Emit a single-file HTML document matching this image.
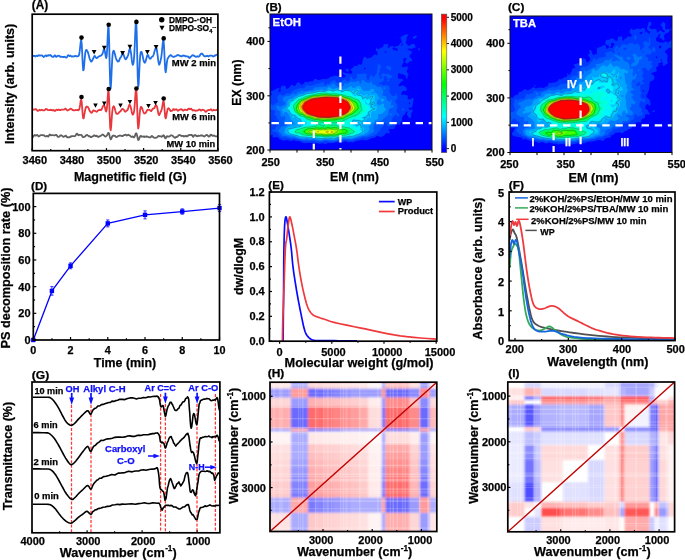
<!DOCTYPE html>
<html><head><meta charset="utf-8"><style>
html,body{margin:0;padding:0;background:#fff;width:685px;height:560px;overflow:hidden}
svg{display:block;will-change:transform;font-family:"Liberation Sans",sans-serif;font-weight:bold}
text{stroke:#000;stroke-width:.25px}text[fill="#fff"]{stroke:#fff}text[fill="#0f0fff"]{stroke:#0f0fff}
</style></head><body>
<svg width="685" height="560" viewBox="0 0 685 560">
<defs><filter id="blur1" x="-5%" y="-5%" width="110%" height="110%"><feGaussianBlur stdDeviation="0.7"/></filter><filter id="blur2" x="-5%" y="-5%" width="110%" height="110%"><feGaussianBlur stdDeviation="1.3"/></filter></defs>
<rect width="685" height="560" fill="#fff"/>
<path d="M32.7,56.11 33.2,56.02 33.7,55.65 34.2,55.95 34.7,55.9 35.2,56.55 35.7,56.22 36.2,55.91 36.7,55.68 37.2,55.95 37.7,56.13 38.2,55.48 38.7,55.17 39.2,55.37 39.7,55.7 40.2,55.71 40.7,55.48 41.2,55.37 41.7,55.44 42.2,55.41 42.7,56.22 43.2,56.5 43.7,57.04 44.2,56.43 44.7,56.41 45.2,55.57 45.7,55.67 46.2,55.39 46.7,56.19 47.2,55.75 47.7,55.68 48.2,55.18 48.7,55.55 49.2,55.42 49.7,55.45 50.2,54.98 50.7,55.25 51.2,55.73 51.7,56.64 52.2,56.69 52.7,56.74 53.2,56.68 53.7,56.77 54.2,56.03 54.7,55.46 55.2,55.44 55.7,56.35 56.2,56.93 56.7,56.64 57.2,56.11 57.7,55.98 58.2,55.96 58.7,55.68 59.2,55.86 59.7,56.28 60.2,56.73 60.7,56.68 61.2,56.78 61.7,56.73 62.2,56.78 62.7,56.93 63.2,57.15 63.7,56.86 64.2,56.84 64.7,56.75 65.2,57.11 65.7,57.35 66.2,57.53 66.7,57.39 67.2,56.64 67.7,55.71 68.2,55.1 68.7,55.48 69.2,55.84 69.7,56.04 70.2,55.5 70.7,55.88 71.2,56.01 71.7,56.69 72.2,56.42 72.7,56.64 73.2,56.42 73.7,56.39 74.2,56.4 74.7,56.04 75.2,55.96 75.7,55.91 76.2,56.15 76.7,56.45 77.2,56.41 77.7,56.25 78.2,56.18 78.7,55.59 79.2,54.3 79.7,51.19 80.2,46.54 80.7,41.84 81.2,39.83 81.7,43.57 82.2,53.21 82.7,63.98 83.2,70.34 83.7,69.97 84.2,64.71 84.7,58.68 85.2,53.54 85.7,50.88 86.2,49.96 86.7,50 87.2,50.87 87.7,51.64 88.2,53.17 88.7,54.91 89.2,57.05 89.7,58.74 90.2,60 90.7,60.95 91.2,61.64 91.7,61.35 92.2,60.54 92.7,59.52 93.2,58.46 93.7,57.48 94.2,56.26 94.7,55.98 95.2,56.48 95.7,57.2 96.2,57.86 96.7,58.04 97.2,57.94 97.7,57.6 98.2,56.73 98.7,56.49 99.2,56.15 99.7,56.18 100.2,55.94 100.7,55.76 101.2,55.27 101.7,54.96 102.2,54.33 102.7,53.1 103.2,51.44 103.7,49.57 104.2,49.33 104.7,50.31 105.2,53.06 105.7,56.25 106.2,58.14 106.7,56.17 107.2,48.32 107.7,36.2 108.2,26.51 108.7,27.95 109.2,43.73 109.7,66.73 110.2,84.41 110.7,88.52 111.2,81.08 111.7,69.23 112.2,59.75 112.7,53.71 113.2,51.11 113.7,50.69 114.2,51.75 114.7,53.31 115.2,55.32 115.7,57.34 116.2,58.83 116.7,60.04 117.2,60.83 117.7,61.58 118.2,61.45 118.7,61.47 119.2,60.35 119.7,59.2 120.2,57.8 120.7,57.34 121.2,56.68 121.7,55.19 122.2,53.84 122.7,52.89 123.2,53.86 123.7,54.87 124.2,56.65 124.7,57.91 125.2,58.89 125.7,59.38 126.2,58.64 126.7,58.06 127.2,57.05 127.7,56.11 128.2,54.81 128.7,52.72 129.2,50.09 129.7,48.83 130.2,48.77 130.7,51.39 131.2,54.52 131.7,59.15 132.2,62.76 132.7,64.84 133.2,64.24 133.7,61.71 134.2,55.88 134.7,46.74 135.2,34.38 135.7,23.38 136.2,20.73 136.7,32.29 137.2,54.88 137.7,76.79 138.2,86.9 138.7,83.52 139.2,73 139.7,62.32 140.2,55.67 140.7,52.24 141.2,51.85 141.7,52.05 142.2,53.95 142.7,56.04 143.2,58.75 143.7,60.89 144.2,62.07 144.7,62.7 145.2,62.15 145.7,61.16 146.2,58.97 146.7,57.21 147.2,55.37 147.7,55.05 148.2,55.15 148.7,56.59 149.2,57.63 149.7,58.57 150.2,58.81 150.7,58.55 151.2,57.6 151.7,57.08 152.2,56.56 152.7,56.47 153.2,55.64 153.7,54.49 154.2,52.64 154.7,50.73 155.2,49.39 155.7,48.11 156.2,48.02 156.7,48.92 157.2,52.28 157.7,55.96 158.2,60.43 158.7,63.19 159.2,64.72 159.7,63.8 160.2,62.24 160.7,59.93 161.2,57.58 161.7,53.81 162.2,48.96 162.7,43.54 163.2,40.14 163.7,41.75 164.2,49.46 164.7,60.83 165.2,69.61 165.7,72.34 166.2,69.11 166.7,64.18 167.2,60.29 167.7,58.57 168.2,57.56 168.7,57.05 169.2,56.1 169.7,55.94 170.2,55.1 170.7,55.16 171.2,55.21 171.7,55.81 172.2,56.35 172.7,56.54 173.2,56.85 173.7,56.9 174.2,56.78 174.7,56.42 175.2,56.29 175.7,56.17 176.2,56.01 176.7,55.42 177.2,55.4 177.7,54.96 178.2,55.21 178.7,55.04 179.2,55.71 179.7,55.73 180.2,55.98 180.7,56.25 181.2,56.24 181.7,56.44 182.2,55.8 182.7,55.83 183.2,55.5 183.7,55.8 184.2,55.66 184.7,55.94 185.2,56.09 185.7,56.34 186.2,56.26 186.7,56.31 187.2,56.56 187.7,56.57 188.2,56.49 188.7,57.14 189.2,57.94 189.7,57.99 190.2,57.39 190.7,56.66 191.2,56.51 191.7,55.98 192.2,55.42 192.7,55.21 193.2,55.2 193.7,55.6 194.2,55.82 194.7,56.13 195.2,56.48 195.7,56.89 196.2,56.77 196.7,56.58 197.2,56.23 197.7,56.65 198.2,56.54 198.7,56.77 199.2,56.21 199.7,55.86 200.2,54.67 200.7,54.29 201.2,53.69 201.7,53.64 202.2,53.75 202.7,54.11 203.2,55.05 203.7,55.54 204.2,56.13 204.7,56.4 205.2,56.25 205.7,56.32 206.2,56.09 206.7,56.17 207.2,55.74 207.7,56.06 208.2,56.1 208.7,56.44 209.2,55.78 209.7,55.7 210.2,55.57 210.7,55.75 211.2,55.6 211.7,55.72 212.2,55.87 212.7,56.06 213.2,56.53 213.7,56.27 214.2,56.18 214.7,55.45 215.2,55.64 215.7,55.42 216.2,54.97 216.7,54.73 217.2,55.07" fill="none" stroke="#1f6fe8" stroke-width="1.8" stroke-linejoin="round"/>
<path d="M32.7,109.65 33.2,109.72 33.7,109.49 34.2,109.64 34.7,109.44 35.2,109.39 35.7,109.09 36.2,109.16 36.7,109.87 37.2,110.55 37.7,110.88 38.2,110.77 38.7,110.52 39.2,110.02 39.7,109.78 40.2,110.07 40.7,110.34 41.2,110.04 41.7,109.7 42.2,109.95 42.7,110.25 43.2,110.31 43.7,110.37 44.2,110.44 44.7,110.27 45.2,109.63 45.7,109.17 46.2,108.93 46.7,109.28 47.2,109.41 47.7,110.07 48.2,110.06 48.7,110.19 49.2,110.17 49.7,109.96 50.2,110.02 50.7,109.65 51.2,110.05 51.7,110.01 52.2,110.41 52.7,110.16 53.2,110.42 53.7,110.17 54.2,110.74 54.7,110.72 55.2,110.87 55.7,110.29 56.2,109.9 56.7,109.65 57.2,110 57.7,110.04 58.2,109.76 58.7,109.49 59.2,109.96 59.7,110.21 60.2,110.21 60.7,109.95 61.2,109.81 61.7,109.65 62.2,109.62 62.7,109.66 63.2,109.68 63.7,109.63 64.2,109.5 64.7,109.16 65.2,108.72 65.7,108.6 66.2,109.41 66.7,109.92 67.2,110.5 67.7,110.36 68.2,110.14 68.7,110.03 69.2,109.62 69.7,109.24 70.2,108.9 70.7,108.66 71.2,108.95 71.7,109.07 72.2,109.83 72.7,110.06 73.2,110.33 73.7,110.23 74.2,110.42 74.7,110.34 75.2,110.05 75.7,109.96 76.2,110.07 76.7,110.06 77.2,110.09 77.7,109.87 78.2,110.27 78.7,109.76 79.2,109.45 79.7,107.24 80.2,104.44 80.7,100.69 81.2,99.5 81.7,102.15 82.2,108.1 82.7,114.69 83.2,118.35 83.7,118.28 84.2,115.46 84.7,112.55 85.2,109.93 85.7,107.93 86.2,106.73 86.7,106.42 87.2,106.84 87.7,106.82 88.2,107.37 88.7,108.53 89.2,109.7 89.7,111.03 90.2,111.48 90.7,112.4 91.2,112.5 91.7,112.89 92.2,112.1 92.7,111.41 93.2,110.29 93.7,110.42 94.2,110.53 94.7,110.96 95.2,111.03 95.7,111.35 96.2,111.51 96.7,111.8 97.2,111.54 97.7,110.78 98.2,110.36 98.7,110.15 99.2,110.18 99.7,109.9 100.2,109.63 100.7,110.17 101.2,109.94 101.7,109.25 102.2,107.96 102.7,106.57 103.2,105.94 103.7,105.2 104.2,105.38 104.7,106.55 105.2,108.51 105.7,110.78 106.2,111.62 106.7,109.83 107.2,105 107.7,97.38 108.2,91.29 108.7,91.71 109.2,101.63 109.7,116.14 110.2,127.94 110.7,130.37 111.2,126.21 111.7,118.34 112.2,112.4 112.7,108.29 113.2,106.64 113.7,106.27 114.2,106.91 114.7,108.23 115.2,110.31 115.7,111.99 116.2,113.52 116.7,113.85 117.2,113.82 117.7,113.79 118.2,113.24 118.7,112.98 119.2,112.11 119.7,111.89 120.2,111.39 120.7,111.1 121.2,110.34 121.7,109.51 122.2,108.92 122.7,108.88 123.2,109.23 123.7,109.65 124.2,110.3 124.7,111.51 125.2,111.76 125.7,111.52 126.2,111 126.7,110.49 127.2,110.42 127.7,109.59 128.2,108.43 128.7,106.58 129.2,104.95 129.7,104.81 130.2,105.52 130.7,107.08 131.2,108.99 131.7,111.5 132.2,113.69 132.7,114.67 133.2,114.51 133.7,113.06 134.2,110.39 134.7,105.13 135.2,97.86 135.7,90.79 136.2,88.55 136.7,95.21 137.2,108.64 137.7,122.17 138.2,128.56 138.7,126.44 139.2,120.32 139.7,113.5 140.2,109.44 140.7,107.19 141.2,106.86 141.7,107.37 142.2,108.37 142.7,110.03 143.2,111.47 143.7,112.71 144.2,113.38 144.7,113.49 145.2,113.26 145.7,112.73 146.2,112.04 146.7,110.92 147.2,110.25 147.7,109.78 148.2,109.94 148.7,109.76 149.2,109.97 149.7,109.95 150.2,110.49 150.7,110.87 151.2,111.14 151.7,110.54 152.2,109.48 152.7,108.77 153.2,108.42 153.7,108.53 154.2,108.27 154.7,107.42 155.2,106.18 155.7,105.2 156.2,105.08 156.7,105.95 157.2,107.46 157.7,110.01 158.2,112.76 158.7,114.7 159.2,115.15 159.7,114.11 160.2,112.99 160.7,111.92 161.2,111.05 161.7,109.56 162.2,107.06 162.7,103.81 163.2,101.32 163.7,101.1 164.2,105.12 164.7,111.44 165.2,117.06 165.7,118.43 166.2,116.9 166.7,113.54 167.2,111.13 167.7,108.82 168.2,108.34 168.7,108.25 169.2,108.79 169.7,109.46 170.2,110.51 170.7,111 171.2,110.93 171.7,110.74 172.2,110.68 172.7,110.29 173.2,109.22 173.7,109.06 174.2,109.26 174.7,109.99 175.2,109.69 175.7,109.51 176.2,109.14 176.7,109.53 177.2,110.19 177.7,110.73 178.2,110.69 178.7,110.28 179.2,109.76 179.7,109.77 180.2,109.56 180.7,109.31 181.2,109.14 181.7,109.37 182.2,110.01 182.7,110.45 183.2,110.63 183.7,110.33 184.2,109.85 184.7,109.73 185.2,109.73 185.7,109.86 186.2,109.93 186.7,110.07 187.2,110.18 187.7,109.61 188.2,108.87 188.7,108.64 189.2,108.64 189.7,109.24 190.2,108.97 190.7,109.13 191.2,108.67 191.7,109.48 192.2,109.8 192.7,110.53 193.2,110.24 193.7,110.21 194.2,110.24 194.7,110.41 195.2,110.66 195.7,110.86 196.2,110.54 196.7,110.67 197.2,110.63 197.7,110.45 198.2,110.14 198.7,109.58 199.2,109.58 199.7,109.51 200.2,109.95 200.7,110.54 201.2,110.6 201.7,110.21 202.2,109.85 202.7,109.76 203.2,109.96 203.7,109.84 204.2,110.23 204.7,110.55 205.2,111.58 205.7,111.78 206.2,111.66 206.7,110.97 207.2,110.62 207.7,110.39 208.2,110.06 208.7,109.99 209.2,110.03 209.7,110.12 210.2,109.68 210.7,109.31 211.2,109.39 211.7,109.97 212.2,110.59 212.7,110.55 213.2,110.31 213.7,109.73 214.2,109.94 214.7,110.07 215.2,110.29 215.7,110.23 216.2,110.16 216.7,109.91 217.2,109.67" fill="none" stroke="#e8383d" stroke-width="1.8" stroke-linejoin="round"/>
<path d="M32.7,136.87 33.2,136.88 33.7,135.85 34.2,135.52 34.7,134.97 35.2,135.36 35.7,135.59 36.2,135.48 36.7,135.18 37.2,134.85 37.7,135.47 38.2,135.87 38.7,136.49 39.2,136.2 39.7,135.95 40.2,135.3 40.7,135.21 41.2,135.12 41.7,135.06 42.2,135.04 42.7,135.31 43.2,135.2 43.7,135.34 44.2,135.37 44.7,135.94 45.2,136.32 45.7,136.45 46.2,136.31 46.7,135.85 47.2,135.99 47.7,136.33 48.2,136.64 48.7,135.92 49.2,135.13 49.7,134.5 50.2,134.87 50.7,135.11 51.2,135.31 51.7,135.19 52.2,135.19 52.7,135.08 53.2,135.22 53.7,135.29 54.2,135.38 54.7,135.37 55.2,135.09 55.7,135.05 56.2,134.8 56.7,135.16 57.2,135.9 57.7,136.69 58.2,136.91 58.7,136.91 59.2,136.69 59.7,136.34 60.2,135.6 60.7,135.29 61.2,135.47 61.7,135.46 62.2,135.85 62.7,136.39 63.2,136.79 63.7,136.79 64.2,136.44 64.7,136.42 65.2,135.84 65.7,135.66 66.2,135.94 66.7,136.75 67.2,137.38 67.7,137.19 68.2,137.41 68.7,137.35 69.2,137.31 69.7,137.1 70.2,136.71 70.7,136.77 71.2,136.24 71.7,136.29 72.2,136.12 72.7,136.07 73.2,136.08 73.7,136.16 74.2,136.23 74.7,136.33 75.2,136.01 75.7,135.45 76.2,134.4 76.7,133.73 77.2,133.72 77.7,134.5 78.2,134.97 78.7,135.35 79.2,134.89 79.7,134.87 80.2,134.86 80.7,134.89 81.2,134.88 81.7,135.24 82.2,136.03 82.7,136.98 83.2,137.22 83.7,137.11 84.2,136.94 84.7,136.7 85.2,136.37 85.7,135.79 86.2,135.2 86.7,135.09 87.2,134.99 87.7,135.47 88.2,135.7 88.7,136.25 89.2,136.32 89.7,136.19 90.2,136.53 90.7,137.03 91.2,137.1 91.7,136.81 92.2,136.58 92.7,136.31 93.2,136.19 93.7,135.48 94.2,135.36 94.7,135.45 95.2,135.88 95.7,136.16 96.2,136.1 96.7,135.67 97.2,136.35 97.7,136.35 98.2,137.07 98.7,136.6 99.2,136.57 99.7,136.37 100.2,136.05 100.7,135.94 101.2,135.46 101.7,135.14 102.2,134.66 102.7,134.5 103.2,134.71 103.7,135.23 104.2,135.62 104.7,136.22 105.2,136.43 105.7,136.6 106.2,136.17 106.7,135.67 107.2,135.01 107.7,134.02 108.2,132.85 108.7,132.99 109.2,134.15 109.7,136.39 110.2,138.03 110.7,139.3 111.2,138.97 111.7,137.65 112.2,136.36 112.7,135.76 113.2,135.84 113.7,135.68 114.2,135.67 114.7,135.81 115.2,136.1 115.7,136.61 116.2,137.09 116.7,137.02 117.2,136.72 117.7,136.25 118.2,136.11 118.7,135.98 119.2,135.73 119.7,135.52 120.2,135.55 120.7,135.6 121.2,135.85 121.7,135.86 122.2,136.07 122.7,136.06 123.2,135.61 123.7,135.35 124.2,135.03 124.7,135.02 125.2,134.77 125.7,134.75 126.2,134.98 126.7,135.59 127.2,135.22 127.7,135.09 128.2,134.69 128.7,135.2 129.2,135.3 129.7,135.58 130.2,135.72 130.7,136.34 131.2,136.79 131.7,136.92 132.2,136.65 132.7,136.43 133.2,136.91 133.7,137.37 134.2,137.31 134.7,136.44 135.2,134.92 135.7,133.59 136.2,133.19 136.7,133.97 137.2,136.03 137.7,138.36 138.2,140.12 138.7,139.79 139.2,138.77 139.7,137.14 140.2,136.43 140.7,135.86 141.2,136.15 141.7,136.73 142.2,136.71 142.7,136.59 143.2,136.43 143.7,136.55 144.2,136.95 144.7,136.53 145.2,136.81 145.7,136.56 146.2,136.74 146.7,136.35 147.2,136.58 147.7,136.71 148.2,137.1 148.7,137.19 149.2,137.19 149.7,137.46 150.2,137.36 150.7,137.26 151.2,136.66 151.7,135.96 152.2,136.12 152.7,136.6 153.2,137.34 153.7,137.43 154.2,137.62 154.7,137.79 155.2,137.86 155.7,137.71 156.2,137.54 156.7,137.57 157.2,137.2 157.7,136.65 158.2,136.07 158.7,135.97 159.2,136.13 159.7,136.37 160.2,136.27 160.7,136.34 161.2,136.26 161.7,136.78 162.2,136.44 162.7,136.14 163.2,135.25 163.7,135.32 164.2,135.85 164.7,137.36 165.2,138.17 165.7,138.27 166.2,137.23 166.7,136.43 167.2,136.19 167.7,136.66 168.2,136.69 168.7,136.62 169.2,136.35 169.7,136.37 170.2,135.89 170.7,135.5 171.2,135.44 171.7,135.35 172.2,135.52 172.7,135.81 173.2,136.59 173.7,136.78 174.2,137.45 174.7,137.72 175.2,137.73 175.7,137.28 176.2,136.76 176.7,137.08 177.2,136.58 177.7,136.62 178.2,135.67 178.7,135.46 179.2,134.99 179.7,135.07 180.2,135.06 180.7,135.59 181.2,135.65 181.7,136.03 182.2,135.84 182.7,136.02 183.2,135.89 183.7,136.54 184.2,136.46 184.7,136.38 185.2,135.63 185.7,136.09 186.2,135.87 186.7,136.54 187.2,136.3 187.7,136.2 188.2,135.35 188.7,135.06 189.2,135.15 189.7,135.01 190.2,134.97 190.7,134.86 191.2,135.02 191.7,134.82 192.2,135.51 192.7,136.29 193.2,136.91 193.7,136.26 194.2,135.22 194.7,135.03 195.2,135.05 195.7,135.48 196.2,135.52 196.7,136.19 197.2,136.33 197.7,136.23 198.2,135.69 198.7,135.72 199.2,135.92 199.7,135.8 200.2,135.63 200.7,135.37 201.2,135.54 201.7,135.48 202.2,135.44 202.7,135.65 203.2,136 203.7,136.37 204.2,136.5 204.7,136.19 205.2,135.82 205.7,135.24 206.2,135.08 206.7,134.8 207.2,135.15 207.7,135.68 208.2,136.04 208.7,136.55 209.2,136.37 209.7,136.31 210.2,135.12 210.7,134.86 211.2,134.65 211.7,135.24 212.2,135.61 212.7,135.95 213.2,135.93 213.7,135.48 214.2,135.55 214.7,135.85 215.2,136.25 215.7,136.47 216.2,136.39 216.7,136.37 217.2,136.21" fill="none" stroke="#606060" stroke-width="1.8" stroke-linejoin="round"/>
<circle cx="81.5" cy="37.6" r="2.3"/>
<circle cx="108.7" cy="24.8" r="2.3"/>
<circle cx="136.4" cy="21.9" r="2.3"/>
<circle cx="163.7" cy="38.4" r="2.3"/>
<path d="M91.7,50.04L96.5,50.04L94.1,54.6Z"/>
<path d="M101.9,45.64L106.7,45.64L104.3,50.2Z"/>
<path d="M120.2,51.04L125,51.04L122.6,55.6Z"/>
<path d="M127.5,44.64L132.3,44.64L129.9,49.2Z"/>
<path d="M145,50.04L149.8,50.04L147.4,54.6Z"/>
<path d="M153.7,44.94L158.5,44.94L156.1,49.5Z"/>
<circle cx="81.5" cy="97" r="2.3"/>
<circle cx="108.7" cy="89" r="2.3"/>
<circle cx="136.4" cy="88.5" r="2.3"/>
<circle cx="163.7" cy="98.5" r="2.3"/>
<path d="M93.2,103.43L97.8,103.43L95.5,107.8Z"/>
<path d="M102,101.43L106.6,101.43L104.3,105.8Z"/>
<path d="M118.2,103.43L122.8,103.43L120.5,107.8Z"/>
<path d="M127.6,99.93L132.2,99.93L129.9,104.3Z"/>
<path d="M146.2,103.93L150.8,103.93L148.5,108.3Z"/>
<path d="M153.2,100.93L157.8,100.93L155.5,105.3Z"/>
<rect x="32.2" y="14.2" width="185.7" height="136.5" fill="none" stroke="#000" stroke-width="1.7"/>
<line x1="32.2" y1="150.7" x2="32.2" y2="148.1" stroke="#000" stroke-width="1.2"/>
<text x="34.8" y="164" font-size="11" text-anchor="middle">3460</text>
<line x1="50.77" y1="150.7" x2="50.77" y2="149.1" stroke="#000" stroke-width="1.2"/>
<line x1="69.34" y1="150.7" x2="69.34" y2="148.1" stroke="#000" stroke-width="1.2"/>
<text x="71.94" y="164" font-size="11" text-anchor="middle">3480</text>
<line x1="87.91" y1="150.7" x2="87.91" y2="149.1" stroke="#000" stroke-width="1.2"/>
<line x1="106.48" y1="150.7" x2="106.48" y2="148.1" stroke="#000" stroke-width="1.2"/>
<text x="109.08" y="164" font-size="11" text-anchor="middle">3500</text>
<line x1="125.05" y1="150.7" x2="125.05" y2="149.1" stroke="#000" stroke-width="1.2"/>
<line x1="143.62" y1="150.7" x2="143.62" y2="148.1" stroke="#000" stroke-width="1.2"/>
<text x="146.22" y="164" font-size="11" text-anchor="middle">3520</text>
<line x1="162.19" y1="150.7" x2="162.19" y2="149.1" stroke="#000" stroke-width="1.2"/>
<line x1="180.76" y1="150.7" x2="180.76" y2="148.1" stroke="#000" stroke-width="1.2"/>
<text x="183.36" y="164" font-size="11" text-anchor="middle">3540</text>
<line x1="199.33" y1="150.7" x2="199.33" y2="149.1" stroke="#000" stroke-width="1.2"/>
<line x1="217.9" y1="150.7" x2="217.9" y2="148.1" stroke="#000" stroke-width="1.2"/>
<text x="220.5" y="164" font-size="11" text-anchor="middle">3560</text>
<text x="73.9" y="181.2" font-size="13" textLength="112.8" lengthAdjust="spacingAndGlyphs">Magnetific field (G)</text>
<text x="14.5" y="83.8" font-size="12.6" text-anchor="middle" textLength="120.2" lengthAdjust="spacingAndGlyphs" transform="rotate(-90 14.5 83.8)">Intensity (arb. units)</text>
<text x="31.8" y="9.1" font-size="12" textLength="16.4" lengthAdjust="spacingAndGlyphs">(A)</text>
<circle cx="161.7" cy="19.8" r="2.7"/>
<path d="M159.4,25.66L164.6,25.66L162,30.6Z"/>
<text x="168.9" y="22.5" font-size="8.3" textLength="43.2" lengthAdjust="spacingAndGlyphs">DMPO-·OH</text>
<text x="168.9" y="30.7" font-size="8.3" textLength="40.2" lengthAdjust="spacingAndGlyphs">DMPO-SO</text>
<text x="209.3" y="33" font-size="5.5">4</text>
<text x="212.2" y="28.5" font-size="6">·-</text>
<text x="171.8" y="65.7" font-size="9" textLength="44.2" lengthAdjust="spacingAndGlyphs">MW 2 min</text>
<text x="172.2" y="120.3" font-size="9" textLength="43.6" lengthAdjust="spacingAndGlyphs">MW 6 min</text>
<text x="166.6" y="146.7" font-size="9" textLength="48.7" lengthAdjust="spacingAndGlyphs">MW 10 min</text>
<clipPath id="clipB"><rect x="270" y="14" width="162" height="136"/></clipPath>
<rect x="270" y="14" width="162" height="136" fill="#0000ff"/>
<g clip-path="url(#clipB)">
<path d="M325.0,144.4L323.0,143.3L322.0,143.2L320.0,143.9L317.0,142.9L314.0,143.5L311.0,142.8L305.0,143.3L302.0,142.7L301.4,142.0L299.0,141.0L296.0,141.0L294.0,140.3L291.0,141.0L287.0,140.1L284.0,140.8L280.0,139.4L278.0,137.4L277.0,136.9L274.0,137.4L272.4,137.0L273.0,134.9L272.0,134.8L270.0,135.8L270.0,122.3L270.4,122.0L270.0,121.4L270.0,95.0L271.0,95.3L271.9,95.0L271.9,94.0L270.4,92.0L278.0,88.1L279.0,88.0L279.6,89.0L278.1,91.0L279.0,91.9L281.0,91.0L280.4,89.0L280.7,88.0L281.7,86.0L283.0,85.4L285.5,86.0L286.0,88.1L287.0,89.2L289.8,87.0L291.0,84.9L292.0,84.8L294.0,86.1L295.0,85.9L297.0,83.1L298.0,82.3L299.0,82.3L301.0,84.7L302.0,84.7L303.0,84.2L305.0,81.8L307.0,81.7L309.0,82.3L310.0,81.1L312.0,81.6L313.0,81.1L314.0,79.4L315.0,79.0L316.1,79.0L318.0,80.0L319.0,80.0L323.0,78.9L326.0,79.2L329.5,78.0L330.0,76.7L333.0,76.4L334.0,75.5L336.0,75.9L338.0,75.4L341.0,76.9L344.0,77.8L345.4,77.0L345.4,76.0L345.0,75.1L343.0,74.0L342.5,73.0L343.0,72.2L346.0,73.2L348.0,73.2L350.0,74.0L351.0,73.8L352.0,73.0L352.4,72.0L351.9,71.0L350.3,70.0L351.0,69.0L352.9,68.0L354.0,66.1L357.0,66.0L358.0,64.7L359.0,64.2L361.0,64.8L362.0,64.0L362.5,61.0L363.4,58.0L364.0,57.3L365.0,56.8L366.0,57.3L367.0,58.4L371.0,57.6L372.0,57.1L373.5,55.0L375.0,54.4L376.6,55.0L377.0,56.1L377.7,53.0L376.0,50.3L376.0,47.5L377.4,49.0L379.0,49.3L380.5,48.0L383.0,47.0L383.5,46.0L383.4,45.0L384.0,43.9L386.0,44.2L388.0,43.9L388.4,45.0L387.4,47.0L388.0,47.8L389.0,47.7L390.0,46.7L392.0,45.9L393.0,46.1L394.0,47.0L398.0,46.0L399.0,45.3L400.0,43.5L402.0,42.2L400.7,38.0L400.9,37.0L405.0,34.5L407.0,34.3L408.0,34.7L408.0,35.4L406.4,38.0L406.5,40.0L405.8,42.0L406.0,43.0L408.0,45.4L409.0,45.9L412.0,44.1L414.4,44.0L415.1,46.0L416.0,47.0L415.0,47.8L414.0,47.5L412.0,48.7L409.0,48.5L407.4,49.0L407.8,50.0L411.0,50.7L411.9,52.0L411.9,53.0L409.1,56.0L411.8,59.0L412.2,61.0L410.0,61.2L407.0,63.7L404.9,62.0L406.8,58.0L405.0,58.0L403.3,59.0L403.2,60.0L403.7,62.0L401.5,66.0L402.0,67.0L404.0,67.3L407.0,66.3L407.9,67.0L407.7,69.0L406.5,71.0L407.0,72.6L408.5,74.0L408.5,75.0L407.5,76.0L407.6,78.0L407.2,79.0L406.1,78.0L405.6,76.0L403.0,74.3L401.0,74.1L399.0,73.0L398.0,74.3L397.8,76.0L398.2,78.0L399.0,78.7L400.0,79.2L402.0,78.6L403.2,80.0L402.0,81.5L401.0,81.7L400.0,83.4L398.9,84.0L398.6,85.0L399.0,86.4L401.0,86.1L403.0,85.3L406.0,87.3L406.8,89.0L406.8,90.0L406.0,90.9L402.5,91.0L400.9,95.0L404.0,94.5L407.0,95.3L408.0,96.0L407.5,98.0L407.9,99.0L409.0,99.5L410.0,99.5L412.0,98.0L413.0,98.3L413.5,99.0L413.6,100.0L413.0,101.2L413.0,103.0L412.4,105.0L412.3,107.0L412.0,107.5L409.0,107.6L408.6,108.0L409.0,109.5L410.0,109.9L412.0,109.4L412.8,110.0L412.7,111.0L411.3,113.0L411.3,116.0L410.6,118.0L410.0,118.5L409.0,117.9L406.7,114.0L408.0,111.8L407.0,111.5L406.0,111.7L405.2,114.0L403.0,115.9L402.3,117.0L402.1,119.0L402.5,121.0L401.0,121.9L400.0,124.6L399.0,124.8L397.0,124.0L396.0,124.7L394.0,129.0L389.0,129.0L388.6,130.0L389.3,131.0L389.8,133.0L389.0,133.5L387.0,132.7L385.2,134.0L384.0,135.7L381.0,136.9L380.0,136.9L378.0,135.8L377.0,135.8L375.0,137.6L374.0,138.0L372.0,138.1L369.0,139.6L366.0,140.4L363.0,140.1L356.0,141.0L353.0,142.6L351.0,142.1L349.0,142.4L345.0,141.2L341.0,142.7L337.0,142.1L333.0,143.1L328.5,143.0L327.0,143.2L325.0,144.4ZM414.0,39.0L413.0,38.5L413.0,37.1L416.0,35.5L416.8,36.0L416.7,37.0L414.0,39.0ZM397.0,37.6L396.2,37.0L397.0,36.8L397.0,37.6ZM396.0,38.1L396.0,37.4L396.5,38.0L396.0,38.1ZM401.4,46.0L402.9,45.0L403.0,43.8L402.0,43.3L400.9,46.0L401.4,46.0ZM398.0,50.0L397.8,49.0L397.0,48.3L395.0,48.2L394.0,47.0L393.0,47.5L392.2,49.0L396.0,50.7L397.0,50.8L398.0,50.0ZM419.0,50.2L417.8,49.0L418.0,48.6L419.0,48.2L420.1,49.0L419.9,50.0L419.0,50.2ZM386.7,52.0L386.0,51.2L383.8,52.0L386.0,52.7L386.7,52.0ZM365.4,69.0L365.6,68.0L365.0,67.5L364.0,67.9L364.0,69.5L365.4,69.0ZM348.0,71.6L347.0,71.8L346.0,70.3L345.6,69.0L346.0,68.6L349.2,70.0L348.0,71.6ZM400.1,69.0L400.1,69.0ZM393.6,84.0L392.6,84.0L393.0,84.5L393.6,84.0ZM410.1,104.0L410.0,101.8L409.0,102.7L408.8,104.0L409.0,104.5L410.1,104.0ZM417.0,108.3L416.6,108.0L417.0,107.8L417.0,108.3ZM408.0,120.6L407.7,120.0L408.0,119.6L408.6,120.0L408.0,120.6Z" fill="#0038ff"/>
<path d="M401.0,54.0L401.0,54.0ZM337.0,141.0L333.0,141.7L329.0,141.5L325.0,140.7L323.0,141.6L321.0,141.9L316.0,141.4L313.0,140.8L310.0,141.3L307.0,140.9L305.0,141.4L294.0,138.5L292.0,139.2L287.0,138.1L285.0,137.2L283.0,138.1L282.0,137.8L280.0,136.5L277.0,132.5L274.0,131.4L273.0,131.6L272.3,131.0L272.1,130.0L273.0,129.5L274.0,130.0L275.0,129.6L276.0,126.1L278.0,125.7L278.5,125.0L278.9,121.0L278.3,120.0L276.9,119.0L276.7,117.0L274.3,114.0L275.2,112.0L275.1,111.0L274.0,110.3L271.0,109.9L270.3,109.0L270.5,107.0L270.0,106.3L270.0,104.2L271.0,104.2L273.0,105.2L275.0,103.4L277.0,103.0L278.0,102.0L278.0,100.0L277.2,98.0L277.4,97.0L279.0,94.9L280.0,94.6L282.0,95.4L283.0,95.4L284.6,95.0L286.0,93.5L287.0,93.2L290.0,93.5L290.8,93.0L292.0,91.3L297.0,88.7L298.0,88.8L301.0,87.9L304.0,88.4L304.8,88.0L306.0,85.6L307.0,85.1L311.0,85.9L317.0,83.7L320.0,83.4L321.0,82.4L323.0,82.1L324.0,82.5L324.6,85.0L325.0,85.2L325.8,85.0L327.0,83.4L329.0,83.7L331.6,81.0L335.0,79.9L336.0,82.0L338.0,83.0L340.0,81.9L342.0,81.8L343.5,80.0L345.0,79.4L346.0,79.7L347.0,80.9L348.0,81.2L349.6,80.0L350.1,79.0L350.1,77.0L351.0,76.4L352.0,76.5L352.2,78.0L353.0,79.3L354.0,79.6L356.0,78.8L357.0,78.0L356.9,75.0L357.4,74.0L358.0,73.7L361.0,74.1L364.0,73.3L366.3,74.0L367.4,75.0L366.3,76.0L366.4,77.0L367.5,80.0L368.0,80.3L369.2,79.0L370.0,75.5L371.0,75.2L372.0,75.7L373.0,76.9L374.0,76.7L376.8,73.0L376.9,71.0L377.6,69.0L377.4,68.0L378.0,64.5L379.0,63.9L380.3,65.0L380.8,67.0L379.7,70.0L379.3,73.0L378.4,74.0L379.0,74.4L379.7,76.0L379.5,78.0L381.0,78.7L381.9,78.0L382.0,77.0L380.9,75.0L381.6,74.0L384.0,72.9L386.0,74.3L388.0,74.1L391.0,75.2L392.2,76.0L392.4,77.0L389.0,78.9L388.0,79.0L386.0,76.2L385.0,75.7L383.6,77.0L384.0,80.2L381.0,82.4L379.1,83.0L378.5,84.0L380.0,84.5L381.0,84.3L383.0,85.4L386.0,85.1L389.0,85.8L390.0,90.0L389.2,91.0L389.4,92.0L392.0,95.7L394.0,96.1L395.0,95.7L395.7,95.0L395.5,94.0L396.0,93.0L397.6,97.0L397.1,99.0L396.0,99.5L395.3,101.0L395.4,102.0L397.1,104.0L397.4,107.0L396.2,112.0L398.0,113.0L399.7,116.0L398.0,116.3L397.1,116.0L396.0,114.5L395.0,114.8L394.4,116.0L392.3,118.0L392.1,120.0L391.1,122.0L391.1,123.0L392.4,125.0L388.0,126.4L387.0,125.4L386.0,122.9L385.0,122.6L383.9,124.0L383.6,126.0L383.0,127.0L380.9,128.0L380.0,130.7L378.1,132.0L377.0,133.8L374.0,135.6L371.0,136.2L366.0,137.9L364.0,137.4L362.0,137.6L359.0,138.9L356.0,139.3L352.0,140.7L344.0,139.9L342.0,140.6L337.0,141.0ZM390.0,70.4L386.4,68.0L386.0,66.8L387.0,66.0L388.0,66.0L390.8,67.0L391.2,68.0L391.1,69.0L390.7,70.0L390.0,70.4ZM389.0,81.3L388.0,81.7L387.0,81.0L388.0,79.1L389.0,79.4L389.4,80.0L389.4,81.0L389.0,81.3ZM395.0,88.0L395.0,88.0ZM388.1,91.0L387.0,90.3L386.9,91.0L388.1,91.0ZM395.0,93.3L395.0,92.8L396.0,93.0L395.0,93.3ZM402.0,100.8L401.3,100.0L402.0,98.9L402.4,100.0L402.0,100.8ZM404.0,110.1L403.0,110.7L402.0,110.3L401.8,109.0L403.0,108.3L404.0,108.7L404.3,109.0L404.0,110.1ZM391.1,111.0L392.0,110.0L391.0,109.7L390.6,110.0L391.1,111.0ZM270.0,114.2L270.0,112.0L271.1,113.0L270.7,114.0L270.0,114.2ZM379.6,125.0L379.8,124.0L377.8,124.0L378.0,125.1L379.0,125.6L379.6,125.0Z" fill="#0057ff"/>
<path d="M321.0,141.1L316.0,140.2L314.0,139.4L312.0,139.5L310.0,140.2L307.0,139.5L304.0,140.1L297.0,138.5L294.0,137.3L292.0,137.7L285.0,135.7L283.0,135.9L281.8,135.0L280.5,133.0L278.2,131.0L278.5,130.0L279.7,129.0L281.0,127.1L283.0,126.1L286.0,126.0L288.0,124.1L289.2,124.0L290.0,123.0L289.0,122.5L287.0,122.8L284.8,122.0L284.0,121.0L285.6,119.0L285.2,118.0L285.2,116.0L284.3,116.0L283.0,116.7L281.0,116.5L280.4,115.0L280.6,112.0L280.0,111.0L278.0,110.2L277.0,109.3L276.4,108.0L276.3,106.0L277.0,105.5L278.0,105.4L280.0,106.5L282.0,106.0L285.4,104.0L285.0,102.3L282.9,101.0L282.7,99.0L283.0,97.8L286.0,96.0L287.0,95.8L288.0,96.3L289.0,96.0L293.0,93.6L294.0,93.6L295.0,94.4L296.0,94.4L297.0,92.9L298.0,92.1L300.0,91.7L302.0,90.1L302.9,91.0L304.0,91.3L313.0,89.4L314.0,87.7L315.0,87.3L317.0,87.6L319.0,86.9L321.0,87.1L323.0,86.5L326.0,86.9L328.0,85.5L330.8,85.0L332.0,83.7L333.0,83.2L334.0,83.6L336.3,86.0L338.0,86.7L341.0,86.0L343.0,86.3L344.1,85.0L344.0,83.8L345.0,83.3L346.0,83.9L348.0,83.6L351.0,81.6L353.0,82.3L356.0,81.7L357.4,81.0L358.7,81.0L359.5,82.0L359.4,83.0L360.0,83.5L361.0,83.4L361.5,83.0L361.4,81.0L363.0,79.8L364.0,80.2L365.0,81.9L368.0,83.1L369.0,83.2L371.0,81.6L372.0,81.7L372.0,83.6L371.6,84.0L374.0,84.6L378.0,87.3L380.0,86.6L381.0,87.0L383.3,91.0L382.7,95.0L383.0,95.6L384.0,96.1L386.0,96.2L387.0,99.7L388.0,101.1L391.0,102.0L391.2,103.0L390.7,105.0L391.0,105.4L392.0,105.8L393.0,104.8L394.0,106.0L393.8,107.0L392.0,107.4L389.0,108.8L388.5,112.0L388.6,114.0L386.0,116.8L383.1,119.0L382.0,120.6L376.0,122.6L374.4,125.0L373.4,128.0L374.1,131.0L373.7,132.0L368.0,135.3L367.0,135.8L362.0,136.3L359.0,137.6L356.0,138.0L352.0,139.6L344.0,139.1L341.0,139.8L338.0,139.4L336.0,140.3L334.0,140.7L325.0,139.8L321.0,141.1ZM384.0,89.3L383.5,89.0L383.2,88.0L384.0,87.3L385.0,87.2L385.6,88.0L385.0,89.0L384.0,89.3ZM378.0,91.0L378.0,91.0ZM391.0,102.0L390.4,101.0L390.8,100.0L391.8,100.0L391.9,101.0L391.0,102.0ZM391.0,115.8L390.1,115.0L389.9,114.0L391.0,113.5L391.6,114.0L391.6,115.0L391.0,115.8ZM282.0,122.0L282.0,122.0Z" fill="#007aff"/>
<path d="M321.0,140.1L315.0,138.7L309.0,138.8L306.0,138.1L303.0,138.7L299.0,137.9L294.0,136.1L288.0,135.1L285.0,134.0L284.1,133.0L284.5,130.0L285.5,128.0L286.6,127.0L288.0,126.0L290.0,125.4L292.0,124.2L294.0,124.8L294.4,124.0L292.6,121.0L291.0,119.9L290.5,118.0L289.2,116.0L289.0,114.9L287.0,112.6L286.0,112.0L284.4,112.0L283.3,114.0L282.4,114.0L282.9,112.0L281.8,110.0L282.0,109.1L284.0,108.3L287.1,105.0L287.1,102.0L289.0,99.1L290.0,98.7L292.0,98.8L293.0,98.4L294.0,96.9L297.0,95.7L299.0,94.3L304.0,93.4L306.0,92.4L309.0,91.5L313.0,91.5L316.0,90.2L319.0,90.0L321.0,89.5L324.0,90.3L326.0,90.1L329.0,87.1L333.0,89.2L336.0,88.1L340.0,88.3L342.0,89.3L347.0,88.5L348.0,87.5L351.0,86.0L353.0,88.0L355.0,87.7L357.0,86.3L359.0,86.1L360.8,87.0L362.0,89.6L364.0,91.0L366.0,90.8L369.0,91.1L371.3,89.0L373.7,89.0L374.4,92.0L377.3,94.0L379.0,97.4L380.8,98.0L380.0,98.8L379.0,98.7L378.0,99.8L377.0,102.0L377.0,104.0L379.0,105.3L380.0,105.4L382.0,103.5L384.0,103.9L384.0,107.0L386.1,109.0L385.9,110.0L382.0,113.7L381.0,114.0L378.6,114.0L378.0,115.0L378.3,118.0L378.0,119.0L375.1,120.0L373.4,123.0L371.0,124.4L368.7,127.0L369.6,129.0L368.2,132.0L364.0,134.7L362.0,135.0L351.0,138.4L349.0,138.0L347.0,138.3L344.0,138.1L341.0,138.7L338.0,138.2L334.0,139.7L326.0,138.9L321.0,140.1ZM374.0,93.0L373.5,92.0L373.0,91.8L372.0,92.2L371.7,93.0L373.0,93.6L374.0,93.0ZM384.0,101.0L382.0,101.9L381.0,101.0L380.4,99.0L381.0,98.4L383.8,99.0L384.3,100.0L384.0,101.0ZM368.7,123.0L368.0,121.0L367.0,121.5L366.7,122.0L367.0,123.3L368.0,123.9L368.7,123.0Z" fill="#00a3ff"/>
<path d="M336.0,138.1L334.0,138.8L331.0,138.2L324.0,138.5L321.0,139.0L315.0,137.9L309.0,137.9L306.0,137.3L303.0,137.6L299.0,137.1L296.0,135.7L289.0,134.1L288.0,133.4L286.6,132.0L286.3,131.0L287.0,128.6L288.0,127.4L289.0,127.0L291.0,127.8L297.0,126.1L300.0,126.0L300.9,125.0L301.0,124.0L300.0,121.1L299.0,120.0L297.0,119.3L296.0,117.0L295.0,116.4L294.3,117.0L294.0,118.2L293.0,117.9L292.3,116.0L288.2,111.0L286.4,110.0L286.0,109.0L286.0,108.0L288.5,105.0L288.1,103.0L288.5,102.0L290.0,100.4L293.0,99.8L296.0,97.2L299.0,95.8L303.0,94.8L306.0,93.4L310.0,92.6L313.0,92.6L318.0,91.2L321.0,90.7L324.0,91.3L326.0,90.9L329.0,89.2L330.0,89.2L333.0,90.6L334.0,90.6L336.0,89.2L340.0,89.7L342.0,90.8L345.0,89.9L349.0,90.0L353.0,90.7L356.0,89.9L358.0,88.6L359.0,89.1L359.5,90.0L359.6,91.0L358.2,94.0L359.0,94.3L361.0,94.1L364.0,95.7L366.0,94.8L367.0,93.9L367.6,95.0L366.6,96.0L367.0,97.1L368.0,97.3L370.0,95.3L374.0,95.3L374.6,96.0L374.7,98.0L374.2,100.0L375.4,102.0L375.5,103.0L375.0,104.6L373.1,106.0L374.0,106.9L376.0,106.1L376.8,107.0L376.7,109.0L376.2,110.0L375.0,110.9L372.8,111.0L371.0,113.1L370.5,114.0L371.3,116.0L371.0,117.2L370.0,117.7L368.0,117.5L365.0,121.1L364.0,121.8L362.7,122.0L361.6,123.0L361.5,125.0L362.0,127.0L364.0,128.1L364.4,129.0L363.9,132.0L363.4,133.0L359.0,134.9L352.0,136.9L349.0,136.7L347.0,137.4L344.0,137.3L341.0,137.8L338.0,137.6L336.0,138.1ZM354.3,121.0L353.9,121.0L354.3,121.0ZM359.1,123.0L359.5,122.0L359.0,121.7L357.6,122.0L357.1,123.0L358.0,123.7L359.1,123.0ZM297.0,124.6L296.7,124.0L297.0,123.0L297.7,124.0L297.0,124.6Z" fill="#00ccff"/>
<path d="M321.0,138.0L300.0,136.4L297.0,135.0L294.0,134.7L290.0,133.2L289.0,132.0L288.7,131.0L289.0,130.3L292.0,128.9L299.8,127.0L302.4,126.0L304.0,124.9L306.0,124.3L306.7,123.0L306.6,122.0L305.0,121.1L304.0,121.5L303.0,122.6L301.0,118.9L300.0,118.1L298.0,117.8L296.0,115.3L295.0,114.6L293.0,114.5L292.3,114.0L290.5,112.0L289.6,110.0L287.5,109.0L287.3,108.0L289.0,106.9L291.1,103.0L292.0,102.0L293.0,101.6L295.2,99.0L298.0,97.3L303.0,95.7L307.0,93.9L313.0,93.3L319.0,91.8L324.0,92.0L329.0,90.7L334.0,91.4L336.0,90.6L340.0,91.0L342.0,92.3L343.0,92.2L344.7,91.0L346.0,90.8L350.0,91.5L354.0,96.0L355.0,96.3L357.0,95.4L361.0,96.6L361.5,97.0L362.0,99.2L363.0,100.1L364.0,99.7L365.0,98.3L366.0,99.0L365.9,100.0L364.7,101.0L365.5,104.0L366.0,104.6L368.0,104.4L369.4,106.0L370.0,107.7L371.4,109.0L370.7,110.0L368.0,111.4L367.1,114.0L365.2,116.0L362.0,117.0L361.8,118.0L363.1,119.0L363.2,120.0L362.0,120.5L360.0,119.7L353.0,119.6L352.2,120.0L352.0,121.0L353.0,125.6L355.0,126.1L357.0,127.8L359.0,125.6L360.0,126.2L360.5,128.0L360.0,130.0L361.9,131.0L361.4,132.0L359.0,133.6L357.0,134.0L355.0,135.3L352.0,136.0L349.0,135.8L347.0,136.6L337.0,137.1L334.0,138.0L331.0,137.5L321.0,138.0ZM357.0,92.0L356.0,92.5L355.8,92.0L356.0,91.7L357.0,92.0ZM369.0,103.5L368.0,103.9L366.7,103.0L366.1,102.0L366.1,100.0L369.0,99.2L369.8,100.0L369.9,102.0L369.0,103.5ZM310.3,124.0L309.0,124.0L310.0,124.3L310.3,124.0Z" fill="#00f5ff"/>
<path d="M335.0,137.3L331.0,136.9L325.0,137.6L303.0,136.0L301.0,135.7L297.0,134.2L294.0,134.1L292.6,133.0L292.2,132.0L292.9,130.0L296.0,128.6L301.9,127.0L305.0,125.7L308.0,125.3L310.0,125.7L313.7,124.0L313.1,123.0L308.0,121.4L301.0,117.3L298.0,116.7L296.0,113.8L294.0,113.2L291.9,111.0L291.6,109.0L290.5,107.0L290.8,106.0L294.3,102.0L295.3,100.0L298.0,98.2L301.0,97.6L307.0,94.6L311.0,94.2L319.0,92.4L323.0,92.6L327.0,91.9L330.0,92.3L336.0,91.9L339.0,93.0L343.0,93.4L345.0,92.1L346.0,91.9L348.0,93.2L349.1,93.0L354.0,97.1L355.0,97.4L357.0,96.8L360.2,98.0L363.0,103.4L365.0,105.3L367.2,106.0L368.1,107.0L368.1,108.0L367.0,109.1L366.0,112.2L364.0,113.3L362.0,115.4L360.0,116.0L358.7,118.0L355.0,118.7L353.0,118.5L351.7,119.0L350.7,120.0L350.4,121.0L351.0,121.5L351.5,123.0L351.0,124.6L349.0,124.2L348.0,124.3L347.0,125.0L347.7,126.0L351.0,126.5L353.0,127.9L355.0,128.2L357.8,131.0L358.0,132.3L355.0,134.3L352.0,135.2L349.0,135.2L346.0,136.1L342.0,136.5L337.0,136.7L335.0,137.3Z" fill="#00ffdb"/>
<path d="M326.0,137.0L314.0,136.4L305.0,135.5L301.8,135.0L299.0,133.6L294.3,133.0L294.2,132.0L294.7,131.0L295.4,130.0L297.0,129.0L299.0,128.8L305.0,126.7L310.0,126.6L313.0,125.7L315.0,125.7L316.0,125.0L316.5,123.0L315.8,122.0L307.0,119.7L303.6,117.0L299.0,115.9L296.2,113.0L294.7,112.0L293.5,110.0L293.4,109.0L291.9,107.0L293.7,104.0L295.7,102.0L296.1,101.0L298.5,99.0L301.0,98.6L307.0,95.6L318.0,93.3L323.0,93.1L326.0,92.7L330.0,93.5L336.0,93.1L339.0,94.1L345.0,94.4L346.0,94.7L347.6,96.0L351.0,96.2L354.0,98.0L357.0,98.5L359.0,99.3L361.6,104.0L361.6,106.0L362.8,109.0L364.6,111.0L364.0,111.7L361.5,112.0L360.8,114.0L359.0,114.7L355.9,117.0L352.0,117.4L348.3,119.0L347.0,120.3L343.0,121.3L340.0,123.7L339.0,123.6L338.0,123.0L337.0,123.2L336.1,124.0L338.3,126.0L339.0,126.2L342.0,126.0L345.5,127.0L351.0,127.9L355.3,131.0L355.5,132.0L354.7,133.0L352.0,134.1L348.0,134.7L346.0,135.4L337.0,136.2L335.0,136.8L331.0,136.4L326.0,137.0ZM323.6,124.0L323.0,123.1L322.0,123.1L321.0,123.3L320.8,124.0L323.0,124.9L323.6,124.0ZM333.1,124.0L332.0,123.4L330.5,124.0L332.0,124.5L333.1,124.0Z" fill="#00ffa8"/>
<path d="M340.0,122.1L338.0,121.3L335.0,122.3L330.0,121.9L327.0,122.2L326.0,122.7L324.7,122.0L322.0,122.0L315.0,120.9L307.0,118.9L303.0,116.0L299.0,114.9L294.9,111.0L294.4,107.0L295.0,104.0L297.0,102.5L299.0,100.0L307.0,96.5L318.0,93.9L325.0,93.3L327.0,93.3L330.0,94.2L336.0,94.1L339.0,94.7L342.0,94.8L345.0,96.2L351.0,97.3L358.6,101.0L360.4,104.0L360.4,107.0L361.1,109.0L358.3,113.0L357.0,114.2L354.0,114.9L351.0,116.6L349.0,117.1L347.0,118.5L341.3,121.0L340.0,122.1ZM335.0,136.3L330.5,136.0L325.0,136.7L322.0,136.0L314.0,135.9L306.0,135.0L302.0,134.0L300.0,132.2L298.0,132.5L296.0,132.2L295.8,131.0L297.0,129.8L298.9,130.0L300.0,130.7L301.0,129.0L306.0,127.4L315.0,126.7L316.7,126.0L318.0,124.9L324.1,127.0L324.8,126.0L325.0,124.2L326.0,123.3L329.0,125.3L332.0,125.7L335.0,125.4L339.0,127.1L342.0,127.1L350.0,128.7L351.7,131.0L350.5,133.0L346.0,134.8L344.0,134.8L335.0,136.3Z" fill="#00ff75"/>
<path d="M335.0,121.2L330.0,120.9L327.0,121.4L322.0,121.3L317.0,120.3L315.0,120.3L307.0,118.2L303.0,115.5L299.0,114.3L295.7,111.0L295.3,110.0L295.3,108.0L296.1,105.0L300.0,100.3L307.0,97.2L313.0,95.3L325.0,93.9L330.0,94.6L332.0,94.4L342.0,95.3L345.0,96.8L351.0,98.3L354.0,100.1L356.8,101.0L357.8,102.0L359.3,105.0L359.6,109.0L357.0,112.4L354.0,113.6L351.0,115.6L349.0,116.1L343.0,119.5L338.0,120.0L335.0,121.2ZM326.0,136.2L324.0,136.2L321.0,135.5L318.0,135.8L314.0,135.5L306.0,134.3L302.8,133.0L302.1,132.0L303.0,130.0L306.0,128.2L315.0,127.4L318.0,126.6L320.0,127.3L322.0,127.0L325.0,127.6L325.8,127.0L326.1,126.0L327.0,125.8L331.0,126.9L335.0,126.6L341.0,128.4L346.0,128.6L349.0,129.9L349.4,131.0L348.5,133.0L346.0,134.3L344.0,134.3L335.0,135.8L330.0,135.7L326.0,136.2Z" fill="#00ff42"/>
<path d="M335.0,120.2L323.0,120.7L317.0,119.7L315.0,119.8L309.0,117.8L307.0,117.6L303.0,114.9L299.0,113.7L296.0,110.0L296.0,107.8L297.5,104.0L301.0,100.3L307.0,97.7L312.0,95.9L319.0,94.8L327.0,94.4L329.7,95.0L342.0,95.7L345.0,97.2L348.6,98.0L353.9,101.0L356.4,102.0L358.3,106.0L358.7,108.0L358.0,109.6L356.5,111.0L352.0,114.4L349.0,115.5L343.0,118.8L339.0,119.1L335.0,120.2ZM336.0,135.1L329.0,135.3L325.0,135.9L321.0,135.1L318.0,135.4L314.0,135.0L306.0,133.7L303.5,132.0L303.6,131.0L306.0,129.3L308.0,128.6L314.0,128.2L317.0,127.5L320.0,128.1L322.0,127.6L325.0,128.3L327.0,127.3L328.0,127.2L331.0,127.8L334.0,127.2L337.0,127.6L341.0,129.3L345.0,129.0L347.0,130.0L347.7,131.0L347.7,132.0L347.1,133.0L346.0,133.6L344.0,133.5L336.0,135.1Z" fill="#00ff0f"/>
<path d="M327.0,120.1L323.0,120.1L317.0,119.3L315.0,119.3L310.0,117.5L307.0,117.1L303.0,114.4L299.0,113.2L296.8,110.0L296.6,109.0L298.2,104.0L301.0,100.8L312.0,96.3L320.0,95.2L327.0,94.8L342.0,96.1L345.0,97.5L349.0,98.6L356.0,103.0L357.8,107.0L357.6,108.0L355.0,111.0L351.0,114.4L348.8,115.0L342.0,118.5L337.0,119.0L335.0,119.6L327.0,120.1ZM331.0,135.0L329.0,134.9L325.0,135.5L321.0,134.7L318.0,135.1L309.0,133.9L306.0,133.0L304.7,132.0L304.9,131.0L308.0,129.3L317.0,128.1L320.0,128.7L323.0,128.2L325.0,128.7L328.0,128.0L331.0,128.4L334.0,127.9L337.0,128.0L341.0,130.0L343.0,130.0L346.0,131.0L346.0,132.5L344.0,131.8L342.8,133.0L342.0,133.3L340.0,133.4L335.0,134.8L331.0,135.0Z" fill="#24ff00"/>
<path d="M335.0,119.1L323.0,119.6L315.0,118.9L310.5,117.0L307.0,116.6L302.0,113.3L300.0,113.1L299.0,112.4L297.4,109.0L298.2,105.0L301.0,101.3L309.0,97.7L313.0,96.4L325.0,95.2L342.0,96.4L345.0,97.9L348.0,98.5L354.8,103.0L356.7,107.0L354.9,110.0L352.0,113.1L343.0,117.7L335.0,119.1ZM325.0,135.1L322.0,134.4L318.0,134.6L316.0,134.1L310.0,133.5L307.8,133.0L306.1,132.0L306.8,131.0L308.6,130.0L316.0,128.7L320.0,129.2L323.0,128.7L325.0,129.2L328.0,128.4L331.0,128.9L337.0,128.5L338.3,129.0L340.0,130.5L342.0,131.0L342.0,132.2L339.0,132.8L336.5,134.0L325.0,135.1Z" fill="#57ff00"/>
<path d="M328.0,119.1L323.0,119.1L315.0,118.5L311.0,116.8L306.0,115.8L302.0,112.7L299.8,112.0L298.2,108.0L298.7,105.0L301.0,101.8L309.0,98.0L313.0,96.8L327.0,95.5L342.0,96.8L345.0,98.2L348.2,99.0L351.2,101.0L354.1,104.0L354.7,106.0L355.5,107.0L355.3,108.0L354.0,110.3L351.0,113.2L342.0,117.5L335.0,118.7L332.0,118.6L328.0,119.1ZM333.0,134.1L331.0,134.4L329.0,134.1L325.0,134.6L321.0,134.0L318.0,134.2L315.0,133.2L309.8,133.0L307.8,132.0L308.4,131.0L309.0,130.8L316.0,129.2L321.0,129.7L323.0,129.1L325.0,129.7L328.0,128.9L331.0,129.3L337.0,128.9L338.2,130.0L338.3,131.0L337.0,132.7L333.0,134.1Z" fill="#8aff00"/>
<path d="M337.0,118.1L328.0,118.8L319.0,118.5L315.0,118.0L311.0,116.4L307.0,115.8L305.4,115.0L300.6,111.0L298.8,108.0L299.2,105.0L301.4,102.0L306.0,100.0L308.0,98.7L312.0,97.3L316.0,97.1L320.0,96.3L327.0,95.8L337.0,96.4L342.0,97.1L348.0,99.3L351.5,102.0L354.2,107.0L354.5,108.0L354.0,109.3L351.0,112.5L346.0,115.2L343.0,116.8L337.0,118.1ZM332.0,134.0L329.0,133.5L327.0,134.0L321.0,133.5L318.0,133.7L314.2,132.0L313.4,131.0L316.0,129.7L321.0,130.3L323.0,129.7L325.0,130.3L328.0,129.4L333.7,130.0L334.5,131.0L334.7,132.0L334.3,133.0L332.0,134.0ZM313.0,132.0L312.0,132.3L310.0,132.0L312.0,131.4L313.3,132.0L313.0,132.0Z" fill="#bdff00"/>
<path d="M335.0,118.1L332.0,117.9L327.0,118.6L319.0,118.3L315.0,117.6L311.0,116.0L307.0,115.4L305.9,115.0L301.5,111.0L299.5,108.0L299.4,106.0L301.0,103.0L302.0,102.0L306.0,100.3L308.0,99.0L312.0,97.6L324.0,96.2L327.0,96.0L337.0,96.6L342.0,97.5L348.0,99.7L350.9,102.0L353.7,108.0L353.4,109.0L352.0,110.8L349.2,113.0L343.0,116.3L335.0,118.1ZM333.0,133.2L331.0,133.4L329.0,132.7L327.0,133.5L324.0,133.1L318.0,133.1L315.9,132.0L315.3,131.0L317.0,130.4L321.0,131.0L323.0,130.5L325.0,131.0L327.0,129.9L329.0,129.9L333.0,130.5L333.9,132.0L333.0,133.2Z" fill="#f0ff00"/>
<path d="M329.0,118.1L318.0,117.9L311.0,115.8L306.9,115.0L306.0,114.5L302.0,110.7L300.0,107.6L300.0,105.9L301.0,103.9L303.0,102.0L309.0,98.9L313.0,97.8L324.0,96.5L327.0,96.3L337.0,96.8L341.0,97.7L347.9,100.0L350.1,102.0L352.8,108.0L351.9,110.0L349.8,112.0L345.0,115.0L339.0,117.2L335.0,117.9L332.0,117.7L329.0,118.1ZM328.0,132.1L327.0,132.8L325.8,132.0L327.0,130.8L328.0,130.8L328.6,131.0L328.0,132.1ZM332.0,133.1L330.7,132.0L331.0,131.4L332.0,131.0L333.2,132.0L332.0,133.1ZM318.0,132.1L317.6,132.0L318.0,131.2L318.6,132.0L318.0,132.1Z" fill="#ffdb00"/>
<path d="M328.0,118.0L318.0,117.7L307.0,114.6L306.0,114.0L302.1,110.0L300.5,107.0L300.6,106.0L303.7,102.0L309.0,99.2L312.0,98.2L324.0,96.7L331.0,96.7L338.0,97.3L347.0,100.0L349.3,102.0L351.8,108.0L351.1,110.0L347.9,113.0L344.0,115.2L338.7,117.0L328.0,118.0Z" fill="#ffa800"/>
<path d="M337.0,117.0L328.0,117.9L319.0,117.5L307.0,114.2L302.7,110.0L301.2,107.0L301.4,106.0L304.4,102.0L309.0,99.6L312.0,98.5L321.0,97.2L327.0,96.7L337.0,97.3L341.0,98.3L347.9,101.0L349.2,103.0L351.0,107.0L350.9,109.0L350.2,110.0L348.6,112.0L345.0,114.4L337.0,117.0Z" fill="#ff7500"/>
<path d="M335.0,117.1L332.0,117.0L328.0,117.7L319.0,117.3L310.0,114.8L307.0,113.8L303.3,110.0L302.3,108.0L302.3,106.0L304.1,103.0L305.0,102.1L309.0,99.9L312.0,98.8L321.0,97.4L327.0,97.0L337.0,97.5L341.0,98.6L347.0,101.0L348.1,102.0L350.6,107.0L350.5,108.0L349.6,110.0L348.1,112.0L345.0,114.1L338.0,116.6L335.0,117.1Z" fill="#ff4200"/>
<path d="M330.0,117.2L327.0,117.5L318.0,117.0L307.0,113.4L303.2,109.0L302.7,107.0L303.1,106.0L305.0,102.6L310.0,99.8L313.0,98.8L324.0,97.3L327.0,97.2L338.0,97.9L343.8,100.0L347.0,101.7L348.0,102.7L350.2,107.0L349.7,109.0L347.0,112.5L344.0,114.3L338.0,116.3L330.0,117.2Z" fill="#ff1400"/>
<path d="M329.0,117.2L318.0,116.8L309.1,114.0L306.9,113.0L304.3,110.0L303.2,108.0L303.4,106.0L305.0,103.0L311.0,99.6L318.0,98.2L326.0,97.3L338.0,98.1L343.3,100.0L347.0,102.3L348.0,103.4L349.5,106.0L349.7,108.0L348.0,111.0L346.0,113.0L344.0,114.0L338.0,116.1L329.0,117.2Z" fill="#ff0000"/>
<path d="M335.0,138.2L331.0,137.8L321.0,138.5L315.0,137.7L309.0,137.5L306.9,137.0L300.0,136.8L297.0,135.5L290.0,133.8L288.8,133.0L287.5,131.0L288.0,128.6L289.0,128.1L290.0,128.7L291.0,128.6L296.0,127.2L299.0,126.8L301.3,126.0L302.4,125.0L302.3,124.0L300.0,119.0L298.0,118.6L295.0,115.4L293.0,115.3L292.0,114.7L289.7,112.0L289.0,110.6L286.7,109.0L287.0,107.3L288.9,106.0L289.3,105.0L288.8,103.0L289.3,102.0L291.0,100.8L293.0,100.6L296.0,97.8L299.0,96.4L303.0,95.3L307.0,93.5L313.0,93.0L319.0,91.4L321.0,91.3L324.0,91.7L329.0,89.9L333.0,91.1L334.1,91.0L336.0,89.9L339.0,90.2L342.0,91.6L343.0,91.5L345.0,90.4L348.0,90.5L351.0,91.1L353.0,93.1L354.0,93.3L355.2,91.0L358.0,90.2L358.4,91.0L358.1,92.0L356.7,94.0L357.9,95.0L362.0,95.9L363.0,98.7L365.0,96.7L367.0,98.3L368.0,98.4L371.0,96.2L372.0,96.2L373.0,96.6L373.0,97.3L371.0,98.8L370.8,102.0L369.8,104.0L371.7,105.0L371.0,107.0L375.1,109.0L373.0,109.5L368.8,112.0L368.6,113.0L369.0,115.0L367.0,115.8L366.0,117.8L364.0,117.3L363.6,118.0L365.1,119.0L364.0,120.7L361.0,121.4L359.0,120.6L357.0,120.7L354.0,120.0L353.0,120.3L352.6,121.0L353.0,122.5L354.0,123.6L355.3,123.0L356.0,125.0L357.0,125.8L359.0,124.3L360.0,124.0L361.5,128.0L363.0,129.3L363.1,131.0L362.7,132.0L359.7,134.0L352.0,136.4L349.0,136.2L347.0,137.0L344.0,136.9L341.0,137.5L338.0,137.3L335.0,138.2ZM374.0,104.0L372.0,104.6L371.7,104.0L371.9,103.0L373.0,101.8L374.2,102.0L374.6,103.0L374.0,104.0ZM370.0,116.1L369.1,116.0L370.0,116.1ZM305.1,123.0L305.1,123.0Z" fill="none" stroke="#333" stroke-width="0.45" stroke-opacity="0.75"/>
<path d="M336.0,136.2L334.0,136.5L331.0,136.2L325.0,136.9L322.0,136.3L314.0,136.1L305.0,135.1L302.0,134.4L300.0,133.1L296.0,132.8L295.1,132.0L295.4,131.0L297.0,129.5L299.0,129.5L302.0,128.2L306.0,127.1L310.0,127.0L313.0,126.3L315.0,126.4L316.1,126.0L318.0,123.8L324.0,126.4L324.9,123.0L324.0,122.4L318.0,121.9L307.0,119.2L304.0,116.8L299.0,115.3L294.5,111.0L294.0,107.8L293.4,107.0L294.4,104.0L296.8,102.0L298.2,100.0L301.1,99.0L306.0,96.5L318.0,93.6L326.0,93.0L330.0,94.0L332.0,93.7L336.0,93.8L339.0,94.5L342.0,94.6L345.0,95.9L349.0,96.8L351.0,96.8L354.0,98.6L357.0,99.4L359.0,100.6L360.9,104.0L360.8,107.0L361.8,109.0L361.6,110.0L360.0,111.6L359.2,113.0L357.0,114.9L349.0,117.7L346.0,119.6L342.1,121.0L340.0,122.7L338.0,121.9L335.0,122.8L330.0,122.5L326.8,123.0L328.0,124.3L329.7,125.0L332.0,125.3L335.0,124.8L339.0,126.8L342.0,126.6L350.0,128.1L352.0,130.0L353.8,131.0L354.0,131.5L354.1,132.0L353.0,132.8L346.0,135.1L336.0,136.2Z" fill="none" stroke="#333" stroke-width="0.4" stroke-opacity="0.75"/>
<path d="M330.0,120.0L323.0,120.5L317.0,119.5L315.0,119.6L309.0,117.6L307.0,117.4L303.0,114.7L300.0,114.0L298.5,113.0L296.3,110.0L296.1,109.0L297.3,105.0L297.8,104.0L301.0,100.5L308.0,97.5L313.0,95.8L324.0,94.6L327.0,94.6L329.0,95.0L342.0,95.9L345.0,97.4L349.0,98.4L353.0,100.9L356.0,102.1L358.0,106.2L358.3,108.0L357.9,109.0L352.0,114.1L349.0,115.2L343.0,118.6L338.5,119.0L335.0,119.9L330.0,120.0ZM335.0,135.1L329.0,135.2L325.0,135.8L321.0,134.9L318.0,135.3L314.0,134.8L306.0,133.4L304.0,132.0L304.1,131.0L307.0,129.2L309.0,128.7L314.0,128.4L317.0,127.8L320.0,128.4L322.0,127.8L325.0,128.4L328.0,127.5L331.0,128.1L334.0,127.5L337.9,128.0L341.0,129.6L345.0,129.5L346.4,130.0L347.0,131.0L347.2,132.0L346.0,133.3L344.0,133.1L335.0,135.1Z" fill="none" stroke="#333" stroke-width="0.4" stroke-opacity="0.75"/>
<path d="M327.0,119.0L315.0,118.4L311.0,116.7L306.0,115.7L302.0,112.6L300.0,112.0L298.3,108.0L298.8,105.0L301.0,101.9L309.0,98.1L313.0,96.9L315.0,96.9L320.0,96.1L327.0,95.5L342.0,96.9L345.0,98.2L348.1,99.0L351.1,101.0L353.8,104.0L354.3,106.0L355.2,107.0L355.1,108.0L354.1,110.0L351.0,113.1L342.0,117.4L335.0,118.7L332.0,118.5L327.0,119.0ZM333.0,134.0L331.0,134.3L329.0,134.0L325.0,134.4L321.0,133.9L318.0,134.1L315.0,133.1L310.0,132.9L308.2,132.0L309.0,130.9L316.0,129.3L321.0,129.8L323.0,129.3L325.0,129.8L328.0,129.0L335.0,129.6L337.0,129.1L338.0,130.0L337.0,132.2L333.0,134.0Z" fill="none" stroke="#333" stroke-width="0.4" stroke-opacity="0.75"/>
<path d="M329.0,118.1L318.0,117.9L311.0,115.8L306.9,115.0L306.0,114.5L302.0,110.7L300.0,107.6L300.0,105.9L301.0,103.9L303.0,102.0L309.0,98.9L313.0,97.8L324.0,96.5L327.0,96.3L337.0,96.8L341.0,97.7L347.9,100.0L350.1,102.0L352.8,108.0L351.9,110.0L349.8,112.0L345.0,115.0L339.0,117.2L335.0,117.9L332.0,117.7L329.0,118.1ZM328.0,132.1L327.0,132.8L325.8,132.0L327.0,130.8L328.0,130.8L328.6,131.0L328.0,132.1ZM332.0,133.1L330.7,132.0L331.0,131.4L332.0,131.0L333.2,132.0L332.0,133.1ZM318.0,132.1L317.6,132.0L318.0,131.2L318.6,132.0L318.0,132.1Z" fill="none" stroke="#333" stroke-width="0.4" stroke-opacity="0.75"/>
<path d="M335.0,117.1L332.0,117.1L328.0,117.7L319.0,117.4L310.0,114.9L306.0,113.2L303.1,110.0L301.9,107.0L302.2,106.0L304.0,103.0L305.0,102.0L309.0,99.8L312.0,98.7L321.0,97.4L327.0,96.9L337.0,97.5L341.0,98.5L347.2,101.0L348.2,102.0L350.7,107.0L350.3,109.0L349.7,110.0L348.2,112.0L345.0,114.2L338.0,116.7L335.0,117.1Z" fill="none" stroke="#333" stroke-width="0.4" stroke-opacity="0.75"/>
<path d="M329.0,117.2L318.0,116.8L309.1,114.0L306.9,113.0L304.3,110.0L303.2,108.0L303.4,106.0L305.0,103.0L311.0,99.6L318.0,98.2L326.0,97.3L338.0,98.1L343.3,100.0L347.0,102.3L348.0,103.4L349.5,106.0L349.7,108.0L348.0,111.0L346.0,113.0L344.0,114.0L338.0,116.1L329.0,117.2Z" fill="none" stroke="#333" stroke-width="0.45" stroke-opacity="0.75"/>
</g>
<line x1="271.5" y1="123.06" x2="432" y2="123.06" stroke="#fff" stroke-width="2.2" stroke-dasharray="7.4,5.7"/>
<line x1="340.4" y1="56.4" x2="340.4" y2="150" stroke="#fff" stroke-width="2.2" stroke-dasharray="7.4,5.7"/>
<line x1="313.8" y1="130.56" x2="313.8" y2="150" stroke="#fff" stroke-width="2.2" stroke-dasharray="7.4,5.7"/>
<rect x="270" y="14" width="162" height="136" fill="none" stroke="#111" stroke-width="1"/>
<line x1="270" y1="150" x2="270" y2="152.6" stroke="#000" stroke-width="1"/>
<line x1="297" y1="150" x2="297" y2="152.6" stroke="#000" stroke-width="1"/>
<line x1="324" y1="150" x2="324" y2="152.6" stroke="#000" stroke-width="1"/>
<line x1="351" y1="150" x2="351" y2="152.6" stroke="#000" stroke-width="1"/>
<line x1="378" y1="150" x2="378" y2="152.6" stroke="#000" stroke-width="1"/>
<line x1="405" y1="150" x2="405" y2="152.6" stroke="#000" stroke-width="1"/>
<line x1="432" y1="150" x2="432" y2="152.6" stroke="#000" stroke-width="1"/>
<text x="270.6" y="165.5" font-size="11" text-anchor="middle">250</text>
<text x="325.3" y="165.5" font-size="11" text-anchor="middle">350</text>
<text x="380" y="165.5" font-size="11" text-anchor="middle">450</text>
<text x="434.7" y="165.5" font-size="11" text-anchor="middle">550</text>
<line x1="270" y1="150" x2="267.4" y2="150" stroke="#000" stroke-width="1"/>
<text x="264.5" y="153.9" font-size="11" text-anchor="end">200</text>
<line x1="270" y1="95.8" x2="267.4" y2="95.8" stroke="#000" stroke-width="1"/>
<text x="264.5" y="99.7" font-size="11" text-anchor="end">300</text>
<line x1="270" y1="41.4" x2="267.4" y2="41.4" stroke="#000" stroke-width="1"/>
<text x="264.5" y="45.3" font-size="11" text-anchor="end">400</text>
<line x1="270" y1="122.9" x2="268.4" y2="122.9" stroke="#000" stroke-width="1"/>
<line x1="270" y1="68.6" x2="268.4" y2="68.6" stroke="#000" stroke-width="1"/>
<line x1="270" y1="27.8" x2="268.4" y2="27.8" stroke="#000" stroke-width="1"/>
<text x="241.2" y="82.55" font-size="12.6" text-anchor="middle" textLength="46.3" lengthAdjust="spacingAndGlyphs" transform="rotate(-90 241.2 82.55)">EX (nm)</text>
<text x="330" y="181.1" font-size="12.4" textLength="49" lengthAdjust="spacingAndGlyphs">EM (nm)</text>
<text x="265.6" y="10.8" font-size="11.5" textLength="16.1" lengthAdjust="spacingAndGlyphs">(B)</text>
<text x="272.6" y="26.1" font-size="10" fill="#fff" textLength="28.5" lengthAdjust="spacingAndGlyphs">EtOH</text>
<linearGradient id="cbg" x1="0" y1="1" x2="0" y2="0"><stop offset="0" stop-color="#0000ff"/><stop offset="0.0232" stop-color="#0000ff"/><stop offset="0.2594" stop-color="#00ffff"/><stop offset="0.4956" stop-color="#00ff00"/><stop offset="0.7318" stop-color="#ffff00"/><stop offset="0.968" stop-color="#ff0000"/><stop offset="1" stop-color="#ff0000"/></linearGradient>
<rect x="441.3" y="14.1" width="5.5" height="138.5" fill="url(#cbg)" stroke="#555" stroke-width="0.6"/>
<line x1="446.8" y1="148.6" x2="449" y2="148.6" stroke="#000" stroke-width="0.9"/>
<text x="450.7" y="152.2" font-size="10">0</text>
<line x1="446.8" y1="122.34" x2="449" y2="122.34" stroke="#000" stroke-width="0.9"/>
<text x="450.7" y="125.94" font-size="10">1000</text>
<line x1="446.8" y1="96.08" x2="449" y2="96.08" stroke="#000" stroke-width="0.9"/>
<text x="450.7" y="99.68" font-size="10">2000</text>
<line x1="446.8" y1="69.82" x2="449" y2="69.82" stroke="#000" stroke-width="0.9"/>
<text x="450.7" y="73.42" font-size="10">3000</text>
<line x1="446.8" y1="43.56" x2="449" y2="43.56" stroke="#000" stroke-width="0.9"/>
<text x="450.7" y="47.16" font-size="10">4000</text>
<line x1="446.8" y1="17.3" x2="449" y2="17.3" stroke="#000" stroke-width="0.9"/>
<text x="450.7" y="20.9" font-size="10">5000</text>
<clipPath id="clipC"><rect x="510" y="16" width="162" height="136.5"/></clipPath>
<rect x="510" y="16" width="162" height="136.5" fill="#0000ff"/>
<g clip-path="url(#clipC)">
<path d="M574.0,144.0L572.0,144.5L570.0,143.8L568.0,144.4L566.0,143.7L564.0,144.3L561.0,144.0L558.0,144.6L556.0,143.8L554.0,143.7L550.0,142.7L549.0,142.6L546.0,143.6L542.0,142.0L539.0,143.1L535.0,141.5L531.0,141.2L529.0,140.6L525.0,138.8L523.0,140.0L522.4,138.0L521.0,137.4L515.0,136.6L512.2,135.0L511.8,134.0L512.0,133.2L513.2,132.0L515.0,128.0L514.0,127.7L511.0,128.6L510.0,127.2L510.0,96.5L511.9,98.0L513.0,97.8L515.0,95.3L518.0,94.4L518.9,92.0L522.0,91.4L524.0,89.3L525.0,89.1L526.0,89.4L527.0,90.6L530.0,89.5L533.0,87.3L534.0,87.1L534.7,88.0L536.0,88.6L540.0,87.5L544.0,87.9L545.1,87.0L547.0,86.5L547.6,86.0L549.0,82.5L551.0,83.3L553.0,82.4L555.0,82.5L557.8,81.0L559.0,78.9L561.0,79.5L565.0,77.0L567.0,76.7L567.6,75.0L566.8,74.0L567.0,73.6L568.0,73.6L568.7,75.0L570.0,74.5L570.5,73.0L571.8,71.0L572.2,70.0L572.0,69.0L573.0,68.3L574.0,68.4L574.9,68.0L575.3,67.0L573.9,65.0L574.4,64.0L578.0,63.5L580.0,62.5L581.6,61.0L583.0,58.5L584.0,58.2L586.2,60.0L586.3,62.0L587.0,62.6L588.0,62.1L590.1,60.0L590.3,59.0L590.0,58.1L587.9,55.0L590.2,53.0L589.9,52.0L589.0,51.0L589.6,50.0L590.5,50.0L592.1,52.0L592.4,54.0L593.0,54.9L596.8,54.0L597.1,53.0L596.8,52.0L597.0,49.0L597.4,48.0L601.0,46.7L603.0,45.2L605.0,45.3L605.9,46.0L606.2,48.0L607.0,48.9L609.9,47.0L608.0,45.2L606.0,44.7L605.2,42.0L605.6,41.0L607.0,39.8L610.0,39.6L611.0,38.5L612.0,38.4L614.0,39.0L615.0,40.4L617.0,40.9L618.0,40.0L617.7,38.0L618.2,37.0L621.0,36.3L622.2,37.0L622.5,40.0L623.0,40.9L624.7,39.0L626.6,38.0L627.0,37.0L628.0,36.3L630.0,36.7L631.0,36.6L631.6,36.0L631.7,35.0L629.4,32.0L631.0,28.2L633.0,30.1L638.0,28.5L640.0,29.3L641.0,29.1L643.0,27.8L644.0,28.3L645.4,30.0L645.4,31.0L644.7,32.0L644.9,33.0L645.3,32.0L647.0,31.0L647.6,33.0L649.0,33.7L649.9,33.0L650.3,32.0L649.3,31.0L648.0,30.7L647.0,29.0L646.9,28.0L647.5,27.0L648.4,23.0L649.0,22.0L650.0,21.8L651.0,22.0L651.6,24.0L651.4,25.0L649.7,26.0L649.0,27.0L650.0,28.5L652.0,29.2L654.0,28.7L656.0,29.3L656.7,30.0L657.0,32.4L658.0,32.3L660.0,30.5L661.0,30.4L663.0,32.3L664.0,32.6L664.7,32.0L664.8,31.0L663.0,29.5L662.3,28.0L662.0,26.1L661.0,26.1L660.7,25.0L662.6,22.0L664.0,22.2L665.6,24.0L664.9,26.0L665.3,29.0L666.0,29.8L668.0,29.0L669.0,29.2L670.0,30.0L668.0,32.8L666.0,33.3L664.2,35.0L664.0,36.8L664.5,39.0L664.5,40.0L664.0,40.6L663.0,40.4L662.0,38.8L659.9,38.0L659.3,37.0L660.5,35.0L660.0,34.2L659.0,34.0L658.4,35.0L658.4,36.0L656.1,38.0L656.1,40.0L656.5,41.0L660.0,42.5L663.0,42.8L664.0,42.5L665.0,41.4L667.5,42.0L667.6,44.0L668.0,44.5L668.3,44.0L668.3,42.0L670.0,41.4L672.0,39.7L672.0,48.7L670.0,47.4L669.0,47.7L665.0,51.1L665.0,52.6L667.0,54.3L667.7,56.0L666.9,61.0L667.8,62.0L667.9,63.0L665.0,65.3L664.0,65.8L663.0,65.8L662.5,65.0L663.0,63.0L662.0,62.0L660.0,63.1L659.0,62.8L658.3,64.0L658.5,66.0L656.5,67.0L656.2,68.0L656.9,71.0L655.0,72.1L651.4,73.0L651.6,74.0L654.4,76.0L654.3,79.0L653.0,80.5L650.9,81.0L649.4,83.0L649.6,85.0L648.9,90.0L647.4,94.0L646.0,96.0L646.5,97.0L649.7,100.0L650.2,101.0L650.6,105.0L650.0,105.8L649.0,105.6L648.0,104.3L647.0,104.3L646.1,105.0L645.2,108.0L645.6,109.0L647.0,109.4L647.5,110.0L649.7,114.0L649.0,114.8L646.0,114.1L645.2,115.0L645.0,117.0L644.5,118.0L642.1,119.0L641.2,120.0L641.4,122.0L641.0,122.3L637.0,122.0L636.0,122.8L635.0,124.7L632.7,125.0L631.7,128.0L630.0,128.9L628.0,128.9L628.0,130.1L625.0,131.2L622.0,133.4L620.0,132.3L615.0,133.1L613.0,135.0L611.0,135.2L610.7,137.0L610.0,137.8L606.0,138.1L603.0,140.9L600.0,140.0L598.0,139.9L594.0,141.2L587.0,142.0L585.0,143.2L578.0,143.3L574.0,144.0ZM659.0,28.3L658.0,28.4L657.5,28.0L659.5,28.0L659.0,28.3ZM672.0,30.4L670.4,30.0L670.7,29.0L672.0,27.7L672.0,30.4ZM618.0,31.3L617.3,31.0L618.0,29.7L618.5,30.0L618.0,31.3ZM641.3,34.0L643.0,32.0L642.0,31.5L639.2,33.0L640.0,34.0L641.0,34.5L641.3,34.0ZM612.2,48.0L613.1,46.0L614.4,45.0L614.5,44.0L613.0,42.8L611.2,43.0L610.9,44.0L611.4,46.0L610.2,47.0L610.8,48.0L612.2,48.0ZM661.0,48.0L661.7,46.0L660.0,45.6L659.3,46.0L658.8,47.0L659.1,48.0L660.0,48.8L661.0,48.0ZM657.5,58.0L657.0,56.4L656.0,56.2L655.7,57.0L656.0,57.8L657.0,58.4L657.5,58.0ZM662.1,61.0L662.0,59.5L661.0,59.6L660.7,60.0L661.0,60.9L662.0,61.8L662.1,61.0ZM536.0,86.1L534.0,86.5L534.0,86.0L535.0,84.8L536.0,86.1ZM644.4,91.0L644.0,90.2L642.9,90.0L642.7,91.0L643.0,91.4L644.0,91.4L644.4,91.0ZM643.9,96.0L643.0,95.6L642.5,96.0L643.0,96.6L643.9,96.0ZM654.0,112.1L652.8,112.0L652.7,111.0L654.0,109.7L655.0,111.0L654.0,112.1ZM642.0,128.1L641.0,128.4L640.8,128.0L640.5,127.0L641.0,126.2L642.3,127.0L642.0,128.1ZM510.0,131.2L510.0,129.2L511.0,129.4L511.0,130.5L510.0,131.2Z" fill="#0038ff"/>
<path d="M636.0,39.3L635.0,39.5L634.2,39.0L634.5,36.0L635.0,35.3L636.4,36.0L636.6,38.0L636.0,39.3ZM576.0,142.0L568.0,142.4L565.0,142.0L563.0,142.4L559.0,142.4L549.0,141.0L547.0,141.6L545.0,141.6L543.0,140.7L540.0,140.7L531.0,139.4L525.0,136.5L522.1,136.0L521.1,135.0L521.0,134.0L520.0,134.5L519.0,134.3L518.0,132.5L516.3,131.0L516.2,130.0L517.7,128.0L517.0,126.0L520.4,124.0L519.3,122.0L517.0,121.0L515.0,118.3L514.0,118.2L512.1,120.0L511.3,122.0L510.0,122.6L510.0,119.9L511.0,119.0L511.3,118.0L511.2,117.0L510.0,116.2L510.0,111.6L511.0,112.1L513.0,112.0L515.4,110.0L514.4,108.0L513.6,105.0L513.5,104.0L514.3,102.0L514.3,100.0L515.0,99.2L516.0,98.9L518.0,100.3L520.0,98.5L522.1,99.0L524.0,98.8L524.9,98.0L526.0,94.4L527.0,94.1L528.0,94.4L531.0,93.5L533.0,93.5L533.5,92.0L533.4,91.0L534.0,90.5L539.0,91.5L546.0,89.7L549.0,87.8L551.0,87.8L553.0,86.8L555.0,87.4L558.0,86.6L560.0,84.5L561.0,84.0L567.0,83.6L568.0,83.2L569.1,82.0L569.2,80.0L570.0,78.0L573.0,75.6L577.0,75.8L577.5,75.0L577.2,73.0L577.5,72.0L579.4,71.0L580.0,69.0L583.0,66.6L586.0,66.7L589.0,65.0L590.0,64.0L590.8,62.0L592.6,61.0L593.0,59.6L594.0,58.4L595.0,58.2L595.6,59.0L596.0,61.1L597.5,59.0L598.8,58.0L601.0,57.4L603.0,57.5L606.0,56.3L606.0,55.0L605.0,53.0L611.0,51.3L613.0,53.1L614.3,53.0L614.9,52.0L614.0,50.0L614.3,49.0L616.0,46.2L617.0,45.5L619.0,47.9L620.0,47.8L622.0,44.6L625.0,44.3L626.7,45.0L627.0,45.5L629.0,43.3L633.0,42.9L634.0,44.7L637.0,43.4L638.3,44.0L639.7,46.0L640.1,47.0L640.0,49.0L640.6,50.0L641.0,50.3L641.7,50.0L642.7,48.0L644.5,47.0L644.5,46.0L642.7,43.0L646.0,41.1L647.5,42.0L648.0,43.0L649.3,41.0L648.8,39.0L649.0,37.1L650.0,37.8L650.4,43.0L649.5,46.0L648.3,47.0L648.5,48.0L650.0,48.9L651.0,50.3L652.0,50.8L652.4,48.0L653.0,47.1L654.0,47.1L655.5,49.0L655.5,51.0L655.0,51.7L654.0,51.9L652.0,51.2L650.9,54.0L650.0,54.6L647.0,54.3L646.0,54.8L645.6,56.0L646.0,56.6L648.4,58.0L648.1,60.0L648.5,61.0L649.0,61.4L651.0,60.8L652.5,62.0L652.0,63.3L649.6,64.0L651.0,64.8L652.0,64.6L652.5,67.0L650.1,69.0L649.0,70.7L648.0,71.1L645.0,67.3L644.1,68.0L642.0,68.4L641.8,69.0L642.8,71.0L643.5,74.0L642.5,75.0L642.0,76.2L642.2,77.0L643.6,78.0L644.0,79.0L642.0,81.0L641.7,82.0L644.0,82.6L644.3,83.0L643.4,84.0L641.0,84.7L640.1,84.0L640.8,83.0L639.4,82.0L638.5,82.0L637.7,83.0L636.0,84.0L635.9,85.0L637.0,86.4L638.0,86.3L639.8,85.0L640.0,84.3L640.4,85.0L640.1,86.0L640.6,88.0L640.2,91.0L641.6,93.0L640.4,95.0L640.4,97.0L642.0,99.1L645.0,99.2L645.4,100.0L644.9,102.0L644.1,103.0L642.0,100.8L641.0,100.9L640.0,102.2L639.4,104.0L639.5,106.0L639.2,107.0L640.0,107.7L641.0,107.9L641.7,109.0L641.8,110.0L641.0,112.0L642.0,112.3L642.5,113.0L642.7,114.0L642.3,115.0L641.0,115.4L640.0,115.2L638.0,116.7L637.1,116.0L636.2,114.0L635.0,114.3L634.1,116.0L634.4,118.0L634.2,119.0L633.0,119.4L630.6,121.0L629.0,122.7L625.0,122.8L624.0,123.3L620.1,126.0L619.7,127.0L620.0,128.1L619.0,128.5L618.0,128.1L617.0,128.4L616.0,129.0L614.0,128.5L613.2,129.0L612.7,131.0L612.0,131.6L610.0,131.9L609.0,132.8L608.0,135.3L605.0,135.4L602.0,137.6L598.0,137.4L594.0,139.4L591.0,139.5L588.0,140.4L584.0,140.9L582.0,140.6L580.0,141.6L578.0,141.0L576.0,142.0ZM625.2,50.0L626.0,49.5L626.7,48.0L626.0,47.5L624.1,48.0L623.0,49.0L625.2,50.0ZM618.1,50.0L618.0,48.5L617.0,48.8L617.0,50.2L618.1,50.0ZM644.1,52.0L643.0,50.8L642.1,51.0L643.0,53.0L644.0,52.7L644.1,52.0ZM632.4,52.0L632.0,51.1L631.4,52.0L632.0,52.5L632.4,52.0ZM620.2,54.0L620.0,52.8L619.0,52.6L618.1,53.0L618.3,54.0L619.0,54.5L620.2,54.0ZM635.6,82.0L635.0,81.3L634.0,81.4L633.8,82.0L635.0,82.5L635.6,82.0ZM510.0,110.6L510.0,107.8L510.8,108.0L511.3,109.0L510.0,110.6ZM640.0,113.0L641.0,112.0L639.7,112.0L640.0,113.0ZM514.3,117.0L513.9,117.0L514.0,117.4L514.3,117.0Z" fill="#0057ff"/>
<path d="M633.0,66.4L632.0,66.7L631.3,66.0L631.1,65.0L631.4,64.0L632.5,63.0L634.5,62.0L635.2,61.0L633.6,59.0L633.9,57.0L632.8,56.0L632.7,55.0L633.4,54.0L635.0,53.5L638.0,56.9L639.0,56.9L641.0,56.2L642.0,56.5L641.9,59.0L639.2,60.0L639.0,62.2L637.0,65.0L636.0,65.8L633.0,66.4ZM569.0,141.1L563.0,141.0L560.0,141.3L549.0,140.0L546.0,140.5L543.0,139.5L541.0,139.8L531.0,137.9L527.0,136.6L524.5,135.0L523.2,133.0L522.9,131.0L523.3,130.0L525.0,128.1L528.0,128.0L529.1,127.0L528.8,126.0L527.7,125.0L528.3,122.0L528.0,121.1L527.0,120.6L526.0,121.5L525.0,121.7L523.8,121.0L524.3,118.0L524.0,116.9L520.0,116.8L516.4,114.0L516.0,113.0L517.6,111.0L518.4,109.0L520.3,108.0L520.7,107.0L520.6,106.0L520.0,105.0L518.9,105.0L518.1,104.0L518.6,103.0L520.0,102.3L521.0,102.3L522.9,101.0L527.0,99.3L528.0,99.5L530.0,98.6L532.0,99.4L534.0,97.9L536.0,97.0L537.0,96.0L536.9,95.0L536.0,94.0L536.4,93.0L537.0,92.8L537.9,94.0L537.2,95.0L538.2,96.0L540.0,96.0L541.1,95.0L541.4,93.0L542.0,92.4L547.0,91.0L549.0,89.7L553.0,90.8L558.0,89.5L561.0,89.8L562.8,89.0L563.0,88.2L565.0,89.1L568.0,88.6L570.4,85.0L574.0,82.6L575.6,80.0L576.0,78.0L579.0,77.6L583.2,74.0L583.8,73.0L583.6,71.0L584.0,70.2L585.0,70.3L586.0,71.6L587.0,71.3L588.5,70.0L591.0,69.0L593.7,67.0L596.0,67.8L596.4,67.0L595.7,66.0L595.6,65.0L596.0,63.7L598.0,63.9L602.0,63.0L603.6,62.0L605.0,60.0L606.0,59.7L608.0,60.3L609.0,60.0L610.8,59.0L612.0,57.4L612.7,58.0L611.7,60.0L612.0,61.8L617.0,60.1L619.0,61.3L619.7,60.0L619.0,58.9L617.0,57.7L616.0,56.5L613.8,56.0L615.0,54.8L616.0,54.6L618.0,56.0L620.0,56.7L622.0,56.4L622.6,57.0L623.4,60.0L624.0,60.7L628.0,62.5L629.9,66.0L629.7,69.0L630.0,69.3L632.0,68.5L633.0,69.4L633.2,71.0L632.4,74.0L633.0,76.2L634.5,76.0L635.0,74.1L636.0,73.6L636.6,75.0L636.5,76.0L635.7,77.0L635.4,79.0L633.0,79.4L632.1,80.0L631.8,82.0L630.9,84.0L632.2,85.0L631.5,87.0L631.7,88.0L634.3,89.0L634.1,90.0L632.0,90.2L631.0,90.9L630.4,92.0L631.1,93.0L633.9,95.0L631.5,97.0L631.5,98.0L633.0,98.9L634.0,101.0L635.8,102.0L635.7,103.0L634.0,104.2L633.0,104.4L632.0,103.6L631.0,103.9L631.8,106.0L629.8,108.0L630.0,110.1L632.0,111.1L632.6,112.0L633.0,113.0L632.8,114.0L632.0,115.1L631.0,115.5L628.0,114.7L626.3,115.0L626.0,116.0L629.2,118.0L629.3,119.0L628.0,120.3L627.0,120.9L623.0,120.9L622.0,122.8L621.0,123.4L618.0,122.4L617.0,122.7L616.8,124.0L615.0,126.0L612.0,127.0L611.0,128.5L610.0,129.2L608.0,128.9L604.7,131.0L605.5,133.0L602.0,136.0L598.0,136.5L593.0,138.5L590.0,138.7L588.0,139.2L582.0,139.4L580.0,140.0L577.2,140.0L575.0,140.9L569.0,141.1ZM629.0,60.0L627.1,59.0L626.8,58.0L628.0,56.8L629.0,57.0L630.4,58.0L630.2,59.0L629.0,60.0ZM639.0,70.5L638.0,70.7L637.9,70.0L639.0,69.0L639.9,70.0L639.0,70.5ZM638.0,101.1L638.0,99.9L638.0,101.1ZM603.6,131.0L603.0,130.4L602.0,130.8L602.0,132.0L603.6,131.0Z" fill="#007aff"/>
<path d="M569.0,140.0L562.0,140.0L560.0,140.3L546.0,139.3L543.0,138.5L541.0,138.7L535.0,137.0L529.0,136.1L526.6,135.0L525.8,134.0L525.3,132.0L525.3,131.0L525.9,130.0L532.0,129.0L534.0,129.1L534.9,128.0L534.5,126.0L534.4,122.0L534.0,121.4L533.0,120.9L531.8,119.0L529.0,117.2L528.0,117.0L527.5,116.0L529.2,115.0L530.7,112.0L530.0,111.8L529.0,112.8L528.0,113.1L526.0,112.8L524.0,113.8L523.0,113.6L522.6,113.0L523.0,112.0L524.0,111.1L525.0,111.0L525.2,110.0L524.2,109.0L524.4,108.0L527.0,106.3L529.7,106.0L531.5,105.0L532.3,104.0L533.2,101.0L534.0,99.9L537.0,98.9L539.0,97.7L542.9,97.0L546.0,93.7L551.0,93.5L553.0,94.1L554.0,93.9L557.0,91.9L558.0,91.8L559.3,92.0L561.0,93.4L562.0,93.3L567.0,91.1L569.0,91.4L571.0,91.0L572.6,89.0L575.0,87.9L578.1,85.0L579.0,83.1L580.0,82.3L582.0,82.4L584.7,80.0L585.1,78.0L586.5,77.0L587.8,75.0L589.0,74.8L591.3,73.0L591.8,70.0L593.0,69.3L594.0,69.3L596.0,71.0L597.0,70.7L601.0,66.5L604.0,65.1L606.0,66.5L607.0,66.4L608.0,66.0L609.0,65.0L610.0,63.0L612.3,65.0L613.0,67.0L617.0,65.8L618.0,66.8L620.0,67.8L621.0,69.4L623.0,68.8L624.0,68.9L627.7,71.0L628.1,72.0L627.8,73.0L627.0,73.4L625.0,72.5L624.3,73.0L625.6,83.0L626.0,83.9L627.3,85.0L626.6,88.0L628.1,90.0L625.3,96.0L625.4,99.0L626.5,101.0L625.8,103.0L626.3,107.0L628.2,112.0L627.7,113.0L625.7,113.0L625.4,111.0L624.0,110.5L623.0,111.2L621.9,113.0L621.6,114.0L622.0,116.1L621.0,116.3L620.1,115.0L618.0,113.9L617.0,115.0L617.0,116.0L618.7,118.0L618.5,119.0L617.1,120.0L614.0,121.2L612.0,120.2L610.0,120.8L607.1,124.0L606.0,126.3L605.0,126.8L604.0,126.1L602.0,125.7L599.0,123.8L597.0,124.2L596.3,125.0L597.0,126.9L599.7,128.0L600.2,129.0L599.6,134.0L598.9,135.0L595.0,135.5L592.7,137.0L588.0,138.0L583.0,138.2L577.6,139.0L575.0,139.8L569.0,140.0ZM621.3,79.0L621.7,78.0L621.5,77.0L621.0,76.6L620.3,77.0L620.0,78.0L621.0,79.4L621.3,79.0ZM630.0,78.7L630.0,77.4L630.0,78.7ZM623.5,96.0L623.0,95.3L622.0,94.9L621.0,96.0L622.0,96.8L623.0,96.7L623.5,96.0Z" fill="#00a3ff"/>
<path d="M575.0,139.0L560.0,139.5L555.0,138.9L551.0,139.1L541.0,137.6L532.0,135.0L529.7,133.0L529.1,132.0L530.0,131.5L535.0,130.6L537.0,128.4L541.0,127.7L543.0,125.7L546.0,126.5L548.0,126.3L549.3,125.0L549.4,124.0L549.0,123.4L548.0,123.1L545.5,123.0L544.0,120.3L543.0,119.8L542.0,120.2L540.0,122.0L538.0,121.5L537.5,121.0L537.1,119.0L535.0,115.6L532.9,115.0L531.9,114.0L533.2,110.0L532.4,107.0L538.6,103.0L539.4,102.0L539.3,100.0L539.8,99.0L543.8,99.0L546.0,97.6L548.2,97.0L550.0,95.1L554.0,94.9L557.0,93.5L558.0,93.6L561.0,95.0L565.0,93.1L570.1,93.0L574.0,90.9L579.0,91.1L579.6,90.0L579.0,88.6L578.2,88.0L579.0,87.6L584.0,87.7L586.0,86.2L587.1,84.0L589.0,81.9L591.4,83.0L593.0,80.3L593.8,80.0L593.0,79.6L591.9,77.0L592.0,76.6L593.0,76.4L594.0,77.4L595.0,77.6L598.0,77.0L599.0,76.5L599.4,74.0L600.0,73.3L603.0,72.2L607.0,72.6L610.0,73.7L611.0,73.0L612.4,71.0L615.0,68.9L615.4,70.0L615.2,72.0L614.2,74.0L612.3,76.0L612.5,77.0L613.0,77.3L614.0,77.0L615.6,75.0L617.7,74.0L619.0,71.9L619.1,74.0L618.5,75.0L618.0,78.5L617.0,78.2L616.0,78.5L615.5,79.0L615.5,80.0L616.8,82.0L619.4,84.0L620.4,86.0L622.3,88.0L622.9,90.0L622.0,90.9L621.0,91.1L620.0,90.7L619.0,89.7L618.0,89.6L617.5,90.0L617.7,91.0L619.0,91.4L619.7,92.0L619.9,93.0L619.6,94.0L618.6,95.0L618.5,96.0L619.2,97.0L620.9,98.0L621.5,99.0L621.3,100.0L619.7,102.0L620.2,105.0L620.0,106.0L619.5,107.0L617.9,108.0L617.3,109.0L617.7,111.0L617.4,112.0L616.0,113.5L614.0,114.9L613.1,117.0L612.0,118.2L608.0,119.0L606.7,118.0L605.6,118.0L604.4,119.0L604.6,120.0L603.9,121.0L602.0,123.0L600.0,122.3L597.0,122.9L595.0,122.7L593.0,123.9L592.0,122.4L591.0,122.2L590.5,123.0L591.7,125.0L590.5,126.0L590.2,127.0L591.0,127.7L592.0,127.5L593.0,125.1L594.0,125.6L595.0,128.6L596.0,129.2L597.0,129.2L598.0,130.2L598.0,132.0L597.0,133.0L594.0,133.5L590.6,136.0L588.0,137.0L580.0,137.8L575.0,139.0ZM601.4,78.0L600.6,78.0L601.0,78.6L601.4,78.0ZM597.0,79.0L596.3,79.0L597.0,79.0ZM606.4,80.0L606.0,79.3L605.8,80.0L606.4,80.0ZM623.0,83.0L622.0,83.3L621.4,83.0L622.0,82.6L623.0,83.0ZM608.4,91.0L608.0,90.6L607.8,91.0L608.4,91.0ZM529.0,109.3L528.5,109.0L529.0,108.9L529.0,109.3ZM620.0,112.2L620.0,111.7L620.0,112.2ZM607.0,121.3L605.7,121.0L607.0,120.0L607.3,121.0L607.0,121.3Z" fill="#00ccff"/>
<path d="M606.0,77.0L604.0,76.7L601.4,75.0L602.0,74.0L604.0,73.5L605.9,74.0L606.6,75.0L606.6,76.0L606.0,77.0ZM576.0,138.2L565.0,138.9L562.0,138.7L559.0,138.9L555.0,138.3L551.0,138.5L542.0,137.0L540.0,136.1L535.0,135.0L533.3,134.0L533.6,133.0L536.0,132.0L537.2,130.0L538.0,129.4L541.0,128.9L543.0,127.5L547.0,127.5L549.0,127.1L551.2,126.0L552.3,124.0L551.9,123.0L550.1,122.0L549.0,121.7L547.0,122.0L546.0,121.4L544.0,119.0L543.0,118.5L540.0,118.5L537.5,117.0L537.4,115.0L534.6,112.0L534.7,111.0L536.1,109.0L536.5,106.0L537.2,105.0L540.0,103.6L542.0,101.3L551.0,96.1L557.0,95.0L559.0,95.2L561.0,95.9L562.0,95.7L565.0,94.1L567.0,94.4L573.0,94.0L575.0,92.4L576.0,92.5L578.0,93.4L579.0,93.3L581.5,92.0L582.0,91.4L585.0,91.4L585.4,91.0L586.0,88.8L588.0,87.7L589.0,86.0L590.0,85.2L593.0,84.7L595.0,82.0L596.0,81.4L598.0,80.7L598.9,81.0L599.0,82.0L600.0,82.5L603.0,82.8L605.0,82.4L606.0,83.1L607.0,83.0L608.1,82.0L609.0,78.7L610.0,78.5L610.6,79.0L611.5,82.0L611.5,83.0L610.8,85.0L611.6,86.0L613.7,87.0L613.1,90.0L612.0,91.7L611.0,91.3L610.1,90.0L608.0,88.3L607.0,88.3L605.5,90.0L605.6,91.0L608.0,94.2L611.0,93.1L612.0,93.2L613.9,95.0L616.4,96.0L616.5,97.0L616.1,98.0L617.4,100.0L615.5,102.0L614.8,104.0L614.0,104.8L611.0,104.3L610.6,105.0L611.0,106.5L612.0,107.4L613.0,107.7L614.0,107.5L615.0,106.1L616.0,105.7L616.5,106.0L616.0,107.5L615.0,108.8L614.0,108.7L613.0,109.5L612.0,111.0L611.4,113.0L610.5,114.0L610.0,116.2L609.0,116.6L606.0,115.0L605.0,115.0L603.6,117.0L601.9,118.0L600.0,120.4L597.0,121.4L593.0,120.6L591.0,121.1L589.4,122.0L588.7,124.0L585.2,125.0L586.1,128.0L587.0,128.9L590.0,129.7L591.0,130.8L592.2,131.0L593.0,131.9L592.0,133.1L591.0,133.3L589.0,135.5L587.0,136.4L580.0,137.2L576.0,138.2ZM600.7,89.0L602.0,88.0L604.0,87.7L605.0,87.0L604.0,85.8L603.0,85.8L598.0,86.7L597.1,88.0L597.2,89.0L598.0,89.7L600.7,89.0ZM616.0,88.1L615.7,88.0L615.5,87.0L616.0,86.6L617.0,86.8L616.0,88.1ZM592.0,92.0L591.0,91.7L589.8,92.0L591.0,92.6L592.0,92.0ZM612.3,101.0L612.3,100.0L611.0,99.9L611.0,101.9L612.0,101.6L612.3,101.0ZM607.1,111.0L606.6,111.0L607.1,111.0Z" fill="#00f5ff"/>
<path d="M591.0,90.3L589.7,90.0L589.4,89.0L590.0,88.0L591.0,87.3L592.0,87.2L593.0,87.8L595.2,87.0L595.4,88.0L595.0,88.4L593.0,88.1L592.5,89.0L591.0,90.3ZM574.0,138.0L571.0,137.8L565.0,138.5L562.0,138.2L559.0,138.5L555.0,137.8L550.0,138.0L542.0,136.4L540.0,135.3L535.7,134.0L538.0,130.7L539.0,130.1L542.0,129.5L544.0,128.4L548.0,128.3L554.0,126.5L557.0,126.2L559.0,126.9L560.6,126.0L561.2,125.0L560.0,124.4L558.0,124.3L557.0,123.8L555.0,123.8L552.0,121.6L549.0,120.5L547.0,120.4L544.0,117.9L541.0,116.4L540.0,116.7L539.0,116.4L538.8,116.0L539.5,114.0L539.0,113.2L537.0,112.9L536.5,112.0L537.7,106.0L540.9,104.0L542.0,102.6L544.0,101.7L546.0,99.5L552.0,97.0L559.0,96.1L562.0,96.4L565.0,95.1L574.0,95.2L576.0,94.6L578.0,95.1L583.0,93.2L589.0,95.0L591.0,94.4L593.0,92.6L594.0,92.2L596.0,93.0L598.0,91.5L602.0,90.6L602.4,92.0L603.0,92.8L605.0,92.5L605.8,93.0L606.4,96.0L606.2,97.0L604.0,97.8L602.1,97.0L601.0,96.0L600.6,95.0L599.2,95.0L599.2,96.0L600.8,97.0L602.0,99.0L604.0,99.6L606.0,101.0L607.0,101.3L607.9,99.0L607.6,97.0L609.1,97.0L608.4,99.0L609.0,99.2L609.1,100.0L608.5,103.0L608.0,104.0L606.5,105.0L605.8,106.0L605.8,107.0L604.0,110.5L603.6,113.0L602.3,116.0L600.2,117.0L599.8,118.0L599.0,118.4L598.4,117.0L598.0,116.9L595.0,118.2L593.0,118.5L591.1,120.0L589.0,120.9L587.0,122.8L583.0,122.8L582.0,123.3L580.0,125.4L579.8,127.0L581.0,127.6L582.0,127.0L583.6,127.0L585.3,129.0L589.0,130.6L589.6,132.0L588.6,134.0L588.0,135.0L587.0,135.4L574.0,138.0ZM610.0,109.2L609.0,109.7L608.0,109.3L606.7,108.0L607.0,107.0L609.0,106.3L610.3,108.0L610.0,109.2ZM564.8,127.0L564.8,126.0L564.0,124.7L562.5,126.0L563.0,127.1L564.0,127.3L564.8,127.0Z" fill="#00ffdb"/>
<path d="M594.0,94.5L594.0,93.9L594.0,94.5ZM577.0,123.0L573.0,123.8L570.0,123.0L567.0,123.9L564.0,122.8L562.0,123.7L558.0,122.9L556.0,122.0L555.0,122.1L550.0,119.7L547.0,119.0L543.1,116.0L542.0,113.3L539.7,111.0L540.4,106.0L542.9,103.0L545.0,102.2L546.0,100.6L547.0,99.9L556.0,97.6L559.0,97.0L562.0,97.0L566.0,95.9L580.0,96.2L584.0,97.1L588.0,96.3L590.0,96.4L592.0,97.4L593.7,100.0L595.0,101.0L598.0,101.8L599.0,101.4L601.0,102.1L601.4,103.0L599.7,104.0L599.1,105.0L600.0,106.2L602.0,107.0L602.3,108.0L602.0,109.1L600.0,111.0L598.8,114.0L598.0,114.9L591.1,118.0L586.0,122.0L583.0,121.9L580.0,122.8L577.0,123.0ZM599.0,100.3L598.4,99.0L599.0,98.5L599.4,99.0L599.0,100.3ZM576.0,137.1L571.0,137.1L565.0,137.9L550.0,137.4L542.0,135.6L539.1,134.0L538.3,133.0L539.8,131.0L543.0,130.1L545.0,129.0L548.0,129.3L552.0,128.1L557.0,127.3L560.0,128.7L562.0,128.1L564.0,128.4L566.1,128.0L568.0,126.6L571.0,127.3L574.0,127.0L575.4,128.0L579.0,128.2L582.2,130.0L586.2,131.0L587.9,132.0L586.3,134.0L584.9,135.0L576.0,137.1Z" fill="#00ffa8"/>
<path d="M576.0,122.1L572.0,122.4L570.0,122.0L567.0,122.9L564.0,122.2L561.0,122.6L554.0,120.6L547.4,118.0L544.6,116.0L543.0,113.0L541.4,111.0L541.3,107.0L542.9,104.0L545.2,103.0L547.0,100.8L555.0,99.0L559.0,97.6L562.0,97.4L566.0,96.4L569.0,96.8L572.0,96.5L577.0,97.4L580.0,97.3L584.0,98.1L589.0,97.5L589.9,98.0L591.6,100.0L594.0,101.8L596.7,103.0L597.8,104.0L598.1,106.0L599.3,108.0L599.1,110.0L596.8,113.0L594.0,115.7L590.9,117.0L586.0,121.0L579.0,121.5L576.0,122.1ZM568.0,137.2L559.0,137.5L553.0,136.7L549.0,136.7L542.3,135.0L540.2,133.0L540.5,132.0L541.0,131.7L543.0,131.1L545.0,129.8L548.0,130.2L553.0,128.7L557.0,128.2L560.0,129.9L561.0,129.9L562.0,129.2L567.0,128.7L569.0,128.0L573.0,128.1L577.0,129.7L579.0,129.8L580.2,131.0L583.1,132.0L583.6,133.0L583.5,134.0L580.0,135.1L578.0,136.3L575.0,136.6L571.0,136.5L568.0,137.2Z" fill="#00ff75"/>
<path d="M568.0,122.1L562.0,121.9L558.0,121.2L549.4,118.0L545.0,115.2L542.1,110.0L542.1,108.0L543.1,107.0L544.0,104.5L546.0,103.4L547.0,101.8L548.0,101.1L554.0,99.8L559.0,98.1L566.0,97.0L568.0,97.3L572.0,97.1L577.0,98.2L580.0,98.1L586.0,98.9L588.0,100.0L592.0,101.2L596.2,104.0L597.0,106.7L598.0,108.0L598.2,109.0L597.7,110.0L596.0,111.2L594.7,114.0L593.8,115.0L591.0,116.2L585.0,120.2L579.0,120.7L575.0,121.6L570.0,121.5L568.0,122.1ZM560.0,137.1L553.0,136.0L549.0,136.2L545.0,134.8L543.0,134.5L542.0,134.0L541.5,133.0L545.0,130.7L547.0,131.1L551.0,130.8L553.0,129.3L558.0,129.4L560.0,130.5L561.0,130.6L563.0,129.7L573.0,129.0L575.4,130.0L578.0,132.4L579.3,133.0L579.5,134.0L578.9,135.0L577.0,135.9L572.0,135.8L568.0,136.6L560.0,137.1Z" fill="#00ff42"/>
<path d="M575.0,121.1L570.0,120.9L567.0,121.7L562.0,121.4L558.0,120.7L554.0,119.3L550.0,117.6L548.0,115.8L545.9,115.0L543.3,111.0L542.9,109.0L544.0,108.0L545.0,105.0L546.4,104.0L548.0,101.8L551.0,100.8L555.0,100.0L559.0,98.4L565.0,97.4L572.0,97.6L577.0,98.6L580.0,98.6L585.0,99.4L592.0,102.0L594.9,104.0L595.5,105.0L596.0,108.0L593.9,114.0L586.0,118.7L583.0,119.6L575.0,121.1ZM568.0,136.0L564.0,136.1L560.0,136.6L555.0,136.1L553.0,135.1L549.0,135.6L547.2,135.0L544.7,133.0L546.0,132.0L549.0,131.7L551.0,132.1L553.0,130.0L554.0,129.9L556.0,130.2L558.0,130.1L561.0,131.2L564.0,130.1L571.0,130.4L573.0,129.8L575.0,130.6L577.8,134.0L577.5,135.0L577.0,135.2L572.0,135.2L568.0,136.0Z" fill="#00ff0f"/>
<path d="M568.0,121.0L563.0,121.1L558.0,120.2L551.0,117.5L548.0,115.2L546.0,114.3L544.5,112.0L543.8,110.0L545.1,108.0L545.4,106.0L548.0,102.6L551.0,101.2L555.0,100.4L560.0,98.5L565.0,97.8L568.0,98.1L571.0,97.9L585.0,100.1L592.0,102.7L593.9,104.0L594.5,105.0L594.8,109.0L593.0,114.0L589.0,116.4L583.0,118.8L576.0,120.6L570.0,120.6L568.0,121.0ZM562.0,136.0L559.0,136.1L555.0,135.5L553.6,134.0L553.5,131.0L558.0,130.6L561.0,131.6L564.0,130.6L566.0,130.5L569.0,131.2L573.0,130.7L575.0,131.5L576.1,133.0L576.3,134.0L575.0,134.5L572.0,134.5L569.0,135.1L565.0,135.0L562.0,136.0ZM549.0,134.3L547.8,134.0L549.0,133.0L549.7,134.0L549.0,134.3Z" fill="#24ff00"/>
<path d="M577.0,120.0L574.0,120.5L570.0,120.3L564.0,120.8L558.0,119.8L553.0,118.0L550.0,116.4L548.0,114.7L546.0,113.6L544.6,111.0L544.6,110.0L545.7,108.0L546.1,106.0L549.0,102.6L559.0,99.0L564.0,98.3L571.0,98.2L577.0,99.3L580.0,99.4L588.0,101.6L593.0,104.0L593.6,105.0L594.2,109.0L592.7,113.0L589.0,115.9L586.0,117.3L577.0,120.0ZM563.0,135.0L560.0,135.6L555.7,135.0L555.1,134.0L555.0,132.0L558.0,131.1L561.0,132.2L563.0,131.3L565.0,131.0L568.0,132.0L574.0,131.9L575.1,133.0L574.0,133.6L572.0,133.5L570.0,134.2L569.0,133.8L568.0,132.8L567.0,132.7L563.0,135.0Z" fill="#57ff00"/>
<path d="M575.0,120.0L564.0,120.6L558.0,119.5L554.0,118.2L550.0,115.9L546.0,112.9L545.2,111.0L546.3,107.0L549.0,103.2L551.3,102.0L556.0,100.7L559.0,99.3L564.0,98.6L571.0,98.5L580.0,99.7L588.0,102.0L592.0,104.3L592.6,105.0L593.6,109.0L591.6,113.0L589.5,115.0L585.0,117.3L578.0,119.5L575.0,120.0ZM562.0,134.2L560.0,135.0L556.6,134.0L556.4,133.0L558.0,131.7L561.0,132.9L562.0,132.7L563.0,132.0L564.7,132.0L562.0,134.2Z" fill="#8aff00"/>
<path d="M568.0,120.0L564.0,120.3L559.0,119.4L554.0,117.8L550.0,115.5L545.9,112.0L545.7,111.0L547.0,106.6L549.0,104.0L552.2,102.0L556.0,101.0L560.0,99.3L564.0,98.9L571.0,98.9L581.0,100.2L588.0,102.4L591.4,105.0L593.0,109.0L591.4,111.0L590.8,113.0L588.0,115.5L585.0,117.0L577.0,119.5L568.0,120.0ZM559.0,133.0L559.0,133.0Z" fill="#bdff00"/>
<path d="M565.0,120.0L559.0,119.0L554.0,117.5L547.0,112.7L546.2,111.0L547.3,107.0L549.7,104.0L553.0,102.0L556.0,101.3L560.0,99.5L570.0,99.1L581.0,100.4L584.9,102.0L588.0,102.8L590.5,105.0L591.6,108.0L590.6,112.0L588.0,115.0L586.4,116.0L577.0,119.2L565.0,120.0Z" fill="#f0ff00"/>
<path d="M576.0,119.1L564.0,119.8L554.0,117.2L547.0,112.0L546.8,111.0L547.7,107.0L550.0,104.3L551.9,103.0L560.0,99.8L570.0,99.3L574.0,99.6L581.0,100.7L583.8,102.0L588.0,103.3L589.8,105.0L590.7,107.0L590.7,109.0L590.0,112.2L587.5,115.0L585.0,116.4L579.0,118.5L576.0,119.1Z" fill="#ffdb00"/>
<path d="M574.0,119.1L564.0,119.6L554.3,117.0L550.0,114.0L547.9,112.0L547.4,111.0L548.0,107.3L550.0,104.9L552.5,103.0L557.0,101.5L560.0,100.0L569.0,99.5L574.0,99.8L581.0,100.9L583.0,102.0L587.0,103.2L588.2,104.0L589.7,106.0L590.2,108.0L589.6,112.0L587.9,114.0L585.0,116.1L578.0,118.5L574.0,119.1Z" fill="#ffa800"/>
<path d="M571.0,119.0L564.0,119.4L556.0,117.3L554.0,116.5L550.5,114.0L548.5,112.0L548.0,111.0L547.9,109.0L548.6,107.0L551.0,104.4L553.1,103.0L561.0,100.1L570.0,99.8L580.0,100.9L587.0,103.6L588.5,105.0L589.7,108.0L589.5,111.0L589.1,112.0L586.4,115.0L584.6,116.0L578.0,118.3L571.0,119.0Z" fill="#ff7500"/>
<path d="M567.0,119.0L563.0,118.9L556.0,117.1L554.0,116.2L551.0,114.0L548.5,111.0L548.2,109.0L549.0,107.0L551.0,104.8L553.7,103.0L561.0,100.3L570.0,100.0L580.0,101.1L587.0,104.1L588.0,105.0L589.2,108.0L589.1,111.0L587.0,114.0L585.8,115.0L584.0,116.0L577.0,118.3L567.0,119.0Z" fill="#ff4200"/>
<path d="M577.0,118.1L573.0,118.6L564.0,118.9L556.0,116.8L554.0,115.8L550.3,113.0L548.6,110.0L548.8,108.0L550.2,106.0L552.0,104.4L554.0,103.2L561.0,100.5L564.0,100.6L569.0,100.1L574.0,100.4L580.0,101.3L587.0,104.5L588.2,106.0L588.8,108.0L588.9,110.0L588.2,112.0L585.0,115.2L577.0,118.1Z" fill="#ff1400"/>
<path d="M576.0,118.1L564.0,118.8L556.0,116.6L554.0,115.5L550.6,113.0L548.9,110.0L549.1,108.0L550.5,106.0L552.0,104.6L554.0,103.5L561.0,100.7L564.0,100.8L569.0,100.3L574.0,100.5L580.0,101.5L587.0,104.8L588.2,107.0L588.6,110.0L588.4,111.0L587.0,113.1L584.0,115.5L579.0,117.4L576.0,118.1Z" fill="#ff0000"/>
<path d="M568.0,139.0L559.0,139.2L555.0,138.6L550.0,138.7L542.0,137.4L533.4,135.0L532.2,134.0L531.6,133.0L532.0,132.3L535.0,131.7L536.0,131.0L537.0,129.3L541.0,128.3L543.0,126.7L546.0,127.1L548.0,126.9L549.9,126.0L550.7,125.0L550.3,123.0L549.0,122.4L546.0,122.4L544.0,119.6L543.0,119.1L540.0,119.6L539.0,119.2L536.6,117.0L536.2,115.0L535.0,114.1L533.0,113.4L533.1,112.0L535.2,108.0L535.8,106.0L537.0,104.6L539.8,103.0L541.0,101.0L542.0,100.1L543.0,100.0L546.0,98.3L548.0,97.6L551.0,95.5L554.0,95.3L557.0,94.3L561.0,95.4L562.0,95.3L565.0,93.6L567.0,93.9L572.0,93.1L574.0,91.7L575.0,91.6L579.0,92.3L580.0,91.9L581.0,89.4L581.6,89.0L583.0,89.1L584.0,90.2L584.4,90.0L585.4,88.0L587.2,87.0L588.1,84.0L589.0,83.4L591.0,84.3L592.0,84.3L592.7,84.0L593.3,82.0L599.0,79.3L602.0,81.5L603.0,81.5L604.0,80.6L607.0,81.9L607.8,80.0L607.5,78.0L607.0,77.7L604.0,77.8L600.5,76.0L600.1,75.0L600.5,74.0L603.0,72.8L605.0,72.9L607.0,73.8L608.0,77.0L610.0,76.8L612.8,79.0L612.7,81.0L613.6,83.0L612.7,84.0L612.4,85.0L613.0,85.3L614.0,85.2L614.6,84.0L617.0,83.3L618.2,84.0L619.5,87.0L619.5,88.0L618.0,88.3L615.9,90.0L616.2,92.0L615.0,94.0L617.0,95.3L618.0,97.7L620.0,98.4L620.4,99.0L619.6,100.0L616.6,102.0L616.3,103.0L617.0,103.8L618.0,103.7L618.7,105.0L618.6,106.0L616.7,108.0L616.4,109.0L616.4,111.0L616.0,111.6L614.0,111.2L613.3,112.0L611.7,115.0L611.7,117.0L611.0,117.4L609.0,117.7L606.0,116.6L602.0,119.0L601.7,121.0L601.0,121.3L597.0,122.3L592.0,121.5L590.2,122.0L589.7,123.0L589.7,125.0L586.7,126.0L587.0,128.0L593.0,129.3L594.4,132.0L593.0,133.4L589.4,136.0L587.0,136.8L580.0,137.5L575.0,138.7L568.0,139.0ZM612.0,74.9L611.5,74.0L612.0,73.6L612.8,74.0L612.0,74.9ZM616.0,77.1L615.9,76.0L617.0,76.0L616.5,77.0L616.0,77.1ZM600.3,88.0L600.0,87.6L599.0,87.5L598.0,88.0L599.0,88.7L600.3,88.0ZM610.0,92.0L609.1,90.0L608.0,89.3L607.0,89.5L606.6,90.0L606.6,91.0L608.0,92.6L609.0,92.7L610.0,92.0ZM619.0,93.2L618.0,93.8L617.4,93.0L618.0,92.4L619.0,93.2Z" fill="none" stroke="#333" stroke-width="0.45" stroke-opacity="0.75"/>
<path d="M568.0,123.1L567.0,123.3L564.0,122.5L562.0,123.0L559.0,122.6L546.4,118.0L544.0,115.9L542.6,113.0L540.9,111.0L540.8,107.0L542.5,104.0L545.0,102.8L546.3,101.0L548.0,100.1L554.1,99.0L559.0,97.3L562.0,97.2L566.0,96.2L569.0,96.5L572.0,96.3L577.0,97.1L579.0,96.8L584.0,97.7L589.0,96.9L591.2,98.0L592.4,100.0L594.0,101.3L598.0,103.1L598.6,106.0L599.9,108.0L599.8,109.0L599.6,110.0L597.2,114.0L593.0,116.6L591.0,117.3L586.0,121.4L579.0,121.9L572.0,122.8L570.0,122.4L568.0,123.1ZM569.0,137.2L559.0,137.7L554.0,137.0L550.0,137.1L542.0,135.2L539.4,133.0L540.0,131.8L541.0,131.2L543.0,130.7L545.0,129.5L548.0,129.9L552.0,128.6L557.0,127.8L560.0,129.5L562.0,128.8L566.0,128.5L568.0,127.6L569.0,127.5L571.0,127.9L573.0,127.7L576.0,128.9L579.0,129.0L581.0,130.6L585.2,132.0L585.6,133.0L584.0,134.5L580.0,135.5L578.0,136.5L575.0,136.9L571.0,136.7L569.0,137.2Z" fill="none" stroke="#333" stroke-width="0.4" stroke-opacity="0.75"/>
<path d="M573.0,121.0L570.0,120.8L567.0,121.5L563.0,121.3L558.0,120.5L554.0,119.1L550.0,117.4L548.0,115.6L546.0,114.8L543.6,111.0L543.2,110.0L543.4,109.0L544.5,108.0L545.6,105.0L548.2,102.0L551.0,101.0L555.0,100.2L559.0,98.5L565.0,97.6L568.0,97.9L571.0,97.6L577.0,98.8L580.0,98.8L585.0,99.7L592.0,102.3L594.5,104.0L595.0,105.0L595.5,108.0L594.1,113.0L593.0,114.5L585.0,118.6L577.0,120.6L573.0,121.0ZM563.0,136.1L560.0,136.5L555.0,135.9L553.0,134.6L552.0,134.5L549.0,135.3L547.9,135.0L546.4,134.0L545.8,133.0L549.0,132.0L551.0,132.8L552.0,132.3L553.0,130.6L554.0,130.2L556.0,130.5L558.0,130.3L561.0,131.4L564.0,130.3L570.0,130.7L573.0,130.2L575.1,131.0L577.2,134.0L576.2,135.0L572.0,135.0L569.0,135.6L565.0,135.6L563.0,136.1Z" fill="none" stroke="#333" stroke-width="0.4" stroke-opacity="0.75"/>
<path d="M574.0,120.1L563.0,120.4L558.0,119.4L554.0,118.1L550.0,115.8L546.0,112.8L545.3,111.0L546.4,107.0L549.0,103.4L551.4,102.0L556.0,100.7L559.0,99.4L564.0,98.7L571.0,98.6L580.0,99.7L588.0,102.1L592.0,104.6L593.5,109.0L593.0,110.3L592.1,111.0L591.4,113.0L589.3,115.0L585.0,117.3L578.0,119.5L574.0,120.1ZM561.0,134.3L560.0,134.7L557.3,134.0L556.7,133.0L557.5,132.0L559.0,132.0L561.0,133.0L561.7,134.0L561.0,134.3ZM563.0,133.1L561.2,133.0L563.0,132.8L563.0,133.1Z" fill="none" stroke="#333" stroke-width="0.4" stroke-opacity="0.75"/>
<path d="M576.0,119.1L564.0,119.8L554.0,117.2L547.0,112.0L546.8,111.0L547.7,107.0L550.0,104.3L551.9,103.0L560.0,99.8L570.0,99.3L574.0,99.6L581.0,100.7L583.8,102.0L588.0,103.3L589.8,105.0L590.7,107.0L590.7,109.0L590.0,112.2L587.5,115.0L585.0,116.4L579.0,118.5L576.0,119.1Z" fill="none" stroke="#333" stroke-width="0.4" stroke-opacity="0.75"/>
<path d="M567.0,119.0L564.0,119.2L556.0,117.1L554.0,116.2L550.9,114.0L548.4,111.0L548.2,109.0L548.9,107.0L551.0,104.7L553.6,103.0L561.0,100.3L570.0,99.9L580.0,101.1L587.0,104.0L588.1,105.0L589.3,108.0L589.2,111.0L588.7,112.0L586.0,115.0L584.1,116.0L577.0,118.3L567.0,119.0Z" fill="none" stroke="#333" stroke-width="0.4" stroke-opacity="0.75"/>
<path d="M576.0,118.1L564.0,118.8L556.0,116.6L554.0,115.5L550.6,113.0L548.9,110.0L549.1,108.0L550.5,106.0L552.0,104.6L554.0,103.5L561.0,100.7L564.0,100.8L569.0,100.3L574.0,100.5L580.0,101.5L587.0,104.8L588.2,107.0L588.6,110.0L588.4,111.0L587.0,113.1L584.0,115.5L579.0,117.4L576.0,118.1Z" fill="none" stroke="#333" stroke-width="0.45" stroke-opacity="0.75"/>
</g>
<line x1="510.6" y1="125.3" x2="672" y2="125.3" stroke="#fff" stroke-width="2.2" stroke-dasharray="7.4,5.7"/>
<line x1="580.6" y1="58.2" x2="580.6" y2="152.5" stroke="#fff" stroke-width="2.2" stroke-dasharray="7.4,5.7"/>
<line x1="553.6" y1="132.8" x2="553.6" y2="152.5" stroke="#fff" stroke-width="2.2" stroke-dasharray="7.4,5.7"/>
<rect x="510" y="16" width="162" height="136.5" fill="none" stroke="#111" stroke-width="1"/>
<line x1="510" y1="152.5" x2="510" y2="155.1" stroke="#000" stroke-width="1"/>
<line x1="537" y1="152.5" x2="537" y2="155.1" stroke="#000" stroke-width="1"/>
<line x1="564" y1="152.5" x2="564" y2="155.1" stroke="#000" stroke-width="1"/>
<line x1="591" y1="152.5" x2="591" y2="155.1" stroke="#000" stroke-width="1"/>
<line x1="618" y1="152.5" x2="618" y2="155.1" stroke="#000" stroke-width="1"/>
<line x1="645" y1="152.5" x2="645" y2="155.1" stroke="#000" stroke-width="1"/>
<line x1="672" y1="152.5" x2="672" y2="155.1" stroke="#000" stroke-width="1"/>
<text x="509.4" y="168" font-size="11" text-anchor="middle">250</text>
<text x="565.7" y="168" font-size="11" text-anchor="middle">350</text>
<text x="621.2" y="168" font-size="11" text-anchor="middle">450</text>
<text x="676.7" y="168" font-size="11" text-anchor="middle">550</text>
<line x1="510" y1="152.5" x2="507.4" y2="152.5" stroke="#000" stroke-width="1"/>
<text x="504.5" y="156.4" font-size="11" text-anchor="end">200</text>
<line x1="510" y1="97.9" x2="507.4" y2="97.9" stroke="#000" stroke-width="1"/>
<text x="504.5" y="101.8" font-size="11" text-anchor="end">300</text>
<line x1="510" y1="43.3" x2="507.4" y2="43.3" stroke="#000" stroke-width="1"/>
<text x="504.5" y="47.2" font-size="11" text-anchor="end">400</text>
<line x1="510" y1="125.2" x2="508.4" y2="125.2" stroke="#000" stroke-width="1"/>
<line x1="510" y1="70.6" x2="508.4" y2="70.6" stroke="#000" stroke-width="1"/>
<line x1="510" y1="29.7" x2="508.4" y2="29.7" stroke="#000" stroke-width="1"/>
<text x="568.5" y="181.6" font-size="12.4" textLength="49.9" lengthAdjust="spacingAndGlyphs">EM (nm)</text>
<text x="507.9" y="10.8" font-size="11.5" textLength="16.5" lengthAdjust="spacingAndGlyphs">(C)</text>
<text x="513" y="27.1" font-size="10" fill="#fff" textLength="23" lengthAdjust="spacingAndGlyphs">TBA</text>
<text x="566.9" y="87.5" font-size="10.5" fill="#fff">IV</text>
<text x="585" y="87.5" font-size="10.5" fill="#fff">V</text>
<text x="531.6" y="146.3" font-size="10.5" fill="#fff">I</text>
<text x="565" y="146.3" font-size="10.5" fill="#fff">II</text>
<text x="620.4" y="146.3" font-size="10.5" fill="#fff">III</text>
<path d="M33.3,340 51.92,290.91 70.54,265.83 107.78,223.41 145.02,214.87 182.26,211.54 219.5,208.07" fill="none" stroke="#0000ff" stroke-width="1.3" stroke-linejoin="round"/>
<rect x="31.1" y="337.8" width="4.4" height="4.4" fill="#0000ff"/>
<line x1="51.92" y1="286.64" x2="51.92" y2="295.18" stroke="#0000ff" stroke-width="0.8"/>
<line x1="50.32" y1="286.64" x2="53.52" y2="286.64" stroke="#0000ff" stroke-width="0.8"/>
<line x1="50.32" y1="295.18" x2="53.52" y2="295.18" stroke="#0000ff" stroke-width="0.8"/>
<rect x="49.72" y="288.71" width="4.4" height="4.4" fill="#0000ff"/>
<line x1="70.54" y1="262.89" x2="70.54" y2="268.76" stroke="#0000ff" stroke-width="0.8"/>
<line x1="68.94" y1="262.89" x2="72.14" y2="262.89" stroke="#0000ff" stroke-width="0.8"/>
<line x1="68.94" y1="268.76" x2="72.14" y2="268.76" stroke="#0000ff" stroke-width="0.8"/>
<rect x="68.34" y="263.63" width="4.4" height="4.4" fill="#0000ff"/>
<line x1="107.78" y1="219.94" x2="107.78" y2="226.88" stroke="#0000ff" stroke-width="0.8"/>
<line x1="106.18" y1="219.94" x2="109.38" y2="219.94" stroke="#0000ff" stroke-width="0.8"/>
<line x1="106.18" y1="226.88" x2="109.38" y2="226.88" stroke="#0000ff" stroke-width="0.8"/>
<rect x="105.58" y="221.21" width="4.4" height="4.4" fill="#0000ff"/>
<line x1="145.02" y1="210.87" x2="145.02" y2="218.87" stroke="#0000ff" stroke-width="0.8"/>
<line x1="143.42" y1="210.87" x2="146.62" y2="210.87" stroke="#0000ff" stroke-width="0.8"/>
<line x1="143.42" y1="218.87" x2="146.62" y2="218.87" stroke="#0000ff" stroke-width="0.8"/>
<rect x="142.82" y="212.67" width="4.4" height="4.4" fill="#0000ff"/>
<line x1="182.26" y1="208.87" x2="182.26" y2="214.2" stroke="#0000ff" stroke-width="0.8"/>
<line x1="180.66" y1="208.87" x2="183.86" y2="208.87" stroke="#0000ff" stroke-width="0.8"/>
<line x1="180.66" y1="214.2" x2="183.86" y2="214.2" stroke="#0000ff" stroke-width="0.8"/>
<rect x="180.06" y="209.34" width="4.4" height="4.4" fill="#0000ff"/>
<line x1="219.5" y1="204.6" x2="219.5" y2="211.54" stroke="#0000ff" stroke-width="0.8"/>
<line x1="217.9" y1="204.6" x2="221.1" y2="204.6" stroke="#0000ff" stroke-width="0.8"/>
<line x1="217.9" y1="211.54" x2="221.1" y2="211.54" stroke="#0000ff" stroke-width="0.8"/>
<rect x="217.3" y="205.87" width="4.4" height="4.4" fill="#0000ff"/>
<rect x="33.3" y="193.4" width="186.2" height="146.6" fill="none" stroke="#000" stroke-width="1.7"/>
<line x1="33.3" y1="340" x2="33.3" y2="337" stroke="#000" stroke-width="1.2"/>
<text x="33.3" y="353.6" font-size="10.8" text-anchor="middle">0</text>
<line x1="51.92" y1="340" x2="51.92" y2="338.2" stroke="#000" stroke-width="1.2"/>
<line x1="70.54" y1="340" x2="70.54" y2="337" stroke="#000" stroke-width="1.2"/>
<text x="70.54" y="353.6" font-size="10.8" text-anchor="middle">2</text>
<line x1="89.16" y1="340" x2="89.16" y2="338.2" stroke="#000" stroke-width="1.2"/>
<line x1="107.78" y1="340" x2="107.78" y2="337" stroke="#000" stroke-width="1.2"/>
<text x="107.78" y="353.6" font-size="10.8" text-anchor="middle">4</text>
<line x1="126.4" y1="340" x2="126.4" y2="338.2" stroke="#000" stroke-width="1.2"/>
<line x1="145.02" y1="340" x2="145.02" y2="337" stroke="#000" stroke-width="1.2"/>
<text x="145.02" y="353.6" font-size="10.8" text-anchor="middle">6</text>
<line x1="163.64" y1="340" x2="163.64" y2="338.2" stroke="#000" stroke-width="1.2"/>
<line x1="182.26" y1="340" x2="182.26" y2="337" stroke="#000" stroke-width="1.2"/>
<text x="182.26" y="353.6" font-size="10.8" text-anchor="middle">8</text>
<line x1="200.88" y1="340" x2="200.88" y2="338.2" stroke="#000" stroke-width="1.2"/>
<line x1="219.5" y1="340" x2="219.5" y2="337" stroke="#000" stroke-width="1.2"/>
<text x="219.5" y="353.6" font-size="10.8" text-anchor="middle">10</text>
<line x1="33.3" y1="340" x2="36.3" y2="340" stroke="#000" stroke-width="1.2"/>
<text x="30.6" y="343.9" font-size="11" text-anchor="end">0</text>
<line x1="33.3" y1="326.66" x2="35.1" y2="326.66" stroke="#000" stroke-width="1.2"/>
<line x1="33.3" y1="313.32" x2="36.3" y2="313.32" stroke="#000" stroke-width="1.2"/>
<text x="30.6" y="317.22" font-size="11" text-anchor="end">20</text>
<line x1="33.3" y1="299.98" x2="35.1" y2="299.98" stroke="#000" stroke-width="1.2"/>
<line x1="33.3" y1="286.64" x2="36.3" y2="286.64" stroke="#000" stroke-width="1.2"/>
<text x="30.6" y="290.54" font-size="11" text-anchor="end">40</text>
<line x1="33.3" y1="273.3" x2="35.1" y2="273.3" stroke="#000" stroke-width="1.2"/>
<line x1="33.3" y1="259.96" x2="36.3" y2="259.96" stroke="#000" stroke-width="1.2"/>
<text x="30.6" y="263.86" font-size="11" text-anchor="end">60</text>
<line x1="33.3" y1="246.62" x2="35.1" y2="246.62" stroke="#000" stroke-width="1.2"/>
<line x1="33.3" y1="233.28" x2="36.3" y2="233.28" stroke="#000" stroke-width="1.2"/>
<text x="30.6" y="237.18" font-size="11" text-anchor="end">80</text>
<line x1="33.3" y1="219.94" x2="35.1" y2="219.94" stroke="#000" stroke-width="1.2"/>
<line x1="33.3" y1="206.6" x2="36.3" y2="206.6" stroke="#000" stroke-width="1.2"/>
<text x="30.6" y="210.5" font-size="11" text-anchor="end">100</text>
<text x="93.8" y="366.6" font-size="12.7" textLength="62.4" lengthAdjust="spacingAndGlyphs">Time (min)</text>
<text x="9.5" y="268" font-size="12.7" text-anchor="middle" textLength="160.8" lengthAdjust="spacingAndGlyphs" transform="rotate(-90 9.5 268)">PS decomposition rate (%)</text>
<text x="31.1" y="189.8" font-size="11.5" textLength="16.1" lengthAdjust="spacingAndGlyphs">(D)</text>
<clipPath id="clipE"><rect x="269.4" y="192" width="167.4" height="149.2"/></clipPath>
<g clip-path="url(#clipE)">
<path d="M283.1,341 283.12,338.82 283.15,335.89 283.18,332.38 283.22,328.44 283.26,324.26 283.3,320 283.34,315.64 283.39,311.04 283.44,306.19 283.5,301.07 283.55,295.68 283.6,290 283.64,283.75 283.68,276.88 283.72,269.73 283.76,262.64 283.82,255.95 283.9,250 284,244.68 284.11,239.7 284.24,235.12 284.38,230.99 284.53,227.36 284.7,224.3 284.88,221.82 285.09,219.9 285.3,218.48 285.53,217.51 285.76,216.97 286,216.8 286.24,217.1 286.49,217.94 286.74,219.19 287,220.74 287.29,222.48 287.6,224.3 287.95,226.32 288.34,228.67 288.76,231.21 289.17,233.8 289.55,236.31 289.9,238.6 290.2,240.6 290.46,242.41 290.69,244.14 290.92,245.9 291.15,247.82 291.4,250 291.65,252.5 291.89,255.22 292.14,258.1 292.4,261.06 292.68,264.01 293,266.9 293.36,269.73 293.75,272.56 294.17,275.4 294.6,278.24 295.05,281.07 295.5,283.9 295.95,286.72 296.42,289.54 296.89,292.35 297.38,295.16 297.88,297.98 298.4,300.8 298.95,303.71 299.54,306.71 300.14,309.72 300.74,312.63 301.3,315.36 301.8,317.8 302.23,319.93 302.61,321.83 302.96,323.54 303.29,325.11 303.63,326.58 304,328 304.38,329.35 304.75,330.58 305.12,331.72 305.53,332.77 305.98,333.76 306.5,334.7 307.09,335.59 307.73,336.41 308.42,337.17 309.16,337.86 309.92,338.47 310.7,339 311.42,339.43 312.06,339.76 312.74,340.01 313.55,340.2 314.6,340.36 316,340.5 317.68,340.61 319.54,340.67 321.64,340.69 324.05,340.69 326.81,340.69 330,340.7 334.06,340.72 339.04,340.74 344.38,340.76 349.52,340.78 353.91,340.79 357,340.8" fill="none" stroke="#0a0aff" stroke-width="1.7" stroke-linejoin="round"/>
<path d="M282.4,341.3 282.44,338.96 282.49,335.7 282.55,331.85 282.62,327.73 282.71,323.68 282.8,320 282.9,317.04 283,314.61 283.12,312.24 283.25,309.46 283.41,305.8 283.6,300.8 283.83,293.71 284.11,284.75 284.41,274.91 284.72,265.19 285.02,256.55 285.3,250 285.55,245.85 285.78,243.39 286.01,242.02 286.23,241.16 286.46,240.21 286.7,238.6 286.96,236.3 287.22,233.79 287.49,231.2 287.77,228.66 288.04,226.32 288.3,224.3 288.55,222.5 288.79,220.77 289.02,219.24 289.26,218.01 289.52,217.2 289.8,216.9 290.11,217.2 290.43,218.01 290.77,219.24 291.13,220.77 291.5,222.5 291.9,224.3 292.34,226.32 292.81,228.66 293.31,231.2 293.8,233.79 294.27,236.3 294.7,238.6 295.08,240.6 295.42,242.41 295.74,244.14 296.05,245.9 296.36,247.82 296.7,250 297.05,252.5 297.39,255.22 297.74,258.1 298.11,261.06 298.49,264.01 298.9,266.9 299.33,269.73 299.78,272.56 300.24,275.4 300.73,278.24 301.25,281.07 301.8,283.9 302.4,286.82 303.06,289.85 303.74,292.88 304.43,295.79 305.09,298.47 305.7,300.8 306.24,302.74 306.74,304.38 307.21,305.79 307.68,307.03 308.17,308.18 308.7,309.3 309.26,310.38 309.83,311.34 310.42,312.22 311.04,313.01 311.69,313.73 312.4,314.4 313.14,314.98 313.9,315.46 314.7,315.86 315.56,316.23 316.48,316.6 317.5,317 318.6,317.41 319.76,317.81 320.99,318.2 322.31,318.6 323.71,319.03 325.2,319.5 326.61,319.98 327.89,320.47 329.26,320.98 330.92,321.54 333.1,322.17 336,322.9 339.73,323.74 344.16,324.67 349.09,325.67 354.36,326.73 359.78,327.81 365.2,328.9 370.68,330.05 376.37,331.3 382.23,332.57 388.19,333.8 394.2,334.94 400.2,335.9 406.66,336.7 413.7,337.4 420.79,337.99 427.39,338.48 432.98,338.88 437,339.2" fill="none" stroke="#f0393c" stroke-width="1.7" stroke-linejoin="round"/>
</g>
<rect x="269.4" y="192" width="167.4" height="149.2" fill="none" stroke="#000" stroke-width="1.7"/>
<line x1="269.4" y1="341.2" x2="272" y2="341.2" stroke="#000" stroke-width="1.2"/>
<text x="264.7" y="344.9" font-size="11" text-anchor="end">0.0</text>
<line x1="269.4" y1="328.77" x2="271" y2="328.77" stroke="#000" stroke-width="1.2"/>
<line x1="269.4" y1="316.34" x2="272" y2="316.34" stroke="#000" stroke-width="1.2"/>
<text x="264.7" y="320.04" font-size="11" text-anchor="end">0.2</text>
<line x1="269.4" y1="303.91" x2="271" y2="303.91" stroke="#000" stroke-width="1.2"/>
<line x1="269.4" y1="291.48" x2="272" y2="291.48" stroke="#000" stroke-width="1.2"/>
<text x="264.7" y="295.18" font-size="11" text-anchor="end">0.4</text>
<line x1="269.4" y1="279.05" x2="271" y2="279.05" stroke="#000" stroke-width="1.2"/>
<line x1="269.4" y1="266.62" x2="272" y2="266.62" stroke="#000" stroke-width="1.2"/>
<text x="264.7" y="270.32" font-size="11" text-anchor="end">0.6</text>
<line x1="269.4" y1="254.19" x2="271" y2="254.19" stroke="#000" stroke-width="1.2"/>
<line x1="269.4" y1="241.76" x2="272" y2="241.76" stroke="#000" stroke-width="1.2"/>
<text x="264.7" y="245.46" font-size="11" text-anchor="end">0.8</text>
<line x1="269.4" y1="229.33" x2="271" y2="229.33" stroke="#000" stroke-width="1.2"/>
<line x1="269.4" y1="216.9" x2="272" y2="216.9" stroke="#000" stroke-width="1.2"/>
<text x="264.7" y="220.6" font-size="11" text-anchor="end">1.0</text>
<line x1="269.4" y1="204.47" x2="271" y2="204.47" stroke="#000" stroke-width="1.2"/>
<line x1="269.4" y1="192.04" x2="272" y2="192.04" stroke="#000" stroke-width="1.2"/>
<text x="264.7" y="195.74" font-size="11" text-anchor="end">1.2</text>
<line x1="279.6" y1="341.2" x2="279.6" y2="343.8" stroke="#000" stroke-width="1.2"/>
<line x1="305.7" y1="341.2" x2="305.7" y2="342.8" stroke="#000" stroke-width="1.2"/>
<line x1="331.8" y1="341.2" x2="331.8" y2="343.8" stroke="#000" stroke-width="1.2"/>
<line x1="357.9" y1="341.2" x2="357.9" y2="342.8" stroke="#000" stroke-width="1.2"/>
<line x1="384" y1="341.2" x2="384" y2="343.8" stroke="#000" stroke-width="1.2"/>
<line x1="410.1" y1="341.2" x2="410.1" y2="342.8" stroke="#000" stroke-width="1.2"/>
<line x1="436.2" y1="341.2" x2="436.2" y2="343.8" stroke="#000" stroke-width="1.2"/>
<text x="279.6" y="355.7" font-size="11" text-anchor="middle">0</text>
<text x="333.5" y="355.7" font-size="11" text-anchor="middle">5000</text>
<text x="387.2" y="355.7" font-size="11" text-anchor="middle">10000</text>
<text x="440" y="355.7" font-size="11" text-anchor="middle">15000</text>
<text x="284.6" y="366.9" font-size="12.7" textLength="148.9" lengthAdjust="spacingAndGlyphs">Molecular weight (g/mol)</text>
<text x="242.6" y="266.4" font-size="12.6" text-anchor="middle" textLength="57.1" lengthAdjust="spacingAndGlyphs" transform="rotate(-90 242.6 266.4)">dw/dlogM</text>
<text x="268.3" y="188.6" font-size="11.5" textLength="15.6" lengthAdjust="spacingAndGlyphs">(E)</text>
<line x1="378.9" y1="201.6" x2="394.7" y2="201.6" stroke="#0a0aff" stroke-width="1.7"/>
<line x1="378.9" y1="211.5" x2="394.7" y2="211.5" stroke="#f0393c" stroke-width="1.7"/>
<text x="397.8" y="204.6" font-size="8.6" textLength="14.4" lengthAdjust="spacingAndGlyphs">WP</text>
<text x="397.8" y="214.3" font-size="8.6" textLength="35.4" lengthAdjust="spacingAndGlyphs">Product</text>
<clipPath id="clipF"><rect x="509.1" y="192" width="165.9" height="148.6"/></clipPath>
<g clip-path="url(#clipF)">
<path d="M509.7,240 509.84,239.2 510.02,238.06 510.24,236.72 510.48,235.33 510.74,234.05 511,233 511.27,232.13 511.57,231.31 511.88,230.59 512.19,230.02 512.5,229.64 512.8,229.5 513.08,229.65 513.34,230.06 513.61,230.66 513.88,231.39 514.17,232.19 514.5,233 514.84,233.62 515.19,234.06 515.55,234.57 515.96,235.4 516.44,236.79 517,239 517.68,242.19 518.46,246.19 519.31,250.76 520.19,255.65 521.06,260.61 521.9,265.4 522.71,270.15 523.51,275.1 524.31,280.12 525.1,285.09 525.9,289.89 526.7,294.4 527.5,298.75 528.3,303.07 529.1,307.21 529.9,311.06 530.7,314.46 531.5,317.3 532.24,319.45 532.92,321 533.59,322.11 534.34,322.95 535.22,323.69 536.3,324.5 537.52,325.31 538.81,325.97 540.24,326.53 541.87,327.03 543.77,327.54 546,328.1 548.55,328.7 551.37,329.3 554.45,329.89 557.8,330.49 561.42,331.09 565.3,331.7 569.6,332.33 574.34,332.99 579.34,333.66 584.44,334.3 589.45,334.89 594.2,335.4 598.63,335.83 602.87,336.2 607.03,336.52 611.2,336.8 615.49,337.06 620,337.3 624.81,337.52 629.87,337.72 635.05,337.89 640.21,338.04 645.24,338.17 650,338.3 654.75,338.42 659.63,338.52 664.38,338.61 668.7,338.69 672.34,338.75 675,338.8" fill="none" stroke="#505050" stroke-width="1.8" stroke-linejoin="round"/>
<path d="M509.7,268 509.83,266.26 510.01,263.78 510.22,260.88 510.47,257.89 510.73,255.15 511,253 511.29,251.45 511.61,250.23 511.96,249.26 512.31,248.46 512.66,247.73 513,247 513.33,246.24 513.67,245.53 514,244.89 514.33,244.36 514.67,243.99 515,243.8 515.34,243.85 515.69,244.12 516.03,244.54 516.37,245.04 516.7,245.55 517,246 517.27,246.19 517.51,246.13 517.74,246.08 517.97,246.3 518.22,247.06 518.5,248.6 518.81,250.97 519.13,253.97 519.47,257.51 519.84,261.47 520.24,265.77 520.7,270.3 521.22,275.42 521.8,281.27 522.41,287.45 523.05,293.57 523.68,299.22 524.3,304 524.89,307.9 525.46,311.24 526.02,314.11 526.61,316.61 527.23,318.84 527.9,320.9 528.62,322.72 529.36,324.2 530.14,325.41 530.96,326.41 531.81,327.29 532.7,328.1 533.66,328.82 534.69,329.39 535.75,329.82 536.81,330.14 537.84,330.36 538.8,330.5 539.66,330.53 540.45,330.43 541.21,330.23 541.96,329.96 542.75,329.64 543.6,329.3 544.53,328.83 545.51,328.2 546.52,327.52 547.56,326.91 548.59,326.5 549.6,326.4 550.58,326.67 551.55,327.22 552.52,327.96 553.5,328.81 554.52,329.69 555.6,330.5 556.71,331.3 557.85,332.17 559.02,333.06 560.25,333.92 561.54,334.72 562.9,335.4 564.16,335.95 565.27,336.41 566.44,336.8 567.89,337.14 569.84,337.47 572.5,337.8 575.5,338.13 578.58,338.45 582.16,338.75 586.65,339.03 592.46,339.28 600,339.5 610.62,339.69 624.26,339.86 639.22,340.01 653.8,340.13 666.29,340.22 675,340.3" fill="none" stroke="#34aa5c" stroke-width="1.8" stroke-linejoin="round"/>
<path d="M509.7,258 509.84,256.36 510.03,254 510.26,251.25 510.5,248.44 510.76,245.92 511,244 511.24,242.66 511.49,241.63 511.74,240.88 511.99,240.37 512.25,240.09 512.5,240 512.75,240.3 513,241.04 513.25,242 513.5,242.96 513.75,243.7 514,244 514.25,243.73 514.5,243.04 514.75,242.12 515,241.19 515.25,240.41 515.5,240 515.75,239.92 516,240 516.25,240.25 516.5,240.67 516.75,241.25 517,242 517.23,242.87 517.43,243.86 517.63,245.01 517.86,246.38 518.14,248.02 518.5,250 518.94,252.23 519.44,254.65 519.99,257.34 520.59,260.4 521.23,263.89 521.9,267.9 522.62,272.74 523.4,278.41 524.21,284.51 525.05,290.67 525.88,296.49 526.7,301.6 527.5,306.08 528.3,310.26 529.1,314.11 529.9,317.59 530.7,320.66 531.5,323.3 532.27,325.41 533.01,327 533.74,328.19 534.51,329.09 535.36,329.82 536.3,330.5 537.35,331.06 538.46,331.39 539.65,331.55 540.9,331.6 542.22,331.6 543.6,331.6 545.07,331.53 546.63,331.32 548.25,331.06 549.91,330.83 551.57,330.71 553.2,330.8 554.76,331.13 556.25,331.64 557.75,332.26 559.31,332.94 561.01,333.61 562.9,334.2 564.93,334.74 567.04,335.29 569.29,335.82 571.71,336.33 574.37,336.8 577.3,337.2 580.4,337.53 583.61,337.81 587.05,338.04 590.84,338.24 595.12,338.43 600,338.6 605.72,338.76 612.24,338.9 619.23,339.02 626.4,339.12 633.42,339.21 640,339.3 646.53,339.38 653.33,339.44 660,339.49 666.11,339.54 671.25,339.57 675,339.6" fill="none" stroke="#1565dc" stroke-width="1.8" stroke-linejoin="round"/>
<path d="M509.7,236 509.84,234.99 510.03,233.56 510.26,231.88 510.5,230.11 510.76,228.43 511,227 511.24,225.71 511.49,224.41 511.74,223.19 511.99,222.15 512.25,221.39 512.5,221 512.75,221.17 513,221.85 513.25,222.81 513.5,223.81 513.75,224.62 514,225 514.25,224.82 514.5,224.26 514.75,223.5 515,222.74 515.25,222.18 515.5,222 515.75,222.37 516,223.15 516.25,224.12 516.5,225.07 516.75,225.77 517,226 517.25,225.59 517.5,224.7 517.75,223.56 518,222.41 518.25,221.47 518.5,221 518.73,220.87 518.94,220.88 519.16,221.11 519.39,221.64 519.66,222.58 520,224 520.41,225.92 520.86,228.27 521.36,231.03 521.89,234.14 522.44,237.57 523,241.3 523.58,245.54 524.19,250.37 524.81,255.52 525.45,260.74 526.08,265.75 526.7,270.3 527.31,274.44 527.91,278.39 528.51,282.14 529.1,285.67 529.7,288.96 530.3,292 530.88,294.8 531.45,297.39 532.02,299.73 532.6,301.83 533.22,303.65 533.9,305.2 534.64,306.4 535.44,307.25 536.27,307.84 537.13,308.24 537.97,308.53 538.8,308.8 539.57,309.02 540.3,309.11 541.02,309.09 541.79,308.99 542.63,308.82 543.6,308.6 544.73,308.24 545.99,307.71 547.33,307.11 548.7,306.54 550.04,306.1 551.3,305.9 552.44,305.9 553.5,306.03 554.52,306.28 555.58,306.69 556.72,307.25 558,308 559.44,309.03 561.01,310.34 562.67,311.82 564.36,313.34 566.05,314.78 567.7,316 569.3,317 570.9,317.87 572.5,318.65 574.1,319.39 575.7,320.12 577.3,320.9 578.93,321.72 580.59,322.55 582.25,323.38 583.89,324.19 585.48,324.97 587,325.7 588.35,326.36 589.53,326.97 590.67,327.54 591.88,328.1 593.28,328.68 595,329.3 597.04,329.98 599.3,330.71 601.75,331.45 604.37,332.18 607.13,332.87 610,333.5 612.99,334.07 616.11,334.59 619.38,335.08 622.78,335.53 626.32,335.94 630,336.3 633.94,336.61 638.15,336.87 642.5,337.09 646.85,337.28 651.06,337.45 655,337.6 658.85,337.74 662.78,337.84 666.56,337.93 670,338 672.88,338.05 675,338.1" fill="none" stroke="#ee3b3f" stroke-width="1.8" stroke-linejoin="round"/>
</g>
<rect x="509.1" y="192" width="165.9" height="148.6" fill="none" stroke="#000" stroke-width="1.7"/>
<line x1="509.1" y1="340.5" x2="511.7" y2="340.5" stroke="#000" stroke-width="1.2"/>
<text x="504" y="345.2" font-size="11" text-anchor="end">0</text>
<line x1="509.1" y1="325.65" x2="510.7" y2="325.65" stroke="#000" stroke-width="1.2"/>
<line x1="509.1" y1="310.8" x2="511.7" y2="310.8" stroke="#000" stroke-width="1.2"/>
<text x="504" y="315.5" font-size="11" text-anchor="end">1</text>
<line x1="509.1" y1="295.95" x2="510.7" y2="295.95" stroke="#000" stroke-width="1.2"/>
<line x1="509.1" y1="281.1" x2="511.7" y2="281.1" stroke="#000" stroke-width="1.2"/>
<text x="504" y="285.8" font-size="11" text-anchor="end">2</text>
<line x1="509.1" y1="266.25" x2="510.7" y2="266.25" stroke="#000" stroke-width="1.2"/>
<line x1="509.1" y1="251.4" x2="511.7" y2="251.4" stroke="#000" stroke-width="1.2"/>
<text x="504" y="256.1" font-size="11" text-anchor="end">3</text>
<line x1="509.1" y1="236.55" x2="510.7" y2="236.55" stroke="#000" stroke-width="1.2"/>
<line x1="509.1" y1="221.7" x2="511.7" y2="221.7" stroke="#000" stroke-width="1.2"/>
<text x="504" y="226.4" font-size="11" text-anchor="end">4</text>
<line x1="509.1" y1="206.85" x2="510.7" y2="206.85" stroke="#000" stroke-width="1.2"/>
<line x1="509.1" y1="192" x2="511.7" y2="192" stroke="#000" stroke-width="1.2"/>
<text x="504" y="196.7" font-size="11" text-anchor="end">5</text>
<line x1="515" y1="340.6" x2="515" y2="338" stroke="#000" stroke-width="1.2"/>
<line x1="541.66" y1="340.6" x2="541.66" y2="339" stroke="#000" stroke-width="1.2"/>
<line x1="568.33" y1="340.6" x2="568.33" y2="338" stroke="#000" stroke-width="1.2"/>
<line x1="595" y1="340.6" x2="595" y2="339" stroke="#000" stroke-width="1.2"/>
<line x1="621.66" y1="340.6" x2="621.66" y2="338" stroke="#000" stroke-width="1.2"/>
<line x1="648.33" y1="340.6" x2="648.33" y2="339" stroke="#000" stroke-width="1.2"/>
<line x1="674.99" y1="340.6" x2="674.99" y2="338" stroke="#000" stroke-width="1.2"/>
<text x="514.7" y="353" font-size="11" text-anchor="middle">200</text>
<text x="568.3" y="353" font-size="11" text-anchor="middle">300</text>
<text x="622" y="353" font-size="11" text-anchor="middle">400</text>
<text x="675.6" y="353" font-size="11" text-anchor="middle">500</text>
<text x="547.3" y="365.9" font-size="12.7" textLength="101.1" lengthAdjust="spacingAndGlyphs">Wavelength (nm)</text>
<text x="481.6" y="268.65" font-size="13" text-anchor="middle" textLength="142.1" lengthAdjust="spacingAndGlyphs" transform="rotate(-90 481.6 268.65)">Absorbance (arb. units)</text>
<text x="508.75" y="188.6" font-size="11.5" textLength="15.3" lengthAdjust="spacingAndGlyphs">(F)</text>
<line x1="515" y1="197.9" x2="527.9" y2="197.9" stroke="#1565dc" stroke-width="1.5"/>
<text x="529.4" y="201.9" font-size="9.5" textLength="143.1" lengthAdjust="spacingAndGlyphs">2%KOH/2%PS/EtOH/MW 10 min</text>
<line x1="515" y1="207.9" x2="527.9" y2="207.9" stroke="#34aa5c" stroke-width="1.5"/>
<text x="529.4" y="211.8" font-size="9.5" textLength="138.9" lengthAdjust="spacingAndGlyphs">2%KOH/2%PS/TBA/MW 10 min</text>
<line x1="516.2" y1="219.3" x2="528.6" y2="219.3" stroke="#ee3b3f" stroke-width="1.5"/>
<text x="531.1" y="223.5" font-size="9.5" textLength="115.4" lengthAdjust="spacingAndGlyphs">2%KOH/2%PS/MW 10 min</text>
<line x1="525.4" y1="230.4" x2="536.8" y2="230.4" stroke="#505050" stroke-width="1.5"/>
<text x="540.3" y="235.2" font-size="9.5" textLength="14.4" lengthAdjust="spacingAndGlyphs">WP</text>
<clipPath id="clipG"><rect x="32" y="382" width="187.9" height="150.8"/></clipPath>
<line x1="71.5" y1="405" x2="71.5" y2="532.8" stroke="#ff3333" stroke-width="1.25" stroke-dasharray="3,1.6"/>
<line x1="91" y1="405" x2="91" y2="532.8" stroke="#ff3333" stroke-width="1.25" stroke-dasharray="3,1.6"/>
<line x1="160.6" y1="394" x2="160.6" y2="532.8" stroke="#ff3333" stroke-width="1.25" stroke-dasharray="3,1.6"/>
<line x1="165.4" y1="404" x2="165.4" y2="532.8" stroke="#ff3333" stroke-width="1.25" stroke-dasharray="3,1.6"/>
<line x1="197" y1="404" x2="197" y2="532.8" stroke="#ff3333" stroke-width="1.25" stroke-dasharray="3,1.6"/>
<line x1="215.4" y1="394" x2="215.4" y2="532.8" stroke="#ff3333" stroke-width="1.25" stroke-dasharray="3,1.6"/>
<g clip-path="url(#clipG)">
<path d="M32.9,397.2 35.23,397.21 38.61,397.22 42.16,397.24 45,397.3 46.84,397.3 48.17,397.26 49.26,397.37 50.4,397.8 51.62,398.63 52.77,399.76 53.9,401.09 55,402.5 56.09,404.02 57.15,405.69 58.19,407.44 59.2,409.2 60.19,411.02 61.14,412.91 62.08,414.77 63,416.5 63.88,418.12 64.71,419.67 65.57,421.08 66.5,422.3 67.56,423.36 68.69,424.27 69.84,424.95 70.9,425.3 71.85,425.24 72.74,424.84 73.61,424.22 74.5,423.5 75.39,422.66 76.28,421.64 77.2,420.54 78.2,419.4 79.33,418.21 80.54,416.93 81.78,415.67 83,414.5 84.22,413.3 85.47,412.07 86.65,411.1 87.7,410.7 88.56,411.26 89.29,412.53 89.95,413.78 90.6,414.3 91.23,413.73 91.81,412.51 92.39,411.11 93,410 93.62,409.3 94.23,408.78 94.91,408.31 95.7,408.27 96.61,407.48 97.62,406.12 98.74,406.07 100,405.72 101.47,404.66 103.12,404.41 104.81,403.77 106.4,403.2 107.8,402.67 109.11,402.47 110.46,402.34 112,401.16 113.74,401.4 115.61,400.64 117.63,400.26 119.8,399.3 122.22,399.41 124.85,399.6 127.51,398.45 130,397.91 132.24,397.79 134.35,398.33 136.43,398.91 138.6,398.29 140.93,398.27 143.34,397.48 145.73,397.7 148,396.91 150.24,397 152.47,396.48 154.46,396.21 156,396.35 156.92,396.09 157.36,396.71 157.6,396.42 157.9,396.74 158.29,396.85 158.66,397.88 158.99,397.84 159.3,399.23 159.58,400.22 159.83,401.71 160.07,403.54 160.3,404.72 160.51,405.73 160.69,406.21 160.9,406.74 161.2,407 161.62,406.49 162.12,405.9 162.66,405.62 163.2,405.81 163.74,408.34 164.29,411.58 164.85,414.32 165.4,416.54 165.91,415.27 166.39,412.77 166.91,410.07 167.5,407.92 168.22,406.04 169.03,404.83 169.85,402.77 170.6,402.27 171.24,402.36 171.82,403.88 172.39,404.3 173,405.87 173.64,407.24 174.29,408.87 174.99,410.15 175.8,410.42 176.76,410.37 177.83,408.95 178.93,408.23 180,405.47 181.04,404.96 182.07,403.05 183.08,401.85 184,401.69 184.86,400.62 185.66,398.45 186.38,398.29 187,397.88 187.49,396.79 187.88,397.27 188.2,397.63 188.5,398.58 188.77,399.75 188.99,403.53 189.21,406.47 189.5,409.98 189.86,414.63 190.26,421.1 190.7,426.3 191.2,428.23 191.76,426.44 192.37,421.69 193.02,415.49 193.7,413.54 194.45,414.36 195.26,418.64 196.04,423.13 196.7,424.65 197.2,423 197.6,419.55 197.95,415.82 198.3,412.25 198.61,408.93 198.87,406.64 199.19,404.01 199.7,403.14 200.44,400.78 201.35,400.16 202.36,399.67 203.4,399.25 204.5,399.14 205.68,399.05 206.87,398.38 208,398.8 209.06,398.73 210.08,399.95 211.06,400.69 212,400.48 212.9,400.09 213.76,400.18 214.57,399.67 215.3,399.98 215.94,399.18 216.51,398.22 217.03,397.58 217.5,398.28 217.94,400.5 218.32,402.81 218.68,406.09 219,408.77 219.31,409.34 219.59,410.46 219.83,410.39 220,409.9" fill="none" stroke="#000" stroke-width="1.6" stroke-linejoin="round"/>
<path d="M32.9,432.6 35.26,432.63 38.7,432.66 42.26,432.72 45,432.8 46.55,432.83 47.44,432.83 48.12,432.96 49,433.4 50.18,434.19 51.44,435.24 52.73,436.52 54,438 55.27,439.77 56.56,441.82 57.82,443.96 59,446 60.08,447.95 61.09,449.88 62.06,451.74 63,453.5 63.89,455.13 64.74,456.65 65.59,458.1 66.5,459.5 67.51,461.01 68.58,462.56 69.66,463.85 70.7,464.6 71.68,464.64 72.63,464.15 73.57,463.36 74.5,462.5 75.41,461.59 76.29,460.52 77.2,459.32 78.2,458 79.33,456.48 80.54,454.79 81.78,453.07 83,451.5 84.22,449.89 85.47,448.23 86.65,446.93 87.7,446.4 88.54,447.21 89.23,448.97 89.88,450.73 90.6,451.5 91.33,450.85 92.04,449.36 92.89,447.57 94,446 95.45,445.34 97.15,443.38 99.02,442.15 101,440.37 103.09,440.43 105.33,439.58 107.65,438.86 110,438.61 112.38,438.21 114.82,437.36 117.3,437.15 119.8,437.03 122.36,437.19 124.97,436.92 127.55,436.06 130,435.91 132.24,436.34 134.35,436.42 136.43,435.64 138.6,435.16 140.93,435.5 143.34,434.7 145.73,434.75 148,434.74 150.24,434.13 152.47,433.63 154.46,433.61 156,432.98 156.91,433.07 157.35,432.93 157.59,433.17 157.9,433.33 158.34,433.85 158.77,434.32 159.16,435.18 159.5,436.02 159.75,437.26 159.92,439.05 160.09,439.4 160.3,441.45 160.55,441.56 160.83,441.6 161.13,442.22 161.5,442.53 161.95,442.97 162.46,442.18 162.99,442.68 163.5,443.04 163.98,443.53 164.44,445.32 164.91,447.37 165.4,447.94 165.89,447.38 166.38,445.67 166.9,443.79 167.5,442.04 168.22,440.82 169.03,438.37 169.85,437.2 170.6,436.73 171.24,436.46 171.82,438.64 172.39,439.39 173,440.97 173.64,443.08 174.29,443.52 174.99,444.82 175.8,446.05 176.76,444.62 177.83,443.63 178.93,442.48 180,441.16 181.04,440.14 182.07,439.02 183.08,438.37 184,437.36 184.86,436.36 185.66,435.12 186.38,434.46 187,433.63 187.48,434.26 187.84,433.22 188.16,434.4 188.5,435.65 188.88,436.56 189.27,439.4 189.65,442.36 190,445.29 190.31,446.71 190.58,448.8 190.86,450.2 191.2,451.41 191.61,452.42 192.08,451.57 192.56,451.79 193,452.1 193.38,452.97 193.72,453.1 194.08,455.04 194.5,456.15 195.02,458.45 195.6,460.91 196.18,462.57 196.7,463.57 197.12,462.52 197.49,459.15 197.84,455.41 198.2,452.63 198.52,449.57 198.81,445.44 199.17,443.05 199.7,439.3 200.45,437.84 201.36,438.08 202.36,437.27 203.4,437.2 204.5,436.86 205.68,436.5 206.87,436.73 208,436.55 209.06,436.04 210.08,436.82 211.06,436.98 212,437.64 212.9,436.58 213.76,436.91 214.57,436.62 215.3,436.55 215.94,436.82 216.51,435.88 217.03,435.24 217.5,435.55 217.94,436.56 218.32,437.21 218.68,438.83 219,440.54 219.31,441.02 219.59,441.27 219.83,441.53 220,441.95" fill="none" stroke="#000" stroke-width="1.6" stroke-linejoin="round"/>
<path d="M32.9,468.9 35.23,468.91 38.61,468.91 42.16,468.94 45,469 46.84,469.03 48.17,469.03 49.26,469.17 50.4,469.6 51.62,470.37 52.77,471.4 53.9,472.63 55,474 56.09,475.57 57.15,477.34 58.19,479.19 59.2,481 60.19,482.77 61.14,484.56 62.08,486.32 63,488 63.86,489.58 64.67,491.1 65.52,492.57 66.5,494 67.7,495.56 69.06,497.19 70.41,498.58 71.6,499.4 72.57,499.48 73.42,499.01 74.2,498.26 75,497.5 75.78,496.76 76.51,495.91 77.29,494.98 78.2,494 79.29,492.93 80.51,491.78 81.77,490.61 83,489.5 84.22,488.28 85.46,486.99 86.64,485.95 87.7,485.5 88.61,486.07 89.41,487.36 90.13,488.65 90.8,489.2 91.4,488.69 91.92,487.56 92.44,486.19 93,485 93.57,484.05 94.14,483.15 94.81,482.27 95.7,481.57 96.78,480.3 98.01,479.77 99.49,478.24 101.3,478.26 103.52,476.61 106.07,476.3 108.87,475.42 111.8,474.42 114.9,475 118.21,473.13 121.61,472.9 125,472.58 128.47,471.32 132.04,471.84 135.49,470.99 138.6,471.05 141.28,470.05 143.65,469.7 145.85,470.2 148,469.68 150.25,469.27 152.49,469.17 154.49,468.91 156,468.2 156.84,467.7 157.17,467.78 157.29,467.85 157.5,468.22 157.84,469.73 158.17,471.06 158.49,472.9 158.8,475.08 159.08,477.77 159.33,481.38 159.59,484.95 159.9,487.15 160.26,488.59 160.64,489.42 161.06,489.41 161.5,489.8 161.97,490.35 162.47,491.11 162.99,491.18 163.5,491.88 164,493.91 164.5,497 165,500.31 165.5,499.2 165.99,498.78 166.46,495.31 166.96,491.63 167.5,487.6 168.12,485.98 168.81,482.89 169.49,480.31 170.1,479.06 170.61,478.58 171.07,479.56 171.51,480.68 172,482.33 172.55,483.72 173.13,485.57 173.72,487.65 174.3,488.59 174.86,488.3 175.41,486.73 175.96,486.38 176.5,484.59 177.05,483.84 177.6,483.35 178.13,482.92 178.6,482.89 179.01,481.9 179.36,483.43 179.69,484.05 180,483.84 180.25,484.59 180.46,485.27 180.71,485.84 181.1,485.53 181.71,484.49 182.48,483.49 183.28,481.84 184,480.64 184.61,477.81 185.18,475.39 185.7,474.35 186.2,472.94 186.67,472.73 187.12,472.48 187.53,472.65 187.9,473.76 188.21,475.72 188.46,477.49 188.71,479.31 189,482.31 189.34,484.27 189.69,487.77 190.08,490.89 190.5,492.12 190.98,492.35 191.5,491.84 192.02,490.61 192.5,489.91 192.91,489.95 193.28,490.25 193.63,491.03 194,493.06 194.39,492.81 194.77,494.89 195.18,495.11 195.6,495.68 196.04,494.08 196.51,491.25 196.99,487.82 197.5,484.52 198,482.06 198.51,477.61 199.08,474.25 199.8,472.83 200.71,471.76 201.78,471.12 202.9,471.28 204,471.27 205.11,471.54 206.24,471.22 207.34,470.88 208.3,471.23 209.09,471.76 209.77,471.35 210.38,471.85 211,472.54 211.65,473.33 212.29,473.01 212.88,473.32 213.4,474.68 213.8,475 214.12,476.97 214.4,479.24 214.7,480.28 215.02,479.96 215.33,478.09 215.65,478.2 216,477.23 216.38,476.21 216.79,475.58 217.21,475.07 217.6,474.02 217.97,473.35 218.34,472.89 218.68,473.52 219,473.25 219.3,473.37 219.59,473.32 219.83,473.98 220,474.26" fill="none" stroke="#000" stroke-width="1.6" stroke-linejoin="round"/>
<path d="M32.9,504.2 35.23,504.21 38.61,504.22 42.16,504.24 45,504.3 46.84,504.32 48.17,504.33 49.26,504.44 50.4,504.8 51.62,505.46 52.77,506.34 53.9,507.37 55,508.5 56.09,509.77 57.15,511.2 58.19,512.65 59.2,514 60.19,515.23 61.14,516.41 62.08,517.5 63,518.5 63.88,519.39 64.73,520.18 65.58,520.88 66.5,521.5 67.51,522.11 68.58,522.67 69.66,523.08 70.7,523.2 71.68,522.95 72.63,522.43 73.57,521.73 74.5,521 75.41,520.22 76.29,519.33 77.2,518.41 78.2,517.5 79.34,516.61 80.59,515.7 81.84,514.82 83,514 84.04,513.13 85.01,512.24 85.95,511.55 86.9,511.3 87.91,511.81 88.96,512.86 89.94,513.91 90.8,514.4 91.41,514.09 91.84,513.31 92.3,512.35 93,511.5 93.98,510.8 95.14,509.86 96.46,509.71 97.9,508.78 99.45,508.34 101.13,508.05 102.97,507.2 105,506.97 107.3,506.36 109.82,506.19 112.43,504.96 115,504.72 117.42,504.26 119.77,504.64 122.25,504.12 125,504.32 128.2,503.93 131.71,503.7 135.27,504.27 138.6,503.61 141.66,503.27 144.59,502.83 147.37,503.52 150,503.43 152.57,502.68 155.05,502.96 157.26,503.24 159,503.13 160.1,504.9 160.71,507.34 161.11,508.03 161.6,509.77 162.22,510.18 162.84,508.55 163.43,507.61 164,507.08 164.46,506.69 164.84,506.23 165.3,505.21 166,505.23 167.04,505.38 168.31,505.17 169.68,505.72 171,505.39 172.27,505.75 173.56,507.07 174.82,506.97 176,507.16 177.07,507.96 178.06,508.34 179.02,508.99 180,508.96 181,508.35 182.01,507.72 183.01,506.95 184,506.97 185.05,506.58 186.13,505.18 187.12,504.87 187.9,504.63 188.36,504.57 188.6,505.13 188.76,505.93 189,506.33 189.32,507.86 189.66,509.63 190.05,511.15 190.5,511.93 191.03,512.72 191.61,513.74 192.27,514.89 193,514.68 193.89,516.07 194.89,517.86 195.88,519.57 196.7,519.5 197.28,519.04 197.7,516.77 198.07,515.05 198.5,512.89 198.95,511.37 199.39,510.4 199.91,508.46 200.6,507.63 201.52,507.54 202.62,507.21 203.8,506.81 205,505.73 206.21,506.45 207.46,506.03 208.74,505.55 210,504.82 211.25,505.72 212.5,506.06 213.75,505.66 215,505.97 216.37,505.25 217.81,505.51 219.1,505.19 220,505.01" fill="none" stroke="#000" stroke-width="1.6" stroke-linejoin="round"/>
</g>
<rect x="32" y="382" width="187.9" height="150.8" fill="none" stroke="#000" stroke-width="1.7"/>
<line x1="32.1" y1="532.8" x2="32.1" y2="530.2" stroke="#000" stroke-width="1.2"/>
<line x1="59.6" y1="532.8" x2="59.6" y2="531.2" stroke="#000" stroke-width="1.2"/>
<line x1="87.1" y1="532.8" x2="87.1" y2="530.2" stroke="#000" stroke-width="1.2"/>
<line x1="114.6" y1="532.8" x2="114.6" y2="531.2" stroke="#000" stroke-width="1.2"/>
<line x1="142.1" y1="532.8" x2="142.1" y2="530.2" stroke="#000" stroke-width="1.2"/>
<line x1="169.6" y1="532.8" x2="169.6" y2="531.2" stroke="#000" stroke-width="1.2"/>
<line x1="197.1" y1="532.8" x2="197.1" y2="530.2" stroke="#000" stroke-width="1.2"/>
<text x="32.7" y="545" font-size="11" text-anchor="middle">4000</text>
<text x="88.2" y="545" font-size="11" text-anchor="middle">3000</text>
<text x="143.2" y="545" font-size="11" text-anchor="middle">2000</text>
<text x="198.2" y="545" font-size="11" text-anchor="middle">1000</text>
<g transform="translate(59.7 556.6)">
<text x="0" y="0" font-size="12.6" textLength="105.16" lengthAdjust="spacingAndGlyphs">Wavenumber (cm</text>
<text x="105.46" y="-5.29" font-size="8.19">-1</text>
<text x="112.88" y="0" font-size="12.6">)</text>
</g>
<text x="11.8" y="456" font-size="12.6" text-anchor="middle" textLength="108.4" lengthAdjust="spacingAndGlyphs" transform="rotate(-90 11.8 456)">Transmittance (%)</text>
<text x="31.8" y="378.7" font-size="11.8" textLength="17.5" lengthAdjust="spacingAndGlyphs">(G)</text>
<text x="34.4" y="393.9" font-size="9" textLength="28.9" lengthAdjust="spacingAndGlyphs">10 min</text>
<text x="33.6" y="428.2" font-size="9" textLength="24.1" lengthAdjust="spacingAndGlyphs">6 min</text>
<text x="33.4" y="465.1" font-size="9" textLength="24.6" lengthAdjust="spacingAndGlyphs">2 min</text>
<text x="34.2" y="499.1" font-size="9" textLength="24.7" lengthAdjust="spacingAndGlyphs">0 min</text>
<text x="65.5" y="391.8" font-size="9.2" fill="#0f0fff" textLength="13.8" lengthAdjust="spacingAndGlyphs">OH</text>
<text x="83.3" y="391.8" font-size="9.2" fill="#0f0fff" textLength="42.3" lengthAdjust="spacingAndGlyphs">Alkyl C-H</text>
<text x="144.6" y="390.7" font-size="9.2" fill="#0f0fff" textLength="31.2" lengthAdjust="spacingAndGlyphs">Ar C=C</text>
<text x="188.2" y="390.7" font-size="9.2" fill="#0f0fff" textLength="30.1" lengthAdjust="spacingAndGlyphs">Ar C-O</text>
<text x="105.1" y="452" font-size="9.2" fill="#0f0fff" textLength="40.2" lengthAdjust="spacingAndGlyphs">Carboxyl</text>
<text x="117.1" y="463.5" font-size="9.2" fill="#0f0fff" textLength="17.5" lengthAdjust="spacingAndGlyphs">C-O</text>
<text x="188.8" y="470.2" font-size="9.2" fill="#0f0fff" textLength="15.8" lengthAdjust="spacingAndGlyphs">N-H</text>
<line x1="71.7" y1="392.9" x2="71.7" y2="399.9" stroke="#0f0fff" stroke-width="1.7"/>
<path d="M69.3,397.6L74.1,397.6L71.7,404.9Z" fill="#0f0fff"/>
<line x1="91" y1="392.9" x2="91" y2="399.9" stroke="#0f0fff" stroke-width="1.7"/>
<path d="M88.6,397.6L93.4,397.6L91,404.9Z" fill="#0f0fff"/>
<line x1="165.4" y1="392.7" x2="165.4" y2="398.8" stroke="#0f0fff" stroke-width="1.7"/>
<path d="M163,396.5L167.8,396.5L165.4,403.8Z" fill="#0f0fff"/>
<line x1="197.1" y1="392.7" x2="197.1" y2="398.8" stroke="#0f0fff" stroke-width="1.7"/>
<path d="M194.7,396.5L199.5,396.5L197.1,403.8Z" fill="#0f0fff"/>
<line x1="148" y1="456" x2="155" y2="456" stroke="#0f0fff" stroke-width="1.5"/>
<path d="M153.5,453.8L153.5,458.2L160,456Z" fill="#0f0fff"/>
<line x1="204.9" y1="467.2" x2="211.8" y2="467.2" stroke="#0f0fff" stroke-width="1.5"/>
<path d="M210.3,465L210.3,469.4L216.8,467.2Z" fill="#0f0fff"/>
<clipPath id="clipH"><rect x="270" y="382.2" width="166.8" height="149.3"/></clipPath>
<g clip-path="url(#clipH)"><g filter="url(#blur2)"><path d="M267 512.84H290.85V534.5H267zM351.16 379.2H359.79V388.62H351.16zM429.63 451.13H439.8V458.85H429.63z" fill="#ffe2e2"/>
<path d="M267 497.46H290.85V512.84H267zM290.85 512.84H308.03V534.5H290.85zM290.85 451.13H308.03V458.85H290.85zM290.85 443.41H308.03V451.13H290.85zM290.85 431.47H308.03V443.41H290.85zM290.85 379.2H308.03V388.62H290.85zM351.16 497.46H359.79V512.84H351.16zM359.79 497.46H368.41V512.84H359.79zM368.41 497.46H381.76V512.84H368.41zM429.63 497.46H439.8V512.84H429.63z" fill="#ababff"/>
<path d="M267 489.74H290.85V497.46H267zM308.03 512.84H316.66V534.5H308.03zM342.53 397.58H351.16V406.54H342.53zM409.61 458.85H419.62V466.58H409.61z" fill="#ffc8c8"/>
<path d="M267 482.02H290.85V489.74H267zM316.66 512.84H325.28V534.5H316.66zM333.91 451.13H342.53V458.85H333.91zM351.16 466.58H359.79V474.3H351.16z" fill="#ffcccc"/>
<path d="M267 474.3H290.85V482.02H267zM308.03 379.2H316.66V388.62H308.03zM325.28 512.84H333.91V534.5H325.28zM429.63 489.74H439.8V497.46H429.63z" fill="#ffd0d0"/>
<path d="M267 466.58H290.85V474.3H267zM333.91 512.84H342.53V534.5H333.91zM359.79 397.58H368.41V406.54H359.79zM409.61 443.41H419.62V451.13H409.61z" fill="#ffd4d4"/>
<path d="M267 458.85H290.85V466.58H267zM342.53 512.84H351.16V534.5H342.53z" fill="#ffd9d9"/>
<path d="M267 451.13H290.85V458.85H267zM351.16 512.84H359.79V534.5H351.16z" fill="#ffdddd"/>
<path d="M267 443.41H290.85V451.13H267zM359.79 512.84H368.41V534.5H359.79z" fill="#ffe1e1"/>
<path d="M267 431.47H290.85V443.41H267zM368.41 512.84H381.76V534.5H368.41z" fill="#fff3f3"/>
<path d="M267 428.18H290.85V431.47H267zM351.16 428.18H359.79V431.47H351.16zM359.79 428.18H368.41V431.47H359.79zM368.41 428.18H381.76V431.47H368.41zM381.76 512.84H385.43V534.5H381.76zM381.76 451.13H385.43V458.85H381.76zM381.76 443.41H385.43V451.13H381.76zM381.76 431.47H385.43V443.41H381.76zM381.76 379.2H385.43V388.62H381.76zM429.63 428.18H439.8V431.47H429.63z" fill="#a6a6ff"/>
<path d="M267 406.54H290.85V428.18H267zM308.03 466.58H316.66V474.3H308.03zM333.91 489.74H342.53V497.46H333.91zM385.43 512.84H409.61V534.5H385.43z" fill="#ffadad"/>
<path d="M267 397.58H290.85V406.54H267zM351.16 451.13H359.79V458.85H351.16zM409.61 512.84H419.62V534.5H409.61z" fill="#ffd6d6"/>
<path d="M267 388.62H290.85V397.58H267zM342.53 428.18H351.16V431.47H342.53zM351.16 388.62H359.79V397.58H351.16zM359.79 388.62H368.41V397.58H359.79zM368.41 388.62H381.76V397.58H368.41zM381.76 458.85H385.43V466.58H381.76zM419.62 512.84H429.63V534.5H419.62zM419.62 451.13H429.63V458.85H419.62zM419.62 443.41H429.63V451.13H419.62zM419.62 431.47H429.63V443.41H419.62zM419.62 379.2H429.63V388.62H419.62zM429.63 388.62H439.8V397.58H429.63z" fill="#9c9cff"/>
<path d="M267 379.2H290.85V388.62H267zM429.63 512.84H439.8V534.5H429.63z" fill="#ffe6e6"/>
<path d="M290.85 497.46H308.03V512.84H290.85z" fill="#ffaaaa"/>
<path d="M290.85 489.74H308.03V497.46H290.85zM308.03 497.46H316.66V512.84H308.03zM325.28 388.62H333.91V397.58H325.28zM419.62 474.3H429.63V482.02H419.62z" fill="#7979ff"/>
<path d="M290.85 482.02H308.03V489.74H290.85zM316.66 497.46H325.28V512.84H316.66z" fill="#8383ff"/>
<path d="M290.85 474.3H308.03V482.02H290.85zM325.28 497.46H333.91V512.84H325.28z" fill="#8d8dff"/>
<path d="M290.85 466.58H308.03V474.3H290.85zM333.91 497.46H342.53V512.84H333.91z" fill="#9797ff"/>
<path d="M290.85 458.85H308.03V466.58H290.85zM342.53 497.46H351.16V512.84H342.53z" fill="#a2a2ff"/>
<path d="M290.85 428.18H308.03V431.47H290.85zM308.03 474.3H316.66V482.02H308.03zM325.28 489.74H333.91V497.46H325.28zM381.76 497.46H385.43V512.84H381.76z" fill="#ffa5a5"/>
<path d="M290.85 406.54H308.03V428.18H290.85zM308.03 388.62H316.66V397.58H308.03zM381.76 406.54H385.43V428.18H381.76zM385.43 497.46H409.61V512.84H385.43zM385.43 428.18H409.61V431.47H385.43zM385.43 388.62H409.61V397.58H385.43zM419.62 489.74H429.63V497.46H419.62zM419.62 406.54H429.63V428.18H419.62z" fill="#6b6bff"/>
<path d="M290.85 397.58H308.03V406.54H290.85zM409.61 497.46H419.62V512.84H409.61z" fill="#9b9bff"/>
<path d="M290.85 388.62H308.03V397.58H290.85zM419.62 497.46H429.63V512.84H419.62z" fill="#ff9b9b"/>
<path d="M308.03 489.74H316.66V497.46H308.03z" fill="#ff9494"/>
<path d="M308.03 482.02H316.66V489.74H308.03zM316.66 489.74H325.28V497.46H316.66z" fill="#ff9c9c"/>
<path d="M308.03 458.85H316.66V466.58H308.03zM342.53 489.74H351.16V497.46H342.53z" fill="#ffb5b5"/>
<path d="M308.03 451.13H316.66V458.85H308.03zM351.16 489.74H359.79V497.46H351.16z" fill="#ffbdbd"/>
<path d="M308.03 443.41H316.66V451.13H308.03zM359.79 489.74H368.41V497.46H359.79z" fill="#ffc5c5"/>
<path d="M308.03 431.47H316.66V443.41H308.03zM368.41 489.74H381.76V497.46H368.41z" fill="#ffe7e7"/>
<path d="M308.03 428.18H316.66V431.47H308.03zM381.76 489.74H385.43V497.46H381.76z" fill="#7171ff"/>
<path d="M308.03 406.54H316.66V428.18H308.03zM385.43 489.74H409.61V497.46H385.43zM385.43 406.54H409.61V428.18H385.43z" fill="#ff6b6b"/>
<path d="M308.03 397.58H316.66V406.54H308.03zM409.61 489.74H419.62V497.46H409.61z" fill="#ffb0b0"/>
<path d="M316.66 482.02H325.28V489.74H316.66z" fill="#ffa4a4"/>
<path d="M316.66 474.3H325.28V482.02H316.66zM325.28 482.02H333.91V489.74H325.28z" fill="#ffacac"/>
<path d="M316.66 466.58H325.28V474.3H316.66zM333.91 482.02H342.53V489.74H333.91z" fill="#ffb3b3"/>
<path d="M316.66 458.85H325.28V466.58H316.66zM342.53 482.02H351.16V489.74H342.53z" fill="#ffbbbb"/>
<path d="M316.66 451.13H325.28V458.85H316.66zM333.91 397.58H342.53V406.54H333.91zM351.16 482.02H359.79V489.74H351.16zM409.61 466.58H419.62V474.3H409.61z" fill="#ffc2c2"/>
<path d="M316.66 443.41H325.28V451.13H316.66zM359.79 482.02H368.41V489.74H359.79z" fill="#ffcaca"/>
<path d="M316.66 431.47H325.28V443.41H316.66zM368.41 482.02H381.76V489.74H368.41z" fill="#ffe9e9"/>
<path d="M316.66 428.18H325.28V431.47H316.66zM381.76 482.02H385.43V489.74H381.76z" fill="#7b7bff"/>
<path d="M316.66 406.54H325.28V428.18H316.66zM385.43 482.02H409.61V489.74H385.43z" fill="#ff6d6d"/>
<path d="M316.66 397.58H325.28V406.54H316.66zM409.61 482.02H419.62V489.74H409.61z" fill="#ffb6b6"/>
<path d="M316.66 388.62H325.28V397.58H316.66zM419.62 482.02H429.63V489.74H419.62z" fill="#6d6dff"/>
<path d="M316.66 379.2H325.28V388.62H316.66zM429.63 482.02H439.8V489.74H429.63z" fill="#ffd3d3"/>
<path d="M325.28 474.3H333.91V482.02H325.28z" fill="#ffb2b2"/>
<path d="M325.28 466.58H333.91V474.3H325.28zM333.91 474.3H342.53V482.02H333.91zM385.43 379.2H409.61V388.62H385.43zM429.63 406.54H439.8V428.18H429.63z" fill="#ffb9b9"/>
<path d="M325.28 458.85H333.91V466.58H325.28zM333.91 466.58H342.53V474.3H333.91zM342.53 474.3H351.16V482.02H342.53z" fill="#ffc0c0"/>
<path d="M325.28 451.13H333.91V458.85H325.28zM351.16 474.3H359.79V482.02H351.16z" fill="#ffc7c7"/>
<path d="M325.28 443.41H333.91V451.13H325.28zM351.16 397.58H359.79V406.54H351.16zM359.79 474.3H368.41V482.02H359.79zM409.61 451.13H419.62V458.85H409.61z" fill="#ffcece"/>
<path d="M325.28 431.47H333.91V443.41H325.28zM368.41 474.3H381.76V482.02H368.41z" fill="#ffebeb"/>
<path d="M325.28 428.18H333.91V431.47H325.28zM381.76 474.3H385.43V482.02H381.76z" fill="#8686ff"/>
<path d="M325.28 406.54H333.91V428.18H325.28zM385.43 474.3H409.61V482.02H385.43z" fill="#ff7979"/>
<path d="M325.28 397.58H333.91V406.54H325.28zM409.61 474.3H419.62V482.02H409.61z" fill="#ffbcbc"/>
<path d="M325.28 379.2H333.91V388.62H325.28zM342.53 443.41H351.16V451.13H342.53zM359.79 458.85H368.41V466.58H359.79zM429.63 474.3H439.8V482.02H429.63z" fill="#ffd7d7"/>
<path d="M333.91 458.85H342.53V466.58H333.91zM342.53 466.58H351.16V474.3H342.53z" fill="#ffc6c6"/>
<path d="M333.91 443.41H342.53V451.13H333.91zM359.79 466.58H368.41V474.3H359.79z" fill="#ffd2d2"/>
<path d="M333.91 431.47H342.53V443.41H333.91zM368.41 466.58H381.76V474.3H368.41zM368.41 397.58H381.76V406.54H368.41zM409.61 431.47H419.62V443.41H409.61z" fill="#ffeded"/>
<path d="M333.91 428.18H342.53V431.47H333.91zM342.53 388.62H351.16V397.58H342.53zM381.76 466.58H385.43V474.3H381.76zM419.62 458.85H429.63V466.58H419.62z" fill="#9191ff"/>
<path d="M333.91 406.54H342.53V428.18H333.91zM385.43 466.58H409.61V474.3H385.43z" fill="#ff8585"/>
<path d="M333.91 388.62H342.53V397.58H333.91zM419.62 466.58H429.63V474.3H419.62z" fill="#8585ff"/>
<path d="M333.91 379.2H342.53V388.62H333.91zM429.63 466.58H439.8V474.3H429.63z" fill="#ffdada"/>
<path d="M342.53 458.85H351.16V466.58H342.53z" fill="#ffcbcb"/>
<path d="M342.53 451.13H351.16V458.85H342.53zM351.16 458.85H359.79V466.58H351.16z" fill="#ffd1d1"/>
<path d="M342.53 431.47H351.16V443.41H342.53zM368.41 458.85H381.76V466.58H368.41z" fill="#ffefef"/>
<path d="M342.53 406.54H351.16V428.18H342.53zM385.43 458.85H409.61V466.58H385.43z" fill="#ff9191"/>
<path d="M342.53 379.2H351.16V388.62H342.53zM429.63 458.85H439.8V466.58H429.63z" fill="#ffdede"/>
<path d="M351.16 443.41H359.79V451.13H351.16zM359.79 451.13H368.41V458.85H359.79z" fill="#ffdbdb"/>
<path d="M351.16 431.47H359.79V443.41H351.16zM368.41 451.13H381.76V458.85H368.41z" fill="#fff0f0"/>
<path d="M351.16 406.54H359.79V428.18H351.16zM385.43 451.13H409.61V458.85H385.43z" fill="#ff9d9d"/>
<path d="M359.79 443.41H368.41V451.13H359.79z" fill="#ffe0e0"/>
<path d="M359.79 431.47H368.41V443.41H359.79zM368.41 443.41H381.76V451.13H368.41z" fill="#fff2f2"/>
<path d="M359.79 406.54H368.41V428.18H359.79zM385.43 443.41H409.61V451.13H385.43z" fill="#ffa9a9"/>
<path d="M359.79 379.2H368.41V388.62H359.79zM429.63 443.41H439.8V451.13H429.63z" fill="#ffe5e5"/>
<path d="M368.41 431.47H381.76V443.41H368.41z" fill="#fffafa"/>
<path d="M368.41 406.54H381.76V428.18H368.41zM385.43 431.47H409.61V443.41H385.43zM409.61 379.2H419.62V388.62H409.61zM429.63 397.58H439.8V406.54H429.63z" fill="#ffdcdc"/>
<path d="M368.41 379.2H381.76V388.62H368.41zM429.63 431.47H439.8V443.41H429.63z" fill="#fff4f4"/>
<path d="M381.76 428.18H385.43V431.47H381.76z" fill="#ffa0a0"/>
<path d="M381.76 397.58H385.43V406.54H381.76zM409.61 428.18H419.62V431.47H409.61z" fill="#9595ff"/>
<path d="M381.76 388.62H385.43V397.58H381.76zM419.62 428.18H429.63V431.47H419.62z" fill="#ff9595"/>
<path d="M385.43 397.58H409.61V406.54H385.43zM409.61 406.54H419.62V428.18H409.61zM419.62 388.62H429.63V397.58H419.62z" fill="#ff8a8a"/>
<path d="M409.61 397.58H419.62V406.54H409.61z" fill="#ffc4c4"/>
<path d="M409.61 388.62H419.62V397.58H409.61zM419.62 397.58H429.63V406.54H419.62z" fill="#8a8aff"/>
<path d="M429.63 379.2H439.8V388.62H429.63z" fill="#ffeaea"/></g><path d="M300.07 382.2h0.52V531.5h-0.52zM340.09 382.2h0.99V531.5h-0.99zM427.09 382.2h1.35V531.5h-1.35zM419.1 382.2h1.36V531.5h-1.36zM273.42 382.2h0.62V531.5h-0.62zM396.6 382.2h1.32V531.5h-1.32zM288.63 382.2h0.58V531.5h-0.58zM279.29 382.2h0.98V531.5h-0.98zM389.74 382.2h1.1V531.5h-1.1zM434.58 382.2h0.84V531.5h-0.84zM280.62 382.2h0.86V531.5h-0.86zM281.74 382.2h0.79V531.5h-0.79zM402.21 382.2h1.06V531.5h-1.06zM298.16 382.2h0.94V531.5h-0.94zM273.46 382.2h1.27V531.5h-1.27zM392.54 382.2h1.43V531.5h-1.43zM404.54 382.2h1.26V531.5h-1.26zM377.12 382.2h1.46V531.5h-1.46zM428.43 382.2h0.83V531.5h-0.83zM346.98 382.2h0.58V531.5h-0.58zM345.52 382.2h1.12V531.5h-1.12zM331.32 382.2h0.67V531.5h-0.67zM392.47 382.2h1.38V531.5h-1.38zM302.2 382.2h1.27V531.5h-1.27zM323.19 382.2h1.07V531.5h-1.07zM323.07 382.2h0.72V531.5h-0.72zM343.1 382.2h0.59V531.5h-0.59zM327.33 382.2h1.21V531.5h-1.21zM314.92 382.2h1.16V531.5h-1.16zM359.02 382.2h1.41V531.5h-1.41z" fill="#fff" fill-opacity="0.22"/><path d="M270 451.36H436.8v1.22H270zM270 384.11H436.8v0.99H270zM270 491.18H436.8v0.61H270zM270 406.85H436.8v1.13H270zM270 429.43H436.8v0.66H270zM270 433.65H436.8v0.82H270zM270 488.61H436.8v1.1H270zM270 442.17H436.8v1.35H270zM270 464.67H436.8v1.45H270zM270 418.01H436.8v1.3H270zM270 392.65H436.8v0.82H270zM270 500.16H436.8v1.41H270zM270 474.17H436.8v0.86H270zM270 491.61H436.8v0.56H270zM270 426.98H436.8v1.2H270zM270 441.97H436.8v0.86H270zM270 479.64H436.8v1.31H270zM270 432.05H436.8v1.24H270zM270 473.52H436.8v0.87H270zM270 385.09H436.8v1.26H270zM270 492.67H436.8v0.92H270zM270 500.73H436.8v1.33H270zM270 478.95H436.8v1.2H270zM270 432.08H436.8v0.94H270zM270 480.54H436.8v1.08H270zM270 508.35H436.8v0.8H270zM270 427.14H436.8v0.59H270zM270 527.61H436.8v1.13H270zM270 475.81H436.8v1.33H270zM270 444.23H436.8v0.79H270z" fill="#fff" fill-opacity="0.22"/></g>
<line x1="270" y1="531.5" x2="436.8" y2="382.2" stroke="#c00000" stroke-width="1.4"/>
<rect x="270" y="382.2" width="166.8" height="149.3" fill="none" stroke="#000" stroke-width="1.7"/>
<line x1="421.4" y1="531.5" x2="421.4" y2="528.9" stroke="#000" stroke-width="1.2"/>
<text x="420.1" y="544.4" font-size="11" text-anchor="middle">1000</text>
<line x1="372.2" y1="531.5" x2="372.2" y2="528.9" stroke="#000" stroke-width="1.2"/>
<line x1="396.8" y1="531.5" x2="396.8" y2="529.9" stroke="#000" stroke-width="1.2"/>
<text x="370.6" y="544.4" font-size="11" text-anchor="middle">2000</text>
<line x1="323" y1="531.5" x2="323" y2="528.9" stroke="#000" stroke-width="1.2"/>
<line x1="347.6" y1="531.5" x2="347.6" y2="529.9" stroke="#000" stroke-width="1.2"/>
<text x="321.2" y="544.4" font-size="11" text-anchor="middle">3000</text>
<line x1="298.4" y1="531.5" x2="298.4" y2="529.9" stroke="#000" stroke-width="1.2"/>
<line x1="270" y1="396.3" x2="272.6" y2="396.3" stroke="#000" stroke-width="1.2"/>
<line x1="270" y1="419.15" x2="271.6" y2="419.15" stroke="#000" stroke-width="1.2"/>
<text x="265.9" y="400.2" font-size="11" text-anchor="end">1000</text>
<line x1="270" y1="442" x2="272.6" y2="442" stroke="#000" stroke-width="1.2"/>
<line x1="270" y1="464.85" x2="271.6" y2="464.85" stroke="#000" stroke-width="1.2"/>
<text x="265.9" y="445.9" font-size="11" text-anchor="end">2000</text>
<line x1="270" y1="487.6" x2="272.6" y2="487.6" stroke="#000" stroke-width="1.2"/>
<line x1="270" y1="510.45" x2="271.6" y2="510.45" stroke="#000" stroke-width="1.2"/>
<text x="265.9" y="491.5" font-size="11" text-anchor="end">3000</text>
<g transform="translate(297.2 556.3)">
<text x="0" y="0" font-size="12.6" textLength="103.26" lengthAdjust="spacingAndGlyphs">Wavenumber (cm</text>
<text x="103.56" y="-5.29" font-size="8.19">-1</text>
<text x="110.86" y="0" font-size="12.6">)</text>
</g>
<g transform="translate(237.8 446) rotate(-90)">
<text x="-57.85" y="0" font-size="12.6" textLength="104.26" lengthAdjust="spacingAndGlyphs">Wavenumber (cm</text>
<text x="46.71" y="-5.29" font-size="8.19">-1</text>
<text x="54.07" y="0" font-size="12.6">)</text>
</g>
<text x="267.7" y="377.3" font-size="11.5" textLength="16.6" lengthAdjust="spacingAndGlyphs">(H)</text>
<clipPath id="clipI"><rect x="507.8" y="382" width="166.8" height="149.8"/></clipPath>
<g clip-path="url(#clipI)"><g filter="url(#blur2)"><path d="M524.48 516.82H534.49V534.8H524.48zM534.49 516.82H541.16V534.8H534.49zM534.49 444.92H541.16V459.9H534.49zM534.49 431.43H541.16V444.92H534.49zM649.58 387.99H654.58V396.23H649.58z" fill="#ccccff"/>
<path d="M541.16 516.82H562.84V534.8H541.16zM604.54 482.37H619.56V501.84H604.54zM541.16 459.9H562.84V482.37H541.16zM604.54 459.9H619.56V482.37H604.54zM604.54 444.92H619.56V459.9H604.54zM658.75 444.92H667.93V459.9H658.75zM504.8 387.99H524.48V396.23H504.8z" fill="#ffe0e0"/>
<path d="M562.84 516.82H587.86V534.8H562.84zM587.86 516.82H604.54V534.8H587.86z" fill="#ffebeb"/>
<path d="M604.54 516.82H619.56V534.8H604.54zM524.48 501.84H534.49V507.83H524.48zM658.75 431.43H667.93V444.92H658.75zM667.93 396.23H677.6V399.98H667.93z" fill="#ffe6e6"/>
<path d="M624.56 516.82H649.58V534.8H624.56z" fill="#ffabab"/>
<path d="M649.58 516.82H654.58V534.8H649.58z" fill="#c7c7ff"/>
<path d="M654.58 516.82H658.75V534.8H654.58zM624.56 426.94L649.58 404.47L649.58 426.94zM541.16 379H562.84V387.99H541.16zM562.84 379H587.86V387.99H562.84zM587.86 379H604.54V387.99H587.86z" fill="#f2f2ff"/>
<path d="M658.75 516.82H667.93V534.8H658.75zM504.8 482.37H524.48V501.84H504.8zM562.84 482.37H587.86V501.84H562.84zM541.16 431.43H562.84V444.92H541.16zM562.84 431.43H587.86V444.92H562.84zM587.86 431.43H604.54V444.92H587.86zM587.86 387.99H604.54V396.23H587.86z" fill="#e0e0ff"/>
<path d="M504.8 507.83H524.48V516.82H504.8zM504.8 501.84H524.48V507.83H504.8zM587.86 501.84H604.54V507.83H587.86zM604.54 501.84H619.56V507.83H604.54zM624.56 444.92H649.58V459.9H624.56zM524.48 426.94H534.49V431.43H524.48zM658.75 399.98H667.93V404.47H658.75z" fill="#ffcccc"/>
<path d="M534.49 507.83H541.16V516.82H534.49zM504.8 431.43H524.48V444.92H504.8zM604.54 387.99H619.56V396.23H604.54zM654.58 379H658.75V387.99H654.58z" fill="#e6e6ff"/>
<path d="M541.16 507.83H562.84V516.82H541.16z" fill="#ff4d4d"/>
<path d="M562.84 507.83H587.86V516.82H562.84zM619.56 399.98H624.56V404.47H619.56zM587.86 396.23H604.54V399.98H587.86z" fill="#ff7373"/>
<path d="M587.86 507.83H604.54V516.82H587.86zM619.56 482.37H624.56V501.84H619.56zM619.56 459.9H624.56V482.37H619.56zM619.56 444.92H624.56V459.9H619.56zM619.56 404.47H624.56V426.94H619.56z" fill="#ff8c8c"/>
<path d="M604.54 507.83H619.56V516.82H604.54zM562.84 501.84H587.86V507.83H562.84zM534.49 387.99H541.16V396.23H534.49z" fill="#ffbfbf"/>
<path d="M619.56 507.83H624.56V516.82H619.56zM649.58 444.92H654.58V459.9H649.58zM587.86 404.47H604.54V426.94H587.86zM624.56 387.99H649.58V396.23H624.56zM619.56 379H624.56V387.99H619.56zM624.56 379H649.58V387.99H624.56z" fill="#a6a6ff"/>
<path d="M624.56 507.83H649.58V516.82H624.56zM619.56 396.23H624.56V399.98H619.56zM624.56 396.23H649.58V399.98H624.56z" fill="#ff5959"/>
<path d="M654.58 507.83H658.75V516.82H654.58zM624.56 399.98H649.58V404.47H624.56z" fill="#ff8080"/>
<path d="M658.75 507.83H667.93V516.82H658.75zM649.58 482.37H654.58V501.84H649.58zM649.58 459.9H654.58V482.37H649.58zM654.58 431.43H658.75V444.92H654.58zM604.54 426.94H619.56V431.43H604.54zM534.49 404.47H541.16V426.94H534.49z" fill="#9999ff"/>
<path d="M667.93 507.83H677.6V516.82H667.93zM667.93 501.84H677.6V507.83H667.93zM658.75 482.37H667.93V501.84H658.75zM658.75 459.9H667.93V482.37H658.75zM541.16 444.92H562.84V459.9H541.16zM562.84 444.92H587.86V459.9H562.84zM667.93 431.43H677.6V444.92H667.93zM534.49 426.94H541.16V431.43H534.49z" fill="#ffd9d9"/>
<path d="M541.16 501.84H562.84V507.83H541.16zM654.58 501.84H658.75V507.83H654.58zM658.75 426.94H667.93V431.43H658.75zM604.54 399.98H619.56V404.47H604.54zM649.58 404.47L654.58 399.98L654.58 404.47zM654.58 399.98H658.75V404.47H654.58zM667.93 399.98H677.6V404.47H667.93zM524.48 387.99H534.49V396.23H524.48z" fill="#ffb2b2"/>
<path d="M619.56 501.84H624.56V507.83H619.56zM587.86 482.37H604.54V501.84H587.86zM587.86 459.9H604.54V482.37H587.86zM624.56 431.43H649.58V444.92H624.56zM541.16 387.99H562.84V396.23H541.16zM562.84 387.99H587.86V396.23H562.84zM524.48 379H534.49V387.99H524.48zM534.49 379H541.16V387.99H534.49zM604.54 379H619.56V387.99H604.54z" fill="#d9d9ff"/>
<path d="M624.56 501.84H649.58V507.83H624.56zM619.56 431.43H624.56V444.92H619.56zM541.16 399.98H562.84V404.47H541.16zM562.84 399.98H587.86V404.47H562.84zM604.54 396.23H619.56V399.98H604.54z" fill="#ff9999"/>
<path d="M658.75 501.84H667.93V507.83H658.75zM534.49 459.9H541.16V482.37H534.49zM524.48 431.43H534.49V444.92H524.48z" fill="#bfbfff"/>
<path d="M524.48 482.37H534.49V501.84H524.48z" fill="#4d4dff"/>
<path d="M534.49 482.37H541.16V501.84H534.49zM649.58 431.43H654.58V444.92H649.58zM541.16 404.47H562.84V426.94H541.16zM649.58 404.47L649.58 399.98L654.58 399.98zM534.49 396.23H541.16V399.98H534.49zM649.58 396.23H654.58V399.98H649.58zM619.56 387.99H624.56V396.23H619.56zM649.58 379H654.58V387.99H649.58z" fill="#b2b2ff"/>
<path d="M624.56 482.37H649.58V501.84H624.56zM624.56 459.9H649.58V482.37H624.56z" fill="#ffd1d1"/>
<path d="M654.58 482.37H658.75V501.84H654.58zM654.58 459.9H658.75V482.37H654.58z" fill="#6666ff"/>
<path d="M667.93 482.37H677.6V501.84H667.93zM667.93 459.9H677.6V482.37H667.93zM667.93 444.92H677.6V459.9H667.93zM624.56 426.94L624.56 404.47L649.58 404.47zM504.8 396.23H524.48V399.98H504.8z" fill="#fff2f2"/>
<path d="M504.8 459.9H524.48V482.37H504.8zM504.8 444.92H524.48V459.9H504.8z" fill="#ebebff"/>
<path d="M524.48 459.9H534.49V482.37H524.48zM654.58 444.92H658.75V459.9H654.58zM649.58 426.94H654.58V431.43H649.58z" fill="#7373ff"/>
<path d="M524.48 444.92H534.49V459.9H524.48zM541.16 426.94H562.84V431.43H541.16zM562.84 426.94H587.86V431.43H562.84zM587.86 426.94H604.54V431.43H587.86zM624.56 426.94H649.58V431.43H624.56z" fill="#8c8cff"/>
<path d="M654.58 426.94H658.75V431.43H654.58zM524.48 404.47H534.49V426.94H524.48zM654.58 404.47H658.75V426.94H654.58z" fill="#5959ff"/>
<path d="M667.93 426.94H677.6V431.43H667.93zM658.75 404.47H667.93V426.94H658.75zM667.93 404.47H677.6V426.94H667.93zM587.86 399.98H604.54V404.47H587.86z" fill="#ffa6a6"/>
<path d="M504.8 404.47H524.48V426.94H504.8z" fill="#ababff"/>
<path d="M562.84 404.47H587.86V426.94H562.84z" fill="#b8b8ff"/>
<path d="M604.54 404.47H619.56V426.94H604.54zM504.8 399.98H524.48V404.47H504.8z" fill="#ffc7c7"/>
<path d="M649.58 404.47H654.58V426.94H649.58zM524.48 396.23H534.49V399.98H524.48z" fill="#8080ff"/>
<path d="M541.16 396.23H562.84V399.98H541.16zM562.84 396.23H587.86V399.98H562.84z" fill="#ff6666"/></g><path d="M533.51 382h1.24V531.8h-1.24zM510.23 382h1.42V531.8h-1.42zM667.42 382h0.64V531.8h-0.64zM665.3 382h1.35V531.8h-1.35zM599.88 382h0.99V531.8h-0.99zM635.33 382h0.52V531.8h-0.52zM559.49 382h1.17V531.8h-1.17zM556.1 382h1.23V531.8h-1.23zM563.62 382h1.48V531.8h-1.48zM635.81 382h1.33V531.8h-1.33zM574.63 382h1.5V531.8h-1.5zM577.73 382h0.92V531.8h-0.92zM585.45 382h0.54V531.8h-0.54zM613.92 382h0.53V531.8h-0.53zM516.98 382h1.02V531.8h-1.02zM603.28 382h1.3V531.8h-1.3zM614.83 382h0.99V531.8h-0.99zM657.04 382h1.11V531.8h-1.11zM587.87 382h1.39V531.8h-1.39zM520.05 382h1.1V531.8h-1.1zM614.12 382h1.36V531.8h-1.36zM619.55 382h1.42V531.8h-1.42zM561.09 382h0.79V531.8h-0.79zM665.69 382h1.36V531.8h-1.36zM657.94 382h1.42V531.8h-1.42zM572.05 382h1.1V531.8h-1.1zM559.89 382h0.57V531.8h-0.57zM540.27 382h0.71V531.8h-0.71zM655.45 382h0.7V531.8h-0.7zM593.14 382h0.83V531.8h-0.83z" fill="#fff" fill-opacity="0.22"/><path d="M507.8 421.44H674.6v1.03H507.8zM507.8 516.93H674.6v0.53H507.8zM507.8 424.52H674.6v1.11H507.8zM507.8 382.34H674.6v1.02H507.8zM507.8 497.07H674.6v0.66H507.8zM507.8 402.25H674.6v0.62H507.8zM507.8 452.59H674.6v1.32H507.8zM507.8 487.25H674.6v0.83H507.8zM507.8 475.56H674.6v1.45H507.8zM507.8 442.91H674.6v0.95H507.8zM507.8 408.6H674.6v1.46H507.8zM507.8 451.38H674.6v0.87H507.8zM507.8 394.62H674.6v1.23H507.8zM507.8 426.97H674.6v0.72H507.8zM507.8 444.37H674.6v0.55H507.8zM507.8 399.02H674.6v0.78H507.8zM507.8 457.88H674.6v0.96H507.8zM507.8 472.38H674.6v0.94H507.8zM507.8 413.23H674.6v1.44H507.8zM507.8 386.67H674.6v1.17H507.8zM507.8 523.06H674.6v0.95H507.8zM507.8 474.79H674.6v0.82H507.8zM507.8 525.42H674.6v0.91H507.8zM507.8 485.2H674.6v0.5H507.8zM507.8 382.89H674.6v1.14H507.8zM507.8 473.5H674.6v1.1H507.8zM507.8 501.95H674.6v1.41H507.8zM507.8 438.54H674.6v0.9H507.8zM507.8 444.77H674.6v1.15H507.8zM507.8 498.62H674.6v0.64H507.8z" fill="#fff" fill-opacity="0.22"/></g>
<line x1="507.8" y1="531.8" x2="674.6" y2="382" stroke="#c00000" stroke-width="1.4"/>
<rect x="507.8" y="382" width="166.8" height="149.8" fill="none" stroke="#000" stroke-width="1.7"/>
<line x1="659.1" y1="531.8" x2="659.1" y2="529.2" stroke="#000" stroke-width="1.2"/>
<text x="657.1" y="544.4" font-size="11" text-anchor="middle">1000</text>
<line x1="609.9" y1="531.8" x2="609.9" y2="529.2" stroke="#000" stroke-width="1.2"/>
<line x1="634.5" y1="531.8" x2="634.5" y2="530.2" stroke="#000" stroke-width="1.2"/>
<text x="607.8" y="544.4" font-size="11" text-anchor="middle">2000</text>
<line x1="560.7" y1="531.8" x2="560.7" y2="529.2" stroke="#000" stroke-width="1.2"/>
<line x1="585.3" y1="531.8" x2="585.3" y2="530.2" stroke="#000" stroke-width="1.2"/>
<text x="558.4" y="544.4" font-size="11" text-anchor="middle">3000</text>
<line x1="536.1" y1="531.8" x2="536.1" y2="530.2" stroke="#000" stroke-width="1.2"/>
<line x1="507.8" y1="396.1" x2="510.4" y2="396.1" stroke="#000" stroke-width="1.2"/>
<line x1="507.8" y1="418.95" x2="509.4" y2="418.95" stroke="#000" stroke-width="1.2"/>
<text x="506.4" y="400" font-size="11" text-anchor="end">1000</text>
<line x1="507.8" y1="441.8" x2="510.4" y2="441.8" stroke="#000" stroke-width="1.2"/>
<line x1="507.8" y1="464.65" x2="509.4" y2="464.65" stroke="#000" stroke-width="1.2"/>
<text x="506.4" y="445.7" font-size="11" text-anchor="end">2000</text>
<line x1="507.8" y1="487.4" x2="510.4" y2="487.4" stroke="#000" stroke-width="1.2"/>
<line x1="507.8" y1="510.25" x2="509.4" y2="510.25" stroke="#000" stroke-width="1.2"/>
<text x="506.4" y="491.3" font-size="11" text-anchor="end">3000</text>
<g transform="translate(534.1 556.3)">
<text x="0" y="0" font-size="12.6" textLength="104.62" lengthAdjust="spacingAndGlyphs">Wavenumber (cm</text>
<text x="104.92" y="-5.29" font-size="8.19">-1</text>
<text x="112.3" y="0" font-size="12.6">)</text>
</g>
<g transform="translate(477.8 446) rotate(-90)">
<text x="-57.85" y="0" font-size="12.6" textLength="104.26" lengthAdjust="spacingAndGlyphs">Wavenumber (cm</text>
<text x="46.71" y="-5.29" font-size="8.19">-1</text>
<text x="54.07" y="0" font-size="12.6">)</text>
</g>
<text x="508.2" y="377.3" font-size="11.5" textLength="11.3" lengthAdjust="spacingAndGlyphs">(I)</text>
</svg>
</body></html>
